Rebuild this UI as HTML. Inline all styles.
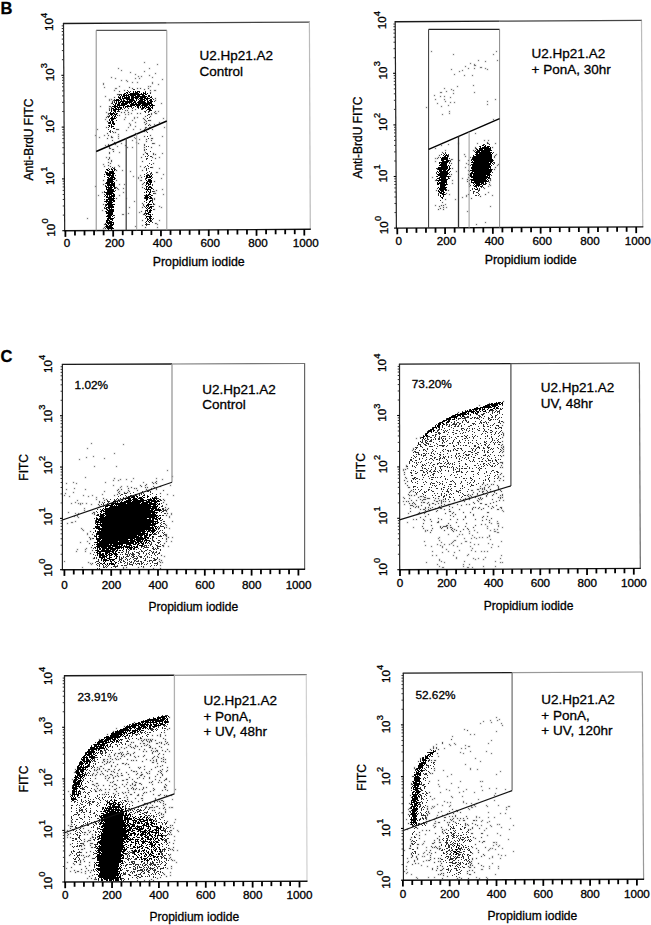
<!DOCTYPE html><html><head><meta charset="utf-8"><style>html,body{margin:0;padding:0;background:#fff;width:651px;height:925px;overflow:hidden}text{stroke:#000;stroke-width:0.3px}</style></head><body><svg width="651" height="925" viewBox="0 0 651 925" style="position:absolute;left:0;top:0" font-family='"Liberation Sans", sans-serif' fill="#000"><rect width="651" height="925" fill="#fff"/><path d="M143.5 62.5h2M156.5 64.5h2M117.5 68.5h2m29 0h2M120.5 70.5h2M143.5 71.5h2M129.5 72.5h2M154.5 73.5h2M134.5 74.5h2M148.5 75.5h2M137.5 76.5h2m1 0h2M110.5 77.5h2m39 0h2M114.5 78.5h2m18 0h2m2 0h2M161.5 79.5h2M120.5 80.5h2m3 0h2M126.5 81.5h2M131.5 82.5h2m3 0h2m13 0h2M102.5 83.5h2m47 0h2M102.5 84.5h2m53 0h2M118.5 86.5h2m27 0h2m0 0h2M103.5 87.5h2m23 0h2M114.5 88.5h3m14 0h2m3 0h2m1 0h2m6 0h2M143.5 89.5h2M113.5 90.5h2m8 0h2m24 0h2m2 0h3M118.5 91.5h2M149.5 92.5h2M116.5 94.5h3M104.5 96.5h2M113.5 97.5h2M154.5 98.5h2M108.5 99.5h2m0 0h2M108.5 100.5h2m2 0h2m40 0h2M111.5 101.5h2M110.5 103.5h2m48 0h2M99.5 106.5h2m7 0h3M108.5 108.5h2M108.5 109.5h2m24 0h2M124.5 110.5h2m0 0h2m3 0h2M154.5 111.5h2m1 0h2M105.5 112.5h2m13 0h2m1 0h2m2 0h2m24 0h2M107.5 113.5h2m21 0h2m4 0h2m1 0h2m9 0h2m2 0h3M107.5 114.5h2m15 0h2m1 0h2m21 0h2M118.5 115.5h2M106.5 116.5h2m36 0h2m3 0h2M105.5 117.5h2m17 0h2m7 0h2m1 0h2M133.5 118.5h2m7 0h2m18 0h2M104.5 119.5h2m17 0h2m18 0h2M131.5 120.5h2m11 0h2m2 0h3M106.5 121.5h2m37 0h2M134.5 122.5h2m7 0h2m13 0h2M128.5 123.5h2m15 0h2M129.5 124.5h2m13 0h2m2 0h2m3 0h2M129.5 125.5h2m18 0h2M134.5 126.5h2M105.5 127.5h2m20 0h2m15 0h3m1 0h2m13 0h2M144.5 128.5h2M96.5 129.5h2m17 0h4m13 0h2m5 0h2m2 0h2m6 0h2M125.5 130.5h2M141.5 131.5h2m0 0h2m0 0h2M112.5 132.5h2m0 0h2M106.5 133.5h2m26 0h2M117.5 134.5h2M94.5 135.5h2m7 0h2m2 0h2m40 0h2M110.5 136.5h2m5 0h2m10 0h3m11 0h2m16 0h2M98.5 137.5h2m10 0h3m20 0h2M106.5 138.5h2m9 0h2m15 0h2m14 0h3M138.5 139.5h2m5 0h2M111.5 140.5h2m18 0h2m17 0h2M118.5 141.5h2m25 0h2M113.5 142.5h2m20 0h2M120.5 143.5h2m15 0h2m12 0h4M107.5 144.5h2m5 0h2m27 0h2M104.5 145.5h2m1 0h2m15 0h2m17 0h2m13 0h2M107.5 146.5h3m6 0h2M108.5 147.5h2m16 0h2m3 0h2m10 0h2m5 0h2M108.5 148.5h3M111.5 149.5h3m29 0h2M143.5 150.5h2M112.5 151.5h2M108.5 152.5h2m8 0h2m24 0h2M108.5 153.5h2m42 0h2m7 0h2M142.5 154.5h2m8 0h2m0 0h2M105.5 157.5h2m1 0h2m30 0h2m9 0h2m5 0h2M108.5 158.5h2m44 0h2M107.5 159.5h2M110.5 160.5h2M110.5 161.5h2m29 0h2M107.5 162.5h2M109.5 163.5h2m41 0h2M102.5 164.5h2M107.5 165.5h2m8 0h2M103.5 166.5h2m4 0h2m7 0h2m19 0h2M113.5 167.5h2m28 0h2m6 0h2M158.5 168.5h2M115.5 170.5h2m4 0h2m18 0h2M129.5 171.5h2M155.5 172.5h3M162.5 174.5h2M139.5 175.5h2M132.5 176.5h2M137.5 177.5h2m1 0h2M137.5 178.5h2m21 0h2M102.5 180.5h2m11 0h2m22 0h3M153.5 181.5h2M142.5 183.5h2M102.5 184.5h2m14 0h2m3 0h2m16 0h2M94.5 186.5h2M115.5 187.5h2m24 0h2M116.5 188.5h2m4 0h2M117.5 189.5h2m42 0h2M155.5 190.5h2M153.5 191.5h2M101.5 192.5h2m19 0h2M153.5 193.5h3M162.5 194.5h2M97.5 195.5h2m19 0h2M115.5 198.5h2m8 0h2m26 0h2M153.5 199.5h2M133.5 201.5h2M141.5 203.5h2M102.5 204.5h2m38 0h2m9 0h2M142.5 205.5h2M158.5 206.5h2M128.5 207.5h2m11 0h2m17 0h2M153.5 209.5h2M101.5 210.5h2M140.5 211.5h2M138.5 212.5h2M127.5 213.5h2M121.5 214.5h3m18 0h2M86.5 218.5h2M141.5 220.5h2m15 0h2M154.5 223.5h3M103.5 224.5h2m51 0h2M141.5 225.5h2M134.5 226.5h2M103.5 227.5h2m39 0h2m10 0h2M102.5 228.5h2M430.5 51.5h2m63 0h2M452.5 54.5h2m38 0h2M477.5 60.5h2m17 0h2M484.5 61.5h2M469.5 63.5h2M473.5 64.5h2M473.5 65.5h3M464.5 66.5h2M479.5 67.5h3M467.5 68.5h2m4 0h2m9 0h2M450.5 69.5h2m34 0h2M461.5 70.5h2M458.5 71.5h2M453.5 74.5h2M463.5 75.5h2m6 0h2M472.5 85.5h2M456.5 86.5h2M443.5 88.5h2M450.5 89.5h2M452.5 90.5h2M445.5 91.5h2M439.5 92.5h3m31 0h2M452.5 93.5h2M433.5 95.5h2M439.5 96.5h2m2 0h2M449.5 97.5h2M434.5 99.5h2m7 0h2m49 0h2M444.5 101.5h2m40 0h2M449.5 102.5h2m2 0h2M436.5 103.5h2M486.5 104.5h2M447.5 105.5h2M440.5 106.5h2M425.5 107.5h2M448.5 111.5h2M448.5 113.5h2M441.5 114.5h2M492.5 119.5h2M474.5 133.5h2M483.5 140.5h2m2 0h2M486.5 142.5h2M457.5 143.5h2m17 0h2m9 0h2m5 0h2M447.5 144.5h2M440.5 145.5h2M474.5 147.5h2m15 0h2M434.5 148.5h2m38 0h2M444.5 150.5h2m26 0h2M441.5 152.5h2M463.5 154.5h2m30 0h2M438.5 155.5h2m54 0h2M464.5 156.5h2m27 0h2M437.5 157.5h2m30 0h2m22 0h2M434.5 158.5h2m0 0h2M450.5 159.5h3M449.5 160.5h2m7 0h2m7 0h2M434.5 161.5h2M450.5 163.5h2m13 0h2M467.5 164.5h2m28 0h2M496.5 165.5h2M464.5 167.5h2m28 0h2M451.5 168.5h2M493.5 169.5h2M467.5 170.5h2M455.5 171.5h2M450.5 174.5h2m15 0h2M449.5 176.5h2M431.5 177.5h2m34 0h2M461.5 178.5h2M466.5 179.5h2m21 0h2M434.5 180.5h2m15 0h2m36 0h2M466.5 181.5h2M488.5 182.5h2M451.5 183.5h2m15 0h2M468.5 184.5h2m18 0h2M489.5 185.5h2M468.5 186.5h2m17 0h2M483.5 188.5h2M435.5 190.5h2m10 0h2M487.5 192.5h2M445.5 193.5h2M448.5 194.5h2m17 0h2m15 0h2M465.5 195.5h2m24 0h2M465.5 196.5h2m12 0h2M461.5 197.5h2M470.5 198.5h2M444.5 199.5h2m8 0h2M441.5 202.5h2M444.5 204.5h2M434.5 205.5h2m4 0h2m0 0h2M438.5 206.5h2m49 0h2M442.5 207.5h2m1 0h2M439.5 208.5h2M437.5 209.5h2m3 0h2M466.5 211.5h2M484.5 222.5h2M475.5 224.5h2M90.5 443.5h2M122.5 444.5h2M86.5 448.5h2M113.5 453.5h2M92.5 456.5h2M85.5 457.5h2M103.5 458.5h2M78.5 459.5h2M93.5 466.5h2m20 0h2M166.5 470.5h2M171.5 476.5h2M84.5 477.5h2M113.5 478.5h2m17 0h2m21 0h2M119.5 479.5h2m4 0h2m34 0h2M112.5 480.5h2m3 0h2M130.5 481.5h2m23 0h2M72.5 482.5h2m30 0h2m36 0h2m7 0h2m1 0h2M65.5 483.5h2m8 0h2m75 0h2m1 0h2M145.5 484.5h2M112.5 485.5h2m25 0h2m3 0h2m23 0h2M120.5 486.5h2m4 0h2m12 0h2m10 0h2m5 0h2M119.5 487.5h2m9 0h2m12 0h2m0 0h2m5 0h2M73.5 488.5h2m52 0h2m4 0h2m0 0h2m13 0h2m3 0h2M65.5 489.5h2m17 0h2m31 0h2m1 0h2m23 0h2m3 0h2m3 0h2M116.5 490.5h2m9 0h2m7 0h2m10 0h2m12 0h2M103.5 491.5h2m13 0h2m8 0h2M72.5 492.5h2m43 0h2m4 0h2m1 0h2M64.5 493.5h2m52 0h2m39 0h2M101.5 494.5h2m13 0h2m48 0h2M63.5 495.5h2m17 0h2m7 0h2m20 0h2m57 0h2M68.5 496.5h2m17 0h2M95.5 497.5h2M102.5 498.5h2M95.5 499.5h2m8 0h2m55 0h2M76.5 500.5h2m25 0h2m58 0h2M98.5 501.5h2M74.5 502.5h2m22 0h2m1 0h2m59 0h2M70.5 503.5h2m5 0h2m0 0h2m0 0h2m2 0h2M79.5 504.5h2m9 0h2m5 0h2m66 0h2M98.5 505.5h2M97.5 507.5h2m65 0h2M83.5 508.5h2m82 0h2M164.5 509.5h2m0 0h2M83.5 510.5h2m80 0h2M165.5 511.5h2M67.5 512.5h2m23 0h3M74.5 513.5h2m1 0h2m12 0h2m0 0h2m71 0h2m2 0h2M93.5 514.5h2m75 0h2M76.5 515.5h2m87 0h2M73.5 516.5h2m1 0h2m90 0h2M77.5 517.5h2m89 0h2M74.5 521.5h2m95 0h2M70.5 522.5h3M66.5 523.5h2M164.5 524.5h2M165.5 525.5h2M165.5 527.5h2M80.5 528.5h2m86 0h2M81.5 529.5h2M82.5 530.5h2M89.5 531.5h2M86.5 533.5h2M86.5 534.5h2m3 0h2m71 0h3M164.5 535.5h3M165.5 536.5h2M88.5 537.5h2m77 0h2m2 0h2M89.5 538.5h2m0 0h2m72 0h2M89.5 539.5h2m74 0h2M86.5 541.5h2m77 0h2m3 0h2M79.5 542.5h2M88.5 543.5h2m73 0h2M162.5 545.5h2M162.5 546.5h2m3 0h2M90.5 547.5h2M85.5 548.5h2M76.5 549.5h2m6 0h2M91.5 550.5h2M75.5 551.5h2m7 0h2M89.5 553.5h2M160.5 555.5h2M163.5 556.5h2M92.5 558.5h2M158.5 559.5h2M160.5 560.5h2M63.5 561.5h2m93 0h2M87.5 562.5h2m70 0h2m0 0h2M89.5 563.5h2m0 0h2M90.5 564.5h2M159.5 565.5h2M81.5 567.5h2m39 0h2m1 0h2m10 0h2m3 0h2M122.5 568.5h2m28 0h2m5 0h2M502.5 401.5h2M488.5 403.5h2M478.5 405.5h2M457.5 412.5h2M502.5 422.5h2M501.5 425.5h2M501.5 432.5h2M502.5 433.5h2M502.5 434.5h2M502.5 435.5h2M419.5 437.5h2m80 0h2M415.5 438.5h2M501.5 441.5h2M501.5 444.5h2M500.5 445.5h2M502.5 446.5h2M500.5 447.5h2m0 0h2M412.5 448.5h2m87 0h2M412.5 449.5h2m88 0h2M411.5 450.5h2m87 0h2M502.5 451.5h2M501.5 452.5h2M502.5 455.5h2M500.5 456.5h2M499.5 462.5h4M501.5 463.5h2M405.5 465.5h2m93 0h2M405.5 466.5h2M499.5 467.5h2m0 0h2M406.5 468.5h2M402.5 469.5h2m0 0h2M402.5 470.5h2M403.5 472.5h2M500.5 473.5h2M403.5 474.5h2m94 0h2M497.5 476.5h2m3 0h2M404.5 477.5h2m91 0h2M405.5 478.5h2m92 0h2M403.5 480.5h2m93 0h2m2 0h2M406.5 481.5h2m85 0h2M404.5 483.5h2m76 0h2M481.5 484.5h2m3 0h2m2 0h2m0 0h2M406.5 485.5h2m76 0h2m10 0h2M479.5 486.5h2m7 0h2m7 0h2M407.5 487.5h3m73 0h2m2 0h2m8 0h2M479.5 488.5h2m0 0h2m0 0h2m12 0h2M476.5 489.5h3m2 0h2m0 0h2m4 0h2m6 0h2M410.5 490.5h2m58 0h3m12 0h2m12 0h2M409.5 491.5h2m1 0h2m64 0h2m1 0h3m2 0h2m1 0h2m2 0h2m5 0h2M408.5 492.5h2m62 0h2m7 0h2m10 0h2M476.5 493.5h2m4 0h2m11 0h2M407.5 494.5h2m6 0h2m50 0h2m2 0h2m3 0h2m8 0h2m4 0h2m7 0h2M408.5 495.5h2m0 0h2m1 0h2m51 0h2m1 0h2m14 0h2m4 0h2m6 0h2m0 0h2M419.5 496.5h3m0 0h2m43 0h2m1 0h2m2 0h2m9 0h2M402.5 497.5h2m13 0h2m4 0h3m42 0h2m4 0h2m3 0h2m16 0h2m0 0h2m0 0h2M403.5 498.5h2m3 0h2m16 0h4m4 0h2m1 0h2m25 0h2m11 0h2m0 0h2m0 0h2m16 0h2M419.5 499.5h2m1 0h4m16 0h2m15 0h2m1 0h2m4 0h2m8 0h2m0 0h2m9 0h2M410.5 500.5h2m3 0h2m4 0h2m10 0h2m3 0h2m0 0h2m11 0h2m7 0h2m12 0h2m20 0h2m2 0h2M402.5 501.5h2m1 0h2m0 0h2m26 0h3m2 0h2m0 0h2m0 0h2m2 0h2m13 0h2m12 0h2m16 0h2M412.5 502.5h2m6 0h2m0 0h3m2 0h2m11 0h2m30 0h2m18 0h2M408.5 503.5h2m1 0h2m0 0h2m11 0h2m3 0h3m3 0h2m1 0h2m10 0h2m19 0h2m4 0h3m7 0h2M403.5 504.5h2m9 0h2m12 0h2m4 0h2m7 0h2m2 0h3m6 0h2m7 0h2m1 0h2m14 0h3M409.5 505.5h4m7 0h2m6 0h2m10 0h2m3 0h2m13 0h2m33 0h2M412.5 506.5h2m1 0h2m0 0h2m19 0h2m8 0h2m37 0h2m2 0h2M414.5 507.5h2m1 0h2m5 0h2m1 0h2m2 0h2m4 0h3m11 0h2m19 0h2m0 0h2m2 0h2m12 0h2m5 0h3M409.5 508.5h2m13 0h2m3 0h2m3 0h2m3 0h3m29 0h2m4 0h2m3 0h2m6 0h2m8 0h2M419.5 509.5h2m1 0h3m2 0h2m14 0h2m3 0h2m8 0h2m11 0h2m7 0h2m14 0h3M424.5 510.5h2m2 0h2m6 0h2m63 0h2M409.5 511.5h2m14 0h2m8 0h2m11 0h3m51 0h2M418.5 512.5h2m4 0h2m26 0h2m8 0h2m5 0h2m15 0h3M407.5 513.5h2m8 0h2m0 0h2m2 0h2m19 0h2m5 0h2M416.5 514.5h2m9 0h2m25 0h2m16 0h2M449.5 515.5h2m21 0h2M424.5 516.5h2m26 0h2m10 0h2m16 0h2m2 0h2M419.5 517.5h2m43 0h2m15 0h2M437.5 518.5h2m51 0h2M412.5 519.5h2m1 0h2m5 0h2m5 0h2m9 0h2m7 0h2m5 0h2m4 0h2m10 0h2m9 0h2M423.5 520.5h2m56 0h2m5 0h2M430.5 521.5h2m5 0h2m57 0h2M406.5 522.5h2m28 0h3m16 0h2m31 0h2M422.5 523.5h2m23 0h2m16 0h2m23 0h2m4 0h3M480.5 524.5h2m2 0h2M430.5 525.5h2m13 0h3m1 0h2m23 0h2m21 0h2M421.5 526.5h2m16 0h2m1 0h5m10 0h2m5 0h2m20 0h2m9 0h2M412.5 527.5h2m25 0h2m0 0h2m3 0h2m1 0h3m20 0h2m27 0h2M422.5 528.5h2m7 0h2m7 0h2m4 0h2m3 0h2m13 0h2m18 0h2M450.5 529.5h2m1 0h2m7 0h2m3 0h2m24 0h2m1 0h2M424.5 530.5h2m0 0h2m2 0h2m11 0h2m6 0h2m2 0h2m16 0h2m14 0h2M424.5 531.5h2m26 0h2m5 0h2m7 0h2m23 0h3M429.5 532.5h2m45 0h2m18 0h3M468.5 533.5h2M447.5 534.5h2m9 0h2m1 0h2M471.5 535.5h2m15 0h2M456.5 536.5h2m30 0h2M438.5 537.5h2m33 0h2m3 0h2m1 0h2m3 0h2M437.5 538.5h2m24 0h2m5 0h2m3 0h2M489.5 539.5h2M438.5 540.5h2m13 0h3M423.5 541.5h2m27 0h2m10 0h3m33 0h2M440.5 542.5h2m9 0h2m16 0h2M450.5 543.5h2m8 0h2m25 0h2M436.5 544.5h2m5 0h2m3 0h2m23 0h2m2 0h2m12 0h2M424.5 545.5h2m13 0h2m11 0h2M430.5 546.5h2m9 0h2m13 0h2m11 0h2m26 0h2M441.5 547.5h2m47 0h2M471.5 548.5h2M445.5 549.5h2M458.5 550.5h2m10 0h2M431.5 551.5h2m14 0h2m25 0h2m4 0h2m1 0h2m1 0h2M441.5 552.5h2m10 0h2M467.5 554.5h2M431.5 555.5h2m2 0h2m15 0h2m12 0h2m32 0h2M455.5 557.5h2m27 0h2M455.5 558.5h2m15 0h2m3 0h2m20 0h2M438.5 559.5h2m34 0h2m6 0h2M438.5 560.5h2M440.5 561.5h2m21 0h2m29 0h2M425.5 562.5h2m16 0h2m54 0h2m0 0h2M436.5 564.5h2m24 0h2m4 0h2M438.5 566.5h2m22 0h2m18 0h2m10 0h2M441.5 567.5h3m22 0h3m2 0h2M168.5 717.5h2M133.5 722.5h2M123.5 726.5h2M115.5 728.5h2m51 0h2M166.5 729.5h2M112.5 731.5h2M163.5 732.5h2M106.5 734.5h2m51 0h2M151.5 735.5h2m3 0h2m1 0h2m3 0h2M159.5 736.5h2M140.5 738.5h2m20 0h2M98.5 739.5h2m37 0h2m4 0h2m0 0h2m0 0h2m0 0h2m0 0h2m11 0h2M140.5 740.5h2m0 0h2m1 0h2m2 0h3m2 0h2M141.5 741.5h2m3 0h2m0 0h2m0 0h2m12 0h2M130.5 742.5h2m0 0h2m14 0h2m8 0h2m0 0h2m4 0h2M139.5 743.5h2m1 0h3m10 0h3m2 0h2m3 0h2M129.5 744.5h2m15 0h2m15 0h2m2 0h2M127.5 745.5h2m5 0h2m7 0h2m0 0h2m1 0h2M129.5 746.5h2m3 0h2m0 0h2m2 0h2m7 0h2m7 0h2M120.5 747.5h2m3 0h2m3 0h2m0 0h2m14 0h3m9 0h2M123.5 748.5h2m8 0h2m16 0h2m1 0h2M118.5 749.5h2m18 0h2m3 0h2m21 0h2M150.5 750.5h2m3 0h3m3 0h2M126.5 751.5h2m14 0h2m1 0h2m5 0h2m0 0h2m0 0h2m6 0h2m2 0h2M119.5 752.5h2m0 0h2m10 0h2m16 0h2M114.5 753.5h2m1 0h3m0 0h2m4 0h3m3 0h2m17 0h2m5 0h2M108.5 754.5h2m3 0h2m5 0h2m0 0h2m1 0h2m2 0h2m26 0h2m3 0h2M113.5 755.5h2m6 0h2m6 0h2m12 0h2M107.5 756.5h2m0 0h2m5 0h2m2 0h2m1 0h2m8 0h2m2 0h2m3 0h2m9 0h2m1 0h2M134.5 757.5h2m16 0h2m3 0h2m3 0h2M109.5 758.5h2m3 0h2m3 0h2m30 0h2m7 0h2M102.5 759.5h3m1 0h2m3 0h2m2 0h2m0 0h2m7 0h2m17 0h2m8 0h2m5 0h2m0 0h2M102.5 760.5h2m26 0h2m0 0h2m1 0h2m12 0h2m1 0h2m1 0h2M103.5 761.5h2m1 0h2m1 0h2m30 0h2m12 0h2m3 0h2m0 0h2M101.5 762.5h2m3 0h2m0 0h2m2 0h2m37 0h3m10 0h2M105.5 763.5h2m14 0h3m1 0h2m29 0h2M103.5 764.5h2m11 0h2m6 0h2m1 0h2M110.5 765.5h2m49 0h2M99.5 766.5h3m8 0h2m2 0h2m27 0h2m11 0h2m1 0h2M96.5 767.5h2m30 0h2m7 0h2m0 0h2m13 0h2m10 0h2M98.5 768.5h2m2 0h2m34 0h2M74.5 769.5h2m17 0h2m1 0h2m0 0h2m7 0h3m3 0h2m3 0h2m23 0h2m5 0h2m9 0h2M93.5 770.5h2m0 0h2m7 0h2m11 0h2m11 0h2m27 0h2m5 0h2M100.5 771.5h2m4 0h2m2 0h2m0 0h2m18 0h3m0 0h2m11 0h2m7 0h2m1 0h2m3 0h2M73.5 772.5h2m21 0h2m15 0h2m10 0h2m13 0h2m3 0h2m12 0h2M92.5 773.5h2m7 0h2m13 0h2m2 0h2m14 0h2m8 0h2m0 0h2m10 0h2M91.5 774.5h2m2 0h2m2 0h2m1 0h2m5 0h3m15 0h2m6 0h2m3 0h3m13 0h2m3 0h2M91.5 775.5h2m1 0h2m10 0h2m3 0h2m3 0h2m2 0h3m16 0h3m19 0h2M104.5 776.5h2m8 0h2m1 0h2m24 0h2m9 0h2M108.5 777.5h2m2 0h2m14 0h2m8 0h2m8 0h2m9 0h2M94.5 778.5h2m8 0h2m1 0h2m3 0h2m22 0h2m4 0h2m4 0h2m15 0h2M71.5 779.5h2m52 0h3m3 0h2m21 0h2m8 0h3M106.5 780.5h2m8 0h2m3 0h3m34 0h2m3 0h2M91.5 781.5h2m19 0h2m19 0h2m16 0h2m15 0h2M109.5 782.5h2m0 0h2m13 0h2m6 0h3m11 0h2m0 0h2m5 0h2m1 0h2M95.5 783.5h3m33 0h2m5 0h3M91.5 784.5h3m19 0h3m5 0h2m2 0h2m4 0h2m1 0h2m4 0h2m9 0h2m11 0h2M93.5 785.5h2m2 0h2m3 0h2m4 0h2m5 0h2m12 0h2m2 0h3m29 0h2M95.5 786.5h2m14 0h2m10 0h2m38 0h2M118.5 787.5h2m11 0h2m9 0h2m1 0h2m16 0h3M96.5 788.5h2m17 0h2m9 0h2m2 0h2m0 0h2m1 0h2m5 0h2m8 0h2M93.5 789.5h2m4 0h2m3 0h2m2 0h2m3 0h3m16 0h2m0 0h2m2 0h2m1 0h2m10 0h2m9 0h2m8 0h2M94.5 790.5h2m2 0h2m0 0h2m25 0h2m23 0h2m7 0h2m3 0h2M67.5 791.5h2m26 0h2m18 0h2m32 0h2M104.5 792.5h2m1 0h2m12 0h2m1 0h2m1 0h2m4 0h2m8 0h2m0 0h2M112.5 793.5h2m3 0h2m3 0h2m18 0h2M69.5 794.5h2m30 0h2m0 0h2m9 0h2m13 0h3m5 0h2m13 0h2m5 0h2M125.5 795.5h2m9 0h3m2 0h2m14 0h3m3 0h2m0 0h2m3 0h2M166.5 796.5h2M123.5 797.5h2m1 0h2M134.5 798.5h2m4 0h3m11 0h2M126.5 799.5h2m26 0h2m2 0h2m11 0h2M141.5 800.5h2m17 0h3M127.5 801.5h2m1 0h2m5 0h2m14 0h2m1 0h2m0 0h2m2 0h2M131.5 802.5h2m20 0h2m4 0h2M143.5 803.5h5m1 0h2m11 0h2M146.5 804.5h2m16 0h2M142.5 805.5h2m7 0h2m9 0h2M145.5 806.5h2m8 0h3M144.5 807.5h3m1 0h5m0 0h2m8 0h2m3 0h2m0 0h3M148.5 808.5h2m8 0h2m2 0h2M164.5 809.5h2M151.5 810.5h2m0 0h2M164.5 811.5h2M158.5 812.5h2m4 0h2M157.5 813.5h2m1 0h2M160.5 814.5h2m0 0h2M162.5 816.5h2M161.5 817.5h2M174.5 819.5h2M70.5 820.5h2M70.5 821.5h2m94 0h2M70.5 822.5h2m101 0h2M70.5 824.5h2M67.5 825.5h2m100 0h2m0 0h2M69.5 826.5h3M169.5 827.5h2M69.5 828.5h2m11 0h2m88 0h2M66.5 830.5h2m19 0h2m80 0h3m4 0h2M89.5 831.5h2m86 0h2M83.5 832.5h3m2 0h2m79 0h2M66.5 833.5h2m1 0h2M67.5 834.5h2m14 0h2m1 0h2m3 0h2m75 0h2m0 0h2M66.5 835.5h2M91.5 836.5h2m80 0h2M66.5 837.5h2m1 0h2m20 0h2M89.5 838.5h2M83.5 839.5h2M87.5 840.5h4m82 0h2M83.5 841.5h2m1 0h2M168.5 842.5h2M81.5 843.5h3m5 0h4m79 0h2M69.5 844.5h2m11 0h2M80.5 845.5h2m1 0h2m4 0h2M80.5 846.5h2M90.5 847.5h3m79 0h2M83.5 848.5h2m83 0h2M80.5 849.5h3m86 0h2m0 0h2M172.5 850.5h2m2 0h2M89.5 851.5h2M80.5 852.5h2m3 0h2M69.5 854.5h2m98 0h2M68.5 855.5h2m10 0h2m0 0h2m4 0h2m78 0h2M85.5 856.5h2m0 0h2M83.5 857.5h2m84 0h2M91.5 858.5h2m75 0h2M82.5 859.5h2m86 0h2M79.5 860.5h2m90 0h2m0 0h2M79.5 861.5h2m2 0h2M66.5 862.5h2m11 0h2m7 0h2m85 0h2M72.5 863.5h2M73.5 864.5h2m3 0h3M88.5 865.5h2M84.5 866.5h2m84 0h2M70.5 867.5h2M65.5 868.5h2m18 0h2m79 0h2m2 0h2M80.5 869.5h2M73.5 870.5h2m12 0h2m1 0h2M69.5 871.5h2m5 0h3m5 0h2M74.5 872.5h2m4 0h2m7 0h2m78 0h2M84.5 873.5h2m76 0h2M163.5 874.5h2M91.5 875.5h2m76 0h2M88.5 876.5h2m75 0h2M159.5 877.5h2M86.5 878.5h2m2 0h2m2 0h2m60 0h2M93.5 879.5h3m54 0h2M136.5 880.5h2m5 0h2m3 0h2m2 0h2M495.5 717.5h2M498.5 719.5h2M489.5 720.5h2m5 0h2M482.5 721.5h2M490.5 722.5h2M479.5 723.5h2m19 0h2M501.5 725.5h2M463.5 729.5h2M466.5 730.5h2M495.5 731.5h2M469.5 734.5h2m2 0h2M451.5 736.5h2M450.5 739.5h2M490.5 740.5h2M441.5 742.5h2M441.5 743.5h2m10 0h2m32 0h2M435.5 744.5h2m11 0h2m4 0h2M449.5 745.5h2m13 0h2M432.5 746.5h2m33 0h3M432.5 747.5h2m1 0h2M432.5 748.5h2m1 0h2m6 0h2m15 0h2m2 0h2M429.5 749.5h2m6 0h2M469.5 751.5h2m14 0h2M459.5 752.5h2M436.5 753.5h2m24 0h2m26 0h2M437.5 756.5h2M419.5 758.5h2m53 0h2M430.5 760.5h2m1 0h3M417.5 761.5h2m60 0h2M464.5 764.5h2M413.5 767.5h2M413.5 768.5h2m18 0h2m34 0h2M469.5 769.5h2m5 0h2M433.5 770.5h2m7 0h2M499.5 771.5h2M429.5 773.5h2m0 0h2M450.5 774.5h2m43 0h2M411.5 776.5h2m33 0h2M437.5 780.5h2M428.5 781.5h2m29 0h2m18 0h2m0 0h2M410.5 783.5h2m38 0h2M410.5 784.5h2m25 0h2M438.5 786.5h2m40 0h2M457.5 787.5h2M488.5 788.5h2m5 0h2M445.5 789.5h2m18 0h2m37 0h2M448.5 790.5h2m31 0h2M462.5 791.5h2M428.5 792.5h2m9 0h2m17 0h2m13 0h2M494.5 793.5h2M409.5 795.5h2m82 0h2M429.5 796.5h2m19 0h2m9 0h2M451.5 797.5h2M433.5 798.5h2M431.5 799.5h2m44 0h2M493.5 800.5h2M443.5 801.5h2m17 0h2M446.5 802.5h2m1 0h2m11 0h2M408.5 803.5h2m55 0h2m3 0h2m3 0h2M436.5 804.5h2M441.5 805.5h2m6 0h2m22 0h2m10 0h2m10 0h2M426.5 806.5h2m3 0h2m0 0h2m13 0h2m20 0h2m2 0h2m10 0h2m19 0h3M432.5 807.5h2m36 0h3m32 0h2M408.5 808.5h2m16 0h2m2 0h2m35 0h2M407.5 809.5h2m17 0h2m23 0h2m15 0h2m35 0h2M455.5 810.5h2M408.5 811.5h2m17 0h2m11 0h2m6 0h2m6 0h2M427.5 812.5h2m8 0h2m20 0h2m26 0h2M428.5 813.5h2m16 0h2m4 0h2m45 0h2m3 0h2M407.5 814.5h2m17 0h2m17 0h2M426.5 815.5h2m8 0h2m3 0h2m11 0h2M448.5 816.5h2m1 0h2m1 0h2m9 0h2m8 0h2M425.5 817.5h2m8 0h2m6 0h3m29 0h2m1 0h2m7 0h2m4 0h2M425.5 818.5h2m25 0h2m2 0h2m1 0h2m1 0h2m2 0h2m41 0h2M405.5 819.5h2m18 0h2m6 0h2m14 0h2m0 0h2M428.5 820.5h2m13 0h2m5 0h2m6 0h2m2 0h3m7 0h3m0 0h2m4 0h2M425.5 821.5h2m7 0h2m16 0h2m26 0h2m6 0h2M437.5 822.5h3m6 0h2m0 0h2m4 0h2m30 0h2M407.5 823.5h2m16 0h2m6 0h3m28 0h2m5 0h2M447.5 824.5h2m15 0h2m0 0h2m6 0h2m20 0h2m0 0h2M432.5 825.5h2m13 0h2m15 0h2m1 0h2m7 0h2m2 0h2m7 0h2m21 0h2M434.5 826.5h2m54 0h2M433.5 827.5h2m5 0h2m29 0h2m27 0h2M416.5 828.5h2m53 0h2m5 0h2m5 0h2M406.5 829.5h2m33 0h2m2 0h2m20 0h2m0 0h2m37 0h2M421.5 830.5h2m2 0h2m1 0h2m13 0h2m38 0h2M441.5 831.5h2M418.5 832.5h2m21 0h2M434.5 833.5h2m6 0h2m26 0h3m7 0h3m13 0h2M415.5 834.5h2m7 0h2M418.5 835.5h2m66 0h2m11 0h2M438.5 836.5h2M410.5 837.5h2m60 0h2m6 0h2M418.5 838.5h2m16 0h2m36 0h2M409.5 839.5h2m27 0h2m67 0h2M433.5 840.5h2m3 0h2M410.5 841.5h2m11 0h2m53 0h2m2 0h3M433.5 842.5h2m3 0h3m40 0h2m9 0h3m0 0h2M410.5 843.5h2m10 0h2m7 0h3M416.5 844.5h3m2 0h2m51 0h2m19 0h2M409.5 845.5h2m81 0h2m4 0h2M409.5 846.5h2m19 0h2m2 0h2m2 0h2m57 0h2M416.5 847.5h2m7 0h2m4 0h2m0 0h2m0 0h2m34 0h2m11 0h2M408.5 848.5h3m5 0h2m18 0h2m0 0h3m34 0h2m12 0h2m0 0h2m8 0h2M438.5 849.5h2m48 0h2m4 0h2M403.5 850.5h2m20 0h2m2 0h2m46 0h2m8 0h2M512.5 851.5h2M423.5 852.5h2m3 0h2m4 0h2m41 0h2M410.5 853.5h2m10 0h2m6 0h2m39 0h2M410.5 854.5h2m5 0h2m7 0h2m54 0h2m13 0h2M429.5 855.5h2m52 0h2m15 0h2m2 0h2M411.5 856.5h2m2 0h2m4 0h2m0 0h2m55 0h2m9 0h2M410.5 857.5h2m3 0h2m12 0h2m60 0h2M406.5 858.5h2m8 0h2m15 0h2m2 0h2m0 0h2m30 0h2m2 0h2m11 0h2m9 0h2M416.5 859.5h2m11 0h2m40 0h2M413.5 860.5h2m10 0h2m0 0h3M407.5 861.5h2m4 0h2m7 0h2m13 0h2m0 0h2m29 0h2M406.5 862.5h2m25 0h2m33 0h3M414.5 863.5h2m1 0h2m21 0h2m28 0h2m5 0h2m12 0h2M411.5 864.5h2m56 0h2M420.5 865.5h2m17 0h2m28 0h2m0 0h2m7 0h2M405.5 866.5h2m19 0h2m8 0h2m3 0h2m24 0h2m13 0h2m4 0h2m7 0h2M468.5 867.5h3m2 0h2M431.5 868.5h2m3 0h2m4 0h2m44 0h2m7 0h2M405.5 869.5h2m24 0h2m8 0h2m37 0h3M435.5 870.5h2m2 0h3m26 0h2m1 0h2M403.5 871.5h2m61 0h2M406.5 872.5h2m65 0h2M405.5 873.5h2m33 0h2m0 0h2m22 0h2M410.5 874.5h2m25 0h2m0 0h2m27 0h3m23 0h2M442.5 875.5h2M446.5 876.5h2M415.5 877.5h2m10 0h2m4 0h2m23 0h2m15 0h2m8 0h2M416.5 878.5h2m23 0h2m13 0h2m2 0h2m5 0h2m9 0h2m6 0h2" stroke="#dedede" stroke-width="2" fill="none"/><path d="M144 62.5h1M157 64.5h1M118 68.5h1m30 0h1M121 70.5h1M144 71.5h1M130 72.5h1M155 73.5h1M135 74.5h1M149 75.5h1M138 76.5h1m2 0h1M111 77.5h1m40 0h1M115 78.5h1m19 0h1m3 0h1M162 79.5h1M121 80.5h1m4 0h1M127 81.5h1M132 82.5h1m4 0h1m14 0h1M103 83.5h1m48 0h1M103 84.5h1m54 0h1M119 86.5h1m28 0h1m1 0h1M104 87.5h1M115 88.5h2M114 90.5h1m39 0h2M105 96.5h1M109 99.5h1m1 0h1M109 100.5h1M161 103.5h1M100 106.5h1M158 111.5h1M106 112.5h1M131 113.5h1m24 0h1M125 114.5h1m2 0h1M125 117.5h1m8 0h1m2 0h1M134 118.5h1m28 0h1M105 119.5h1m18 0h1M132 120.5h1M135 122.5h1m23 0h1M129 123.5h1M130 124.5h1m23 0h1M130 125.5h1M135 126.5h1M128 127.5h1m35 0h1M97 129.5h1m35 0h1m6 0h1M126 130.5h1M135 133.5h1M118 134.5h1M95 135.5h1m8 0h1M118 136.5h1m11 0h2m30 0h1M99 137.5h1m34 0h1M118 138.5h1m16 0h1M139 139.5h1M132 140.5h1M119 141.5h1M136 142.5h1M121 143.5h1m16 0h1m15 0h1M115 144.5h1M105 145.5h1m19 0h1m33 0h1M117 146.5h1M127 147.5h1m4 0h1M119 152.5h1M162 153.5h1M106 157.5h1m52 0h1M103 164.5h1M118 165.5h1M104 166.5h1m14 0h1m20 0h1M159 168.5h1M122 170.5h1M130 171.5h1M157 172.5h1M163 174.5h1M140 175.5h1M133 176.5h1M138 177.5h1M138 178.5h1m22 0h1M140 180.5h1M119 184.5h1m4 0h1M95 186.5h1M123 188.5h1M118 189.5h1m43 0h1M102 192.5h1m20 0h1M163 194.5h1M98 195.5h1m20 0h1M126 198.5h1M134 201.5h1M159 206.5h1M129 207.5h1m31 0h1M102 210.5h1M139 212.5h1M128 213.5h1M122 214.5h2M87 218.5h1M159 220.5h1M156 223.5h1M157 224.5h1M142 225.5h1M135 226.5h1M157 227.5h1M103 228.5h1M431 51.5h1m64 0h1M453 54.5h1m39 0h1M478 60.5h1m18 0h1M485 61.5h1M470 63.5h1M474 64.5h1M474 65.5h2M465 66.5h1M480 67.5h2M468 68.5h1m5 0h1m10 0h1M451 69.5h1m35 0h1M462 70.5h1M459 71.5h1M454 74.5h1M464 75.5h1m7 0h1M473 85.5h1M457 86.5h1M444 88.5h1M451 89.5h1M453 90.5h1M446 91.5h1M440 92.5h2m32 0h1M453 93.5h1M434 95.5h1M440 96.5h1m3 0h1M450 97.5h1M435 99.5h1m8 0h1m50 0h1M445 101.5h1m41 0h1M450 102.5h1m3 0h1M437 103.5h1M487 104.5h1M448 105.5h1M441 106.5h1M426 107.5h1M449 111.5h1M449 113.5h1M442 114.5h1M493 119.5h1M475 133.5h1M484 140.5h1m3 0h1M458 143.5h1m18 0h1m17 0h1M448 144.5h1M441 145.5h1M435 148.5h1M445 150.5h1M464 154.5h1m31 0h1M465 156.5h1M435 158.5h1M452 159.5h1M459 160.5h1M435 161.5h1M466 163.5h1M498 164.5h1M497 165.5h1M465 167.5h1M456 171.5h1M432 177.5h1M462 178.5h1M452 180.5h1M452 183.5h1M490 185.5h1M488 186.5h1M488 192.5h1M449 194.5h1M466 195.5h1m25 0h1M466 196.5h1M462 197.5h1M455 199.5h1M445 204.5h1M435 205.5h1M490 206.5h1M446 207.5h1M467 211.5h1M485 222.5h1M476 224.5h1M91 443.5h1M123 444.5h1M87 448.5h1M114 453.5h1M93 456.5h1M86 457.5h1M104 458.5h1M79 459.5h1M94 466.5h1m21 0h1M167 470.5h1M172 476.5h1M85 477.5h1M114 478.5h1m18 0h1m22 0h1M120 479.5h1m5 0h1m35 0h1M113 480.5h1m4 0h1M131 481.5h1M73 482.5h1m31 0h1m37 0h1M66 483.5h1m9 0h1M113 485.5h1m56 0h1M121 486.5h1m5 0h1M120 487.5h1M74 488.5h1M66 489.5h1m18 0h1M104 491.5h1M73 492.5h1M65 493.5h1M102 494.5h1m64 0h1M64 495.5h1m18 0h1m8 0h1m80 0h1M69 496.5h1m18 0h1M96 497.5h1M96 499.5h1M77 500.5h1M75 502.5h1M71 503.5h1m6 0h1m1 0h1m1 0h1m3 0h1M80 504.5h1m10 0h1M84 508.5h1M84 510.5h1M68 512.5h1M75 513.5h1m2 0h1m92 0h1M171 514.5h1M77 515.5h1M74 516.5h1m2 0h1m91 0h1M78 517.5h1m90 0h1M75 521.5h1m96 0h1M71 522.5h2M67 523.5h1M81 528.5h1m87 0h1M82 529.5h1M83 530.5h1M87 533.5h1M87 534.5h1M172 537.5h1M87 541.5h1m83 0h1M80 542.5h1M168 546.5h1M86 548.5h1M77 549.5h1m7 0h1M76 551.5h1m8 0h1M164 556.5h1M64 561.5h1M88 562.5h1m73 0h1M90 563.5h1M91 564.5h1M82 567.5h1M479 405.5h1M416 438.5h1M413 448.5h1M412 450.5h1M406 465.5h1M403 469.5h1M403 470.5h1M403 497.5h1M503 500.5h1M403 501.5h1M404 504.5h1M502 510.5h1M503 511.5h1M408 513.5h1M413 519.5h1M497 521.5h1M407 522.5h1M491 523.5h1m5 0h2M485 524.5h1M498 525.5h1M487 526.5h1m10 0h1M413 527.5h1m88 0h1M487 528.5h1M494 529.5h1m2 0h1M425 530.5h1m48 0h1m15 0h1M425 531.5h1m43 0h1m24 0h2M477 532.5h1m19 0h2M469 533.5h1M448 534.5h1m10 0h1m2 0h1M472 535.5h1m16 0h1M457 536.5h1m31 0h1M439 537.5h1m34 0h1m4 0h1m2 0h1m4 0h1M438 538.5h1m25 0h1m6 0h1m4 0h1M490 539.5h1M439 540.5h1m14 0h2M424 541.5h1m28 0h1m11 0h2m34 0h1M441 542.5h1m10 0h1m17 0h1M451 543.5h1m9 0h1m26 0h1M437 544.5h1m6 0h1m4 0h1m24 0h1m3 0h1m13 0h1M425 545.5h1m14 0h1m12 0h1M431 546.5h1m10 0h1m14 0h1m12 0h1m27 0h1M442 547.5h1m48 0h1M472 548.5h1M446 549.5h1M459 550.5h1m11 0h1M432 551.5h1m15 0h1m26 0h1m5 0h1m2 0h1m2 0h1M442 552.5h1m11 0h1M468 554.5h1M432 555.5h1m3 0h1m16 0h1m13 0h1m33 0h1M456 557.5h1m28 0h1M456 558.5h1m16 0h1m4 0h1m21 0h1M439 559.5h1m35 0h1m7 0h1M439 560.5h1M441 561.5h1m22 0h1m30 0h1M426 562.5h1m17 0h1m55 0h1m1 0h1M437 564.5h1m25 0h1m5 0h1M439 566.5h1m23 0h1m19 0h1m11 0h1M442 567.5h2m23 0h2m3 0h1M116 728.5h1M169 751.5h1M74 772.5h1M72 779.5h1M169 781.5h1M175 789.5h1M68 791.5h1M171 795.5h1M172 799.5h1M169 807.5h1m1 0h2M175 819.5h1M174 822.5h1M68 825.5h1M173 828.5h1M67 830.5h1m109 0h1M178 831.5h1M67 833.5h1M67 835.5h1M174 836.5h1M67 837.5h1M174 840.5h1M177 850.5h1M174 860.5h1M67 862.5h1m108 0h1M66 868.5h1m104 0h1M70 871.5h1M81 872.5h1m88 0h1M85 873.5h1M170 875.5h1M87 878.5h1M496 717.5h1M499 719.5h1M490 720.5h1m6 0h1M483 721.5h1M491 722.5h1M480 723.5h1m20 0h1M502 725.5h1M464 729.5h1M496 731.5h1M470 734.5h1m3 0h1M452 736.5h1M491 740.5h1M454 743.5h1m33 0h1M436 744.5h1m12 0h1m5 0h1M450 745.5h1m14 0h1M433 746.5h1m34 0h2M444 748.5h1m16 0h1m3 0h1M470 751.5h1m15 0h1M460 752.5h1M463 753.5h1m27 0h1M438 756.5h1M475 758.5h1M480 761.5h1M465 764.5h1M414 767.5h1M470 768.5h1M470 769.5h1m6 0h1M443 770.5h1M500 771.5h1M451 774.5h1m44 0h1M447 776.5h1M438 780.5h1M460 781.5h1m19 0h1m1 0h1M451 783.5h1M438 784.5h1M439 786.5h1m41 0h1M458 787.5h1M489 788.5h1m6 0h1M446 789.5h1m19 0h1m38 0h1M449 790.5h1m32 0h1M463 791.5h1M440 792.5h1m18 0h1m14 0h1M495 793.5h1M494 795.5h1M451 796.5h1m10 0h1M452 797.5h1M434 798.5h1M432 799.5h1m45 0h1M494 800.5h1M444 801.5h1m18 0h1M447 802.5h1m2 0h1m12 0h1M466 803.5h1m4 0h1m4 0h1M437 804.5h1M442 805.5h1m7 0h1m23 0h1m11 0h1m11 0h1M432 806.5h1m1 0h1m14 0h1m21 0h1m3 0h1m11 0h1m20 0h2M433 807.5h1m37 0h2m33 0h1M431 808.5h1m36 0h1M408 809.5h1m60 0h1m36 0h1M441 811.5h1M438 812.5h1m49 0h1M500 813.5h1m4 0h1M437 815.5h1M476 816.5h1M436 817.5h1m39 0h1m2 0h1m8 0h1m5 0h1M510 818.5h1M406 819.5h1m27 0h1M482 820.5h1M435 821.5h1m45 0h1m7 0h1M487 822.5h1M434 823.5h2M497 824.5h1m1 0h1M433 825.5h1m47 0h1m8 0h1m22 0h1M491 826.5h1M501 827.5h1M486 828.5h1M407 829.5h1m101 0h1M422 830.5h1m61 0h1M497 833.5h1M425 834.5h1M487 835.5h1m12 0h1M508 839.5h1M424 841.5h1M493 842.5h2m1 0h1M423 843.5h1M422 844.5h1m73 0h1M493 845.5h1m5 0h1M498 846.5h1M426 847.5h1M490 848.5h1m1 0h1m9 0h1M489 849.5h1m5 0h1M404 850.5h1m21 0h1m61 0h1M513 851.5h1M424 852.5h1M423 853.5h1M427 854.5h1m70 0h1M501 855.5h1m3 0h1M422 856.5h1m1 0h1m67 0h1M492 857.5h1M407 858.5h1m81 0h1m10 0h1M426 860.5h1m1 0h1M408 861.5h1m14 0h1M407 862.5h1M418 863.5h1m73 0h1M421 865.5h1M406 866.5h1m20 0h1m55 0h1m5 0h1m8 0h1M489 868.5h1m8 0h1M406 869.5h1m74 0h2M404 871.5h1M407 872.5h1M406 873.5h1M411 874.5h1m83 0h1M416 877.5h1m11 0h1m5 0h1m41 0h1m9 0h1M417 878.5h1m61 0h1m7 0h1" stroke="#7a7a7a" stroke-width="1" fill="none"/><path d="M129 87.5h1M132 88.5h1m4 0h1m2 0h1m7 0h1M144 89.5h1M124 90.5h1m25 0h1M119 91.5h1M150 92.5h1M117 94.5h2M114 97.5h1M155 98.5h1M113 100.5h1m41 0h1M112 101.5h1M111 103.5h1M109 106.5h2M109 108.5h1M109 109.5h1m25 0h1M125 110.5h1m1 0h1m4 0h1M155 111.5h1M121 112.5h1m2 0h1m3 0h1m25 0h1M108 113.5h1m28 0h1m2 0h1m10 0h1m3 0h1M108 114.5h1m42 0h1M119 115.5h1M107 116.5h1m37 0h1m4 0h1M106 117.5h1M143 118.5h1M144 119.5h1M145 120.5h1m3 0h2M107 121.5h1m38 0h1M144 122.5h1M146 123.5h1M145 124.5h1m3 0h1M150 125.5h1M106 127.5h1m38 0h2m2 0h1M145 128.5h1M116 129.5h3m25 0h1m7 0h1M142 131.5h1m1 0h1m1 0h1M113 132.5h1m1 0h1M107 133.5h1M108 135.5h1m41 0h1M111 136.5h1m32 0h1M111 137.5h2M107 138.5h1m43 0h2M146 139.5h1M112 140.5h1m38 0h1M146 141.5h1M114 142.5h1M152 143.5h2M108 144.5h1m35 0h1M108 145.5h1m35 0h1M108 146.5h2M109 147.5h1m34 0h1m6 0h1M109 148.5h2M112 149.5h2m30 0h1M144 150.5h1M113 151.5h1M109 152.5h1m35 0h1M109 153.5h1m43 0h1M143 154.5h1m9 0h1m1 0h1M109 157.5h1m31 0h1m10 0h1M109 158.5h1m45 0h1M108 159.5h1M111 160.5h1M111 161.5h1m30 0h1M108 162.5h1M110 163.5h1m42 0h1M108 165.5h1M110 166.5h1M114 167.5h1m29 0h1m7 0h1M116 170.5h1m25 0h1M156 172.5h1M141 177.5h1M103 180.5h1m12 0h1m24 0h1M154 181.5h1M143 183.5h1M103 184.5h1m38 0h1M116 187.5h1m25 0h1M117 188.5h1M156 190.5h1M154 191.5h1M154 193.5h2M116 198.5h1m37 0h1M154 199.5h1M142 203.5h1M103 204.5h1m39 0h1m10 0h1M143 205.5h1M142 207.5h1M154 209.5h1M141 211.5h1M143 214.5h1M142 220.5h1M155 223.5h1M104 224.5h1M104 227.5h1m40 0h1M487 142.5h1M488 143.5h1M475 147.5h1m16 0h1M475 148.5h1M473 150.5h1M442 152.5h1M439 155.5h1m55 0h1M494 156.5h1M438 157.5h1m31 0h1m23 0h1M437 158.5h1M451 159.5h1M450 160.5h1m17 0h1M451 163.5h1M468 164.5h1M495 167.5h1M452 168.5h1M494 169.5h1M468 170.5h1M451 174.5h1m16 0h1M450 176.5h1M468 177.5h1M467 179.5h1m22 0h1M435 180.5h1m54 0h1M467 181.5h1M489 182.5h1M469 183.5h1M469 184.5h1m19 0h1M469 186.5h1M484 188.5h1M436 190.5h1m11 0h1M446 193.5h1M468 194.5h1m16 0h1M480 196.5h1M471 198.5h1M445 199.5h1M442 202.5h1M441 205.5h1m1 0h1M439 206.5h1M443 207.5h1M440 208.5h1M438 209.5h1m4 0h1M156 481.5h1M152 482.5h1m2 0h1M153 483.5h1m2 0h1M146 484.5h1M140 485.5h1m4 0h1M141 486.5h1m11 0h1m6 0h1M131 487.5h1m13 0h1m1 0h1m6 0h1M128 488.5h1m5 0h1m1 0h1m14 0h1m4 0h1M118 489.5h1m2 0h1m24 0h1m4 0h1m4 0h1M117 490.5h1m10 0h1m8 0h1m11 0h1m13 0h1M119 491.5h1m9 0h1M118 492.5h1m5 0h1m2 0h1M119 493.5h1m40 0h1M117 494.5h1M114 495.5h1M103 498.5h1M106 499.5h1m56 0h1M104 500.5h1m59 0h1M99 501.5h1M99 502.5h1m2 0h1m60 0h1M98 504.5h1m67 0h1M99 505.5h1M98 507.5h1m66 0h1M168 508.5h1M165 509.5h1m1 0h1M166 510.5h1M166 511.5h1M93 512.5h2M92 513.5h1m1 0h1m72 0h1M94 514.5h1M166 515.5h1M165 524.5h1M166 525.5h1M166 527.5h1M90 531.5h1M92 534.5h1m72 0h2M165 535.5h2M166 536.5h1M89 537.5h1m78 0h1M90 538.5h1m1 0h1m73 0h1M90 539.5h1m75 0h1M166 541.5h1M89 543.5h1m74 0h1M163 545.5h1M163 546.5h1M91 547.5h1M92 550.5h1M90 553.5h1M161 555.5h1M93 558.5h1M159 559.5h1M161 560.5h1M159 561.5h1M160 562.5h1M92 563.5h1M160 565.5h1M123 567.5h1m2 0h1m11 0h1m4 0h1M123 568.5h1m29 0h1m6 0h1M503 401.5h1M489 403.5h1M458 412.5h1M503 422.5h1M502 425.5h1M502 432.5h1M503 433.5h1M503 434.5h1M503 435.5h1M420 437.5h1m81 0h1M502 441.5h1M502 444.5h1M501 445.5h1M503 446.5h1M501 447.5h1m1 0h1M502 448.5h1M413 449.5h1m89 0h1M501 450.5h1M503 451.5h1M502 452.5h1M503 455.5h1M501 456.5h1M500 462.5h3M502 463.5h1M501 465.5h1M406 466.5h1M500 467.5h1m1 0h1M407 468.5h1M405 469.5h1M404 472.5h1M501 473.5h1M404 474.5h1m95 0h1M498 476.5h1m4 0h1M405 477.5h1m92 0h1M406 478.5h1m93 0h1M404 480.5h1m94 0h1m3 0h1M407 481.5h1m86 0h1M405 483.5h1m77 0h1M482 484.5h1m4 0h1m3 0h1m1 0h1M407 485.5h1m77 0h1m11 0h1M480 486.5h1m8 0h1m8 0h1M408 487.5h2m74 0h1m3 0h1m9 0h1M480 488.5h1m1 0h1m1 0h1m13 0h1M477 489.5h2m3 0h1m1 0h1m5 0h1m7 0h1M411 490.5h1m59 0h2m13 0h1m13 0h1M410 491.5h1m2 0h1m65 0h1m2 0h2m3 0h1m2 0h1m3 0h1m6 0h1M409 492.5h1m63 0h1m8 0h1m11 0h1M477 493.5h1m5 0h1m12 0h1M408 494.5h1m7 0h1m51 0h1m3 0h1m4 0h1m9 0h1m5 0h1m8 0h1M409 495.5h1m1 0h1m2 0h1m52 0h1m2 0h1m15 0h1m5 0h1m7 0h1m1 0h1M420 496.5h2m1 0h1m44 0h1m2 0h1m3 0h1m10 0h1M418 497.5h1m5 0h2m43 0h1m5 0h1m4 0h1m17 0h1m1 0h1m1 0h1M404 498.5h1m4 0h1m17 0h3m5 0h1m2 0h1m26 0h1m12 0h1m1 0h1m1 0h1m17 0h1M420 499.5h1m2 0h3m17 0h1m16 0h1m2 0h1m5 0h1m9 0h1m1 0h1m10 0h1M411 500.5h1m4 0h1m5 0h1m11 0h1m4 0h1m1 0h1m12 0h1m8 0h1m13 0h1m21 0h1M406 501.5h1m1 0h1m27 0h2m3 0h1m1 0h1m1 0h1m3 0h1m14 0h1m13 0h1m17 0h1M413 502.5h1m7 0h1m1 0h2m3 0h1m12 0h1m31 0h1m19 0h1M409 503.5h1m2 0h1m1 0h1m12 0h1m4 0h2m4 0h1m2 0h1m11 0h1m20 0h1m5 0h2m8 0h1M415 504.5h1m13 0h1m5 0h1m8 0h1m3 0h2m7 0h1m8 0h1m2 0h1m15 0h2M410 505.5h3m8 0h1m7 0h1m11 0h1m4 0h1m14 0h1m34 0h1M413 506.5h1m2 0h1m1 0h1m20 0h1m9 0h1m38 0h1m3 0h1M415 507.5h1m2 0h1m6 0h1m2 0h1m3 0h1m5 0h2m12 0h1m20 0h1m1 0h1m3 0h1m13 0h1m6 0h2M410 508.5h1m14 0h1m4 0h1m4 0h1m4 0h2m30 0h1m5 0h1m4 0h1m7 0h1m9 0h1M420 509.5h1m2 0h2m3 0h1m15 0h1m4 0h1m9 0h1m12 0h1m8 0h1m15 0h2M425 510.5h1m3 0h1m7 0h1M410 511.5h1m15 0h1m9 0h1m12 0h2M419 512.5h1m5 0h1m27 0h1m9 0h1m6 0h1m16 0h2M418 513.5h1m1 0h1m3 0h1m20 0h1m6 0h1M417 514.5h1m10 0h1m26 0h1m17 0h1M450 515.5h1m22 0h1M425 516.5h1m27 0h1m11 0h1m17 0h1m3 0h1M420 517.5h1m44 0h1m16 0h1M438 518.5h1m52 0h1M416 519.5h1m6 0h1m6 0h1m10 0h1m8 0h1m6 0h1m5 0h1m11 0h1m10 0h1M424 520.5h1m57 0h1m6 0h1M431 521.5h1m6 0h1M437 522.5h2m17 0h1m32 0h1M423 523.5h1m24 0h1m17 0h1M481 524.5h1M431 525.5h1m14 0h2m2 0h1m24 0h1M422 526.5h1m17 0h1m2 0h4m11 0h1m6 0h1M440 527.5h1m1 0h1m4 0h1m2 0h2m21 0h1M423 528.5h1m8 0h1m8 0h1m5 0h1m4 0h1m14 0h1M451 529.5h1m2 0h1m8 0h1m4 0h1M427 530.5h1m3 0h1m12 0h1m7 0h1m3 0h1M453 531.5h1m6 0h1M430 532.5h1M169 717.5h1M134 722.5h1M124 726.5h1M169 728.5h1M167 729.5h1M113 731.5h1M164 732.5h1M107 734.5h1m52 0h1M152 735.5h1m4 0h1m2 0h1m4 0h1M160 736.5h1M141 738.5h1m21 0h1M99 739.5h1m38 0h1m5 0h1m1 0h1m1 0h1m1 0h1m1 0h1m12 0h1M141 740.5h1m1 0h1m2 0h1m3 0h2m3 0h1M142 741.5h1m4 0h1m1 0h1m1 0h1m13 0h1M131 742.5h1m1 0h1m15 0h1m9 0h1m1 0h1m5 0h1M140 743.5h1m2 0h2m11 0h2m3 0h1m4 0h1M130 744.5h1m16 0h1m16 0h1m3 0h1M128 745.5h1m6 0h1m8 0h1m1 0h1m2 0h1M130 746.5h1m4 0h1m1 0h1m3 0h1m8 0h1m8 0h1M121 747.5h1m4 0h1m4 0h1m1 0h1m15 0h2m10 0h1M124 748.5h1m9 0h1m17 0h1m2 0h1M119 749.5h1m19 0h1m4 0h1m22 0h1M151 750.5h1m4 0h2m4 0h1M127 751.5h1m15 0h1m2 0h1m6 0h1m1 0h1m1 0h1m7 0h1M120 752.5h1m1 0h1m11 0h1m17 0h1M115 753.5h1m2 0h2m1 0h1m5 0h2m4 0h1m18 0h1m6 0h1M109 754.5h1m4 0h1m6 0h1m1 0h1m2 0h1m3 0h1m27 0h1m4 0h1M114 755.5h1m7 0h1m7 0h1m13 0h1M108 756.5h1m1 0h1m6 0h1m3 0h1m2 0h1m9 0h1m3 0h1m4 0h1m10 0h1m2 0h1M135 757.5h1m17 0h1m4 0h1m4 0h1M110 758.5h1m4 0h1m4 0h1m31 0h1m8 0h1M103 759.5h2m2 0h1m4 0h1m3 0h1m1 0h1m8 0h1m18 0h1m9 0h1m6 0h1m1 0h1M103 760.5h1m27 0h1m1 0h1m2 0h1m13 0h1m2 0h1m2 0h1M104 761.5h1m2 0h1m2 0h1m31 0h1m13 0h1m4 0h1m1 0h1M102 762.5h1m4 0h1m1 0h1m3 0h1m38 0h2m11 0h1M106 763.5h1m15 0h2m2 0h1m30 0h1M104 764.5h1m12 0h1m7 0h1m2 0h1M111 765.5h1m50 0h1M100 766.5h2m9 0h1m3 0h1m28 0h1m12 0h1m2 0h1M97 767.5h1m31 0h1m8 0h1m1 0h1m14 0h1m11 0h1M99 768.5h1m3 0h1m35 0h1M75 769.5h1m18 0h1m2 0h1m1 0h1m8 0h2m4 0h1m4 0h1m24 0h1m6 0h1m10 0h1M94 770.5h1m1 0h1m8 0h1m12 0h1m12 0h1m28 0h1m6 0h1M101 771.5h1m5 0h1m3 0h1m1 0h1m19 0h2m1 0h1m12 0h1m8 0h1m2 0h1m4 0h1M97 772.5h1m16 0h1m11 0h1m14 0h1m4 0h1m13 0h1M93 773.5h1m8 0h1m14 0h1m3 0h1m15 0h1m9 0h1m1 0h1m11 0h1M92 774.5h1m3 0h1m3 0h1m2 0h1m6 0h2m16 0h1m7 0h1m4 0h2m14 0h1m4 0h1M92 775.5h1m2 0h1m11 0h1m4 0h1m4 0h1m3 0h2m17 0h2m20 0h1M105 776.5h1m9 0h1m2 0h1m25 0h1m10 0h1M109 777.5h1m3 0h1m15 0h1m9 0h1m9 0h1m10 0h1M95 778.5h1m9 0h1m2 0h1m4 0h1m23 0h1m5 0h1m5 0h1m16 0h1M126 779.5h2m4 0h1m22 0h1m9 0h2M107 780.5h1m9 0h1m4 0h2m35 0h1m4 0h1M92 781.5h1m20 0h1m20 0h1m17 0h1M110 782.5h1m1 0h1m14 0h1m7 0h2m12 0h1m1 0h1m6 0h1m2 0h1M96 783.5h2m34 0h1m6 0h2M92 784.5h2m20 0h2m6 0h1m3 0h1m5 0h1m2 0h1m5 0h1m10 0h1m12 0h1M94 785.5h1m3 0h1m4 0h1m5 0h1m6 0h1m13 0h1m3 0h2m30 0h1M96 786.5h1m15 0h1m11 0h1m39 0h1M119 787.5h1m12 0h1m10 0h1m2 0h1m17 0h2M97 788.5h1m18 0h1m10 0h1m3 0h1m1 0h1m2 0h1m6 0h1m9 0h1M94 789.5h1m5 0h1m4 0h1m3 0h1m4 0h2m17 0h1m1 0h1m3 0h1m2 0h1m11 0h1m10 0h1M95 790.5h1m3 0h1m1 0h1m26 0h1m24 0h1m8 0h1m4 0h1M96 791.5h1m19 0h1m33 0h1M105 792.5h1m2 0h1m13 0h1m2 0h1m2 0h1m5 0h1m9 0h1m1 0h1M113 793.5h1m4 0h1m4 0h1m19 0h1M70 794.5h1m31 0h1m1 0h1m10 0h1m14 0h2m6 0h1m14 0h1m6 0h1M126 795.5h1m10 0h2m3 0h1m15 0h2m4 0h1m1 0h1M167 796.5h1M124 797.5h1m2 0h1M135 798.5h1m5 0h2m12 0h1M127 799.5h1m27 0h1m3 0h1M142 800.5h1m18 0h2M128 801.5h1m2 0h1m6 0h1m15 0h1m2 0h1m1 0h1m3 0h1M132 802.5h1m21 0h1m5 0h1M144 803.5h4m2 0h1m12 0h1M147 804.5h1m17 0h1M143 805.5h1m8 0h1m10 0h1M146 806.5h1m9 0h2M145 807.5h2m2 0h4m1 0h1m9 0h1M149 808.5h1m9 0h1m3 0h1M165 809.5h1M152 810.5h1m1 0h1M165 811.5h1M159 812.5h1m5 0h1M158 813.5h1m2 0h1M161 814.5h1m1 0h1M163 816.5h1M162 817.5h1M71 820.5h1M71 821.5h1m95 0h1M71 822.5h1M71 824.5h1M170 825.5h1m1 0h1M70 826.5h2M170 827.5h1M70 828.5h1m12 0h1M88 830.5h1m81 0h2M90 831.5h1M84 832.5h2m3 0h1m80 0h1M70 833.5h1M68 834.5h1m15 0h1m2 0h1m4 0h1m76 0h1m1 0h1M92 836.5h1M70 837.5h1m21 0h1M90 838.5h1M84 839.5h1M88 840.5h3M84 841.5h1m2 0h1M169 842.5h1M82 843.5h2m6 0h3m80 0h1M70 844.5h1m12 0h1M81 845.5h1m2 0h1m5 0h1M81 846.5h1M91 847.5h2m80 0h1M84 848.5h1m84 0h1M81 849.5h2m87 0h1m1 0h1M173 850.5h1M90 851.5h1M81 852.5h1m4 0h1M70 854.5h1m99 0h1M69 855.5h1m11 0h1m1 0h1m5 0h1m79 0h1M86 856.5h1m1 0h1M84 857.5h1m85 0h1M92 858.5h1m76 0h1M83 859.5h1m87 0h1M80 860.5h1m91 0h1M80 861.5h1m3 0h1M80 862.5h1m8 0h1M73 863.5h1M74 864.5h1m4 0h2M89 865.5h1M85 866.5h1m85 0h1M71 867.5h1M86 868.5h1m80 0h1M81 869.5h1M74 870.5h1m13 0h1m2 0h1M77 871.5h2m6 0h1M75 872.5h1m14 0h1M163 873.5h1M164 874.5h1M92 875.5h1M89 876.5h1m76 0h1M160 877.5h1M91 878.5h1m3 0h1m61 0h1M94 879.5h2m55 0h1M137 880.5h1m6 0h1m4 0h1m3 0h1M467 730.5h1M451 739.5h1M442 742.5h1M442 743.5h1M433 747.5h1m2 0h1M433 748.5h1m2 0h1M430 749.5h1m7 0h1M437 753.5h1M420 758.5h1M431 760.5h1m2 0h2M418 761.5h1M414 768.5h1m19 0h1M434 770.5h1M430 773.5h1m1 0h1M412 776.5h1M429 781.5h1M411 783.5h1M411 784.5h1M429 792.5h1M410 795.5h1M430 796.5h1M409 803.5h1M427 806.5h1M409 808.5h1m17 0h1M427 809.5h1m24 0h1M456 810.5h1M409 811.5h1m18 0h1m20 0h1m7 0h1M428 812.5h1m31 0h1M429 813.5h1m17 0h1m5 0h1M408 814.5h1m18 0h1m18 0h1M427 815.5h1m14 0h1m12 0h1M449 816.5h1m2 0h1m2 0h1m10 0h1M426 817.5h1m17 0h2M426 818.5h1m26 0h1m3 0h1m2 0h1m2 0h1m3 0h1M426 819.5h1m23 0h1m1 0h1M429 820.5h1m14 0h1m6 0h1m7 0h1m3 0h2m8 0h2m1 0h1M426 821.5h1m26 0h1M438 822.5h2m7 0h1m1 0h1m5 0h1M408 823.5h1m17 0h1m38 0h1m6 0h1M448 824.5h1m16 0h1m1 0h1m7 0h1M448 825.5h1m16 0h1m2 0h1m8 0h1M435 826.5h1M434 827.5h1m6 0h1m30 0h1M417 828.5h1m54 0h1m6 0h1M442 829.5h1m3 0h1m21 0h1m1 0h1M426 830.5h1m2 0h1m14 0h1M442 831.5h1M419 832.5h1m22 0h1M435 833.5h1m7 0h1m27 0h2m8 0h2M416 834.5h1M419 835.5h1M439 836.5h1M411 837.5h1m61 0h1m7 0h1M419 838.5h1m17 0h1m37 0h1M410 839.5h1m28 0h1M434 840.5h1m4 0h1M411 841.5h1m67 0h1m3 0h2M434 842.5h1m4 0h2m41 0h1M411 843.5h1m20 0h2M417 844.5h2m56 0h1M410 845.5h1M410 846.5h1m20 0h1m3 0h1m3 0h1M417 847.5h1m14 0h1m1 0h1m1 0h1m35 0h1m12 0h1M409 848.5h2m6 0h1m19 0h1m1 0h2m35 0h1M439 849.5h1M430 850.5h1m47 0h1M429 852.5h1m5 0h1m42 0h1M411 853.5h1m19 0h1m40 0h1M411 854.5h1m6 0h1m64 0h1M430 855.5h1m53 0h1M412 856.5h1m3 0h1m64 0h1M411 857.5h1m4 0h1m13 0h1M417 858.5h1m16 0h1m3 0h1m1 0h1m31 0h1m3 0h1M417 859.5h1m12 0h1m41 0h1M414 860.5h1m14 0h1M414 861.5h1m23 0h1m1 0h1m30 0h1M434 862.5h1m34 0h2M415 863.5h1m25 0h1m29 0h1m6 0h1M412 864.5h1m57 0h1M440 865.5h1m29 0h1m1 0h1m8 0h1M437 866.5h1m4 0h1m25 0h1M469 867.5h2m3 0h1M432 868.5h1m4 0h1m5 0h1M432 869.5h1m9 0h1M436 870.5h1m3 0h2m27 0h1m2 0h1M467 871.5h1M474 872.5h1M441 873.5h1m1 0h1m23 0h1M438 874.5h1m1 0h1m28 0h2M443 875.5h1M447 876.5h1M459 877.5h1M442 878.5h1m14 0h1m3 0h1m6 0h1" stroke="#585858" stroke-width="1" fill="none"/><path d="M133 89.5h2M127 90.5h1M128 91.5h1m1 0h1m14 0h1M150 93.5h1M119 94.5h3M119 95.5h1M118 96.5h1m32 0h1M152 98.5h1M114 99.5h1m38 0h1M114 100.5h1M114 101.5h1m39 0h1M112 102.5h1M112 103.5h1M154 105.5h1M111 107.5h1m15 0h1m3 0h1m1 0h1M111 108.5h1m12 0h1m3 0h1m3 0h1m5 0h1m2 0h1M120 109.5h1m1 0h1m18 0h2M109 110.5h1m36 0h1M118 111.5h2m24 0h2m2 0h2M145 112.5h1m2 0h1M109 113.5h1m7 0h1M148 114.5h2M109 115.5h1m7 0h1m29 0h1M108 116.5h2M108 117.5h1m7 0h1m32 0h1M147 118.5h1M116 120.5h1m31 0h1M108 122.5h1M108 123.5h1M108 125.5h1m39 0h1M108 127.5h1M108 129.5h1m39 0h1M110 130.5h1M109 131.5h2m1 0h1M110 132.5h1m36 0h1M147 136.5h1M148 138.5h1M146 146.5h1m1 0h1M146 149.5h1M150 151.5h1M146 153.5h2M147 154.5h1M148 155.5h1M145 156.5h1m1 0h1m2 0h2M146 158.5h2M146 159.5h1M151 160.5h1M149 163.5h1M151 164.5h1M147 165.5h1M145 166.5h1m2 0h1M112 167.5h1m37 0h2M108 168.5h1m2 0h1m1 0h2m31 0h1m1 0h1M115 169.5h1m30 0h1M146 170.5h1M105 171.5h1m43 0h1M105 172.5h1m41 0h1m3 0h1M146 173.5h1m3 0h2M104 174.5h1m39 0h1m2 0h2m1 0h1m1 0h1M115 175.5h1M104 176.5h1m39 0h1M152 177.5h1M115 178.5h1m29 0h1M145 179.5h1M144 182.5h1M105 183.5h1M152 184.5h1M105 185.5h1m39 0h1m6 0h1M105 186.5h1M115 187.5h1M115 188.5h1m28 0h1m7 0h1M145 189.5h1m7 0h1M115 190.5h1M104 191.5h1m47 0h2M104 192.5h1m39 0h1M153 193.5h1M104 194.5h1M144 195.5h2m6 0h1M104 196.5h1M144 197.5h1M144 198.5h1m7 0h1M104 199.5h1m47 0h1M152 200.5h1M104 201.5h1m39 0h1m7 0h1M152 202.5h1M153 203.5h1M105 204.5h1m47 0h1M105 205.5h1M105 206.5h1m38 0h1m7 0h2M104 207.5h1m40 0h1M104 208.5h2M153 209.5h1M145 210.5h1M105 211.5h1m39 0h1M145 212.5h1M144 213.5h2M144 214.5h1m7 0h1M114 215.5h1m30 0h1M114 217.5h1M145 218.5h1m5 0h1m1 0h1M152 219.5h1M151 220.5h1M151 221.5h1M145 222.5h1m6 0h1M105 223.5h1M105 224.5h1m39 0h5M146 225.5h1M105 226.5h1M105 228.5h1M487 143.5h1M483 144.5h2m4 0h1M479 146.5h1M476 148.5h1M476 149.5h1M475 150.5h1M474 151.5h1M445 152.5h1m47 0h1M443 153.5h1m1 0h1M441 154.5h1m6 0h1M448 155.5h1M448 156.5h1M440 157.5h1m31 0h1M449 158.5h1M471 159.5h1M449 160.5h1m43 0h1M450 161.5h1M449 162.5h1m43 0h2M449 163.5h1m44 0h1M493 164.5h1M450 165.5h1m19 0h1M436 168.5h2m12 0h1M437 169.5h1m54 0h1M450 171.5h1m18 0h1m21 0h1M436 172.5h1m12 0h1m42 0h1M436 173.5h1M449 174.5h1M469 175.5h1m21 0h1M436 176.5h1m12 0h1M449 178.5h1m39 0h2M436 179.5h1m33 0h1M436 180.5h1m32 0h1M488 181.5h1M486 183.5h1M447 184.5h1m37 0h1M470 185.5h1M482 186.5h1M481 187.5h1m1 0h1M437 188.5h1m34 0h1m6 0h1M446 189.5h1m25 0h1m6 0h1M446 190.5h1m23 0h1m7 0h2M473 191.5h2m3 0h1M473 192.5h1m2 0h2M438 193.5h1m34 0h1m4 0h1M438 194.5h1m6 0h1m33 0h1M438 195.5h1m36 0h2m1 0h1M440 200.5h1M142 491.5h1m4 0h2m1 0h1M133 492.5h1m8 0h1m7 0h1M124 493.5h3m3 0h1m10 0h1m1 0h1m8 0h1M121 494.5h2m12 0h1m3 0h1m1 0h1m2 0h1m5 0h1m5 0h1M120 495.5h1m4 0h1m4 0h2m3 0h2m10 0h1M118 496.5h1m7 0h1m1 0h2m25 0h2m3 0h1M123 497.5h1m31 0h2M117 498.5h1m2 0h1m36 0h2M110 499.5h1m3 0h1m1 0h1m1 0h1m40 0h2M107 500.5h1m6 0h2m44 0h2M107 501.5h3M104 502.5h1m3 0h1M103 503.5h1m3 0h1m53 0h1M101 504.5h1m1 0h1M104 505.5h1m57 0h1M100 506.5h2m1 0h1m57 0h2M162 508.5h2M97 509.5h1m2 0h1m61 0h2M161 510.5h1m1 0h3M96 511.5h1m65 0h2M97 512.5h1m63 0h1M164 513.5h2M97 514.5h1M96 515.5h1m65 0h2M96 517.5h1M94 518.5h1M162 519.5h1M95 520.5h1m64 0h2M95 521.5h1m67 0h2M95 522.5h1m65 0h1M160 523.5h1m2 0h2M161 524.5h1M160 525.5h1M158 526.5h1m1 0h4M159 527.5h1m4 0h1M93 528.5h2m63 0h2m4 0h1M158 529.5h1M160 530.5h1m1 0h1M157 531.5h1m1 0h1M93 532.5h1m62 0h1m1 0h1m3 0h1m1 0h1M155 533.5h1m2 0h1m4 0h1M154 534.5h3m7 0h1M94 535.5h1m65 0h1m2 0h1M94 536.5h1m58 0h1m4 0h4M152 537.5h2M93 538.5h1m58 0h1m3 0h1m5 0h1M152 539.5h1M152 540.5h2m4 0h2M150 541.5h1m2 0h2m5 0h1M94 542.5h1m56 0h1m5 0h3M147 543.5h1m1 0h1m1 0h1m6 0h1M94 544.5h1m55 0h2m3 0h1m4 0h1M92 545.5h1m51 0h3m1 0h1m1 0h1m5 0h2m4 0h1M142 546.5h3m1 0h1m5 0h1m4 0h4M94 547.5h1m46 0h1m2 0h5m4 0h1m3 0h1M93 548.5h1m1 0h1m42 0h1m4 0h1m8 0h2m1 0h1m1 0h2M133 549.5h2m1 0h1m3 0h1m6 0h1m5 0h2m1 0h1m3 0h1M95 550.5h1m33 0h1m11 0h1m3 0h2m2 0h2m9 0h1M123 551.5h1m2 0h1m1 0h1m5 0h1m4 0h1m1 0h2m1 0h1m6 0h1m1 0h1m2 0h1M94 552.5h1m26 0h2m3 0h1m1 0h1m3 0h1m3 0h3m4 0h1m5 0h1m2 0h2m1 0h2m2 0h1M125 553.5h1m2 0h1m1 0h1m1 0h2m4 0h2m3 0h1m2 0h1m1 0h1m3 0h1m1 0h1m3 0h2M93 554.5h1m26 0h1m1 0h1m2 0h3m1 0h1m1 0h4m4 0h1m6 0h1m2 0h1m4 0h1m2 0h1M95 555.5h1m31 0h1m1 0h1m2 0h2m4 0h1m6 0h1m5 0h1m3 0h1M119 556.5h1m3 0h1m2 0h3m2 0h1m1 0h2m1 0h1m2 0h3m2 0h1m2 0h1M94 557.5h1m1 0h1m22 0h1m1 0h1m1 0h1m1 0h1m6 0h2m3 0h1m2 0h2m5 0h1m1 0h1m1 0h1m5 0h1M94 558.5h1m1 0h1m22 0h1m1 0h2m3 0h1m3 0h1m3 0h4m5 0h1m1 0h1m7 0h2m2 0h1M119 559.5h3m3 0h1m1 0h1m1 0h1m3 0h1m2 0h1m8 0h1m8 0h3M98 560.5h1m20 0h1m1 0h1m1 0h1m3 0h1m6 0h2m2 0h1m5 0h2m3 0h3m1 0h3M96 561.5h3m19 0h1m1 0h1m2 0h2m4 0h1m1 0h1m2 0h1m1 0h3m1 0h2m5 0h1m1 0h1m2 0h1M95 562.5h1m24 0h2m3 0h1m1 0h1m2 0h2m1 0h1m7 0h1m1 0h1m8 0h1m4 0h1M97 563.5h2m19 0h1m5 0h1m2 0h1m1 0h1m3 0h1m1 0h1m1 0h3m1 0h2m4 0h1m2 0h1m3 0h4M96 564.5h1m2 0h1m27 0h1m1 0h4m3 0h1m2 0h1m1 0h1m2 0h1m1 0h1m10 0h1M97 565.5h1m1 0h1m3 0h1m2 0h1m1 0h1m5 0h1m2 0h1m3 0h2m1 0h3m5 0h1m18 0h1m2 0h1m1 0h1M99 566.5h1m3 0h1m1 0h1m1 0h1m5 0h5m23 0h1m1 0h1m6 0h1M103 567.5h2m1 0h1m4 0h1m3 0h1M97 568.5h1m1 0h1M487 404.5h1M502 405.5h1M476 407.5h1M500 408.5h1m1 0h1M469 409.5h1m25 0h1m4 0h2M465 410.5h1m24 0h4m2 0h1m2 0h1M462 411.5h1m26 0h1m2 0h1m2 0h1m1 0h3M486 412.5h1m1 0h1m3 0h1m1 0h1m2 0h1m1 0h1M457 413.5h1m19 0h1m5 0h2m7 0h1m6 0h1M476 414.5h2m3 0h3m6 0h1m6 0h1m4 0h1M452 415.5h1m17 0h1m7 0h2m2 0h1m8 0h1m3 0h2M464 416.5h1m2 0h2m10 0h2m3 0h1m7 0h1m2 0h1M461 417.5h1m2 0h5m3 0h1m1 0h2m1 0h1m1 0h1m1 0h1m6 0h1m2 0h2m2 0h1m3 0h1m1 0h1M446 418.5h1m11 0h3m1 0h4m4 0h2m2 0h1m1 0h3m4 0h1m4 0h2m8 0h1M458 419.5h1m6 0h1m13 0h1m8 0h1m1 0h2m1 0h1m1 0h1m1 0h1M456 420.5h1m6 0h1m1 0h2m14 0h1m7 0h2m8 0h1M454 421.5h1m7 0h1m3 0h1m1 0h1m6 0h1m4 0h1m4 0h1m13 0h1m1 0h2M439 422.5h1m11 0h1m2 0h1m2 0h2m3 0h1m4 0h2m11 0h2m1 0h2m1 0h1m1 0h1m9 0h2M453 423.5h2m1 0h1m2 0h2m11 0h3m4 0h1m1 0h1m4 0h1m7 0h1m5 0h1M436 424.5h1m9 0h2m1 0h1m2 0h5m2 0h1m4 0h1m8 0h1m1 0h1m7 0h1m3 0h1m5 0h1M446 425.5h1m2 0h1m1 0h1m3 0h1m2 0h1m2 0h1m8 0h2m11 0h1m6 0h1m1 0h1m3 0h3M442 426.5h1m5 0h2m4 0h2m1 0h2m2 0h1m6 0h2m8 0h1m4 0h2m2 0h2m9 0h1M432 427.5h1m9 0h1m8 0h1m38 0h1m4 0h1m3 0h3M439 428.5h1m4 0h1m8 0h1m7 0h3m3 0h1m1 0h1m2 0h1m1 0h1m4 0h1m3 0h1m11 0h2m1 0h1m2 0h1M438 429.5h2m1 0h1m7 0h1m11 0h1m2 0h1m1 0h1m5 0h1m4 0h1m6 0h1m3 0h1M428 430.5h1m8 0h2m4 0h1m1 0h1m1 0h1m5 0h1m2 0h2m4 0h1m3 0h1m2 0h1m8 0h2m4 0h1m5 0h2m9 0h1M427 431.5h1m9 0h1m6 0h1m1 0h1m12 0h1m8 0h1m3 0h1m10 0h1m1 0h2m5 0h1m3 0h1m3 0h1M435 432.5h2m1 0h2m3 0h2m3 0h1m3 0h2m9 0h1m1 0h1m8 0h1m12 0h1m2 0h2m3 0h1m3 0h1M425 433.5h1m12 0h3m14 0h2m3 0h1m1 0h1m19 0h1m2 0h1m9 0h1m2 0h1M435 434.5h2m2 0h1m7 0h1m5 0h1m18 0h1m8 0h1m9 0h1m2 0h1m6 0h1M423 435.5h1m8 0h2m1 0h1m28 0h1m2 0h1m7 0h1m11 0h1m11 0h1M427 436.5h3m5 0h1m3 0h1m2 0h4m3 0h1m7 0h2m2 0h2m2 0h2m5 0h1m1 0h1m2 0h1m7 0h1m1 0h1m3 0h1m6 0h1M421 437.5h1m5 0h1m2 0h2m2 0h1m4 0h1m1 0h1m9 0h1m3 0h1m10 0h1m2 0h1m3 0h1m17 0h1M420 438.5h1m4 0h1m1 0h1m7 0h1m2 0h2m1 0h1m1 0h1m1 0h1m3 0h1m6 0h1m7 0h2m1 0h1m5 0h1m6 0h1m4 0h1m3 0h1m2 0h1m3 0h1m3 0h1M422 439.5h1m1 0h1m2 0h2m2 0h1m1 0h1m1 0h1m2 0h2m2 0h1m2 0h1m8 0h1m7 0h1m29 0h1m5 0h1M422 440.5h1m2 0h2m3 0h2m10 0h2m3 0h1m5 0h1m5 0h1m5 0h1m2 0h1m3 0h1m3 0h1m15 0h1m1 0h1m2 0h1M422 441.5h1m2 0h1m1 0h1m1 0h3m7 0h1m3 0h1m2 0h1m6 0h1m5 0h1m24 0h1m1 0h1m4 0h1m6 0h1M418 442.5h1m2 0h2m2 0h2m6 0h1m8 0h1m1 0h1m7 0h1m4 0h2m1 0h1m3 0h1m3 0h1m1 0h1m5 0h1m7 0h2m4 0h1m2 0h1m1 0h1m1 0h1m1 0h2M423 443.5h1m2 0h3m7 0h1m5 0h1m6 0h2m1 0h1m5 0h1m9 0h1m3 0h1m4 0h1m2 0h1m5 0h1m7 0h1M418 444.5h3m3 0h2m2 0h1m1 0h1m6 0h1m20 0h1m19 0h1m5 0h2m3 0h1m4 0h1m3 0h2M417 445.5h1m2 0h1m4 0h2m7 0h1m4 0h6m2 0h1m5 0h1m2 0h1m3 0h1m2 0h1m1 0h2m7 0h2m5 0h1m3 0h1m2 0h1M420 446.5h2m7 0h4m4 0h1m4 0h2m2 0h1m6 0h2m14 0h1m4 0h2m2 0h1m8 0h1M415 447.5h3m4 0h1m54 0h3m3 0h1m3 0h3m7 0h1M416 448.5h1m10 0h1m8 0h1m17 0h1m2 0h2m1 0h2m9 0h1m1 0h1m2 0h1m2 0h1m3 0h2m3 0h1m2 0h1m1 0h1m4 0h1M415 449.5h1m7 0h2m2 0h1m4 0h1m10 0h1m1 0h1m7 0h1m1 0h1m5 0h1m10 0h1m2 0h1m14 0h1m1 0h1m7 0h1M419 450.5h1m3 0h1m1 0h1m7 0h1m8 0h1m4 0h2m1 0h1m2 0h1m2 0h2m4 0h1m9 0h1m2 0h1m6 0h1m1 0h1m3 0h1M414 451.5h2m10 0h1m5 0h1m2 0h1m7 0h1m4 0h1m1 0h1m14 0h1m2 0h3m3 0h1m9 0h1m2 0h1m5 0h1m6 0h1M413 452.5h1m1 0h4m12 0h1m8 0h1m23 0h1m6 0h2m4 0h2m5 0h1m2 0h2m3 0h1m6 0h1M418 453.5h1m4 0h2m1 0h1m1 0h1m2 0h1m1 0h1m3 0h1m9 0h1m8 0h1m1 0h2m3 0h1m11 0h2M416 454.5h1m1 0h2m1 0h1m3 0h1m8 0h1m4 0h2m2 0h1m12 0h1m8 0h2m1 0h2m2 0h1m4 0h1m7 0h1m4 0h1M413 455.5h1m7 0h1m1 0h3m4 0h2m8 0h1m10 0h1m3 0h1m3 0h1m3 0h1m2 0h3m6 0h1m7 0h3m2 0h1m5 0h1m3 0h1m1 0h1M414 456.5h1m1 0h1m6 0h1m8 0h1m6 0h1m3 0h1m1 0h1m2 0h1m6 0h1m2 0h1m1 0h1m10 0h1m15 0h1m1 0h1M411 457.5h1m3 0h1m10 0h1m7 0h2m4 0h1m2 0h2m3 0h1m2 0h1m4 0h1m5 0h1m2 0h1m2 0h1m4 0h2m6 0h1m13 0h1M413 458.5h1m5 0h1m2 0h1m7 0h2m2 0h1m4 0h2m1 0h1m1 0h1m11 0h1m2 0h1m4 0h1m3 0h1m9 0h2m3 0h1m3 0h1m3 0h1M410 459.5h2m7 0h1m6 0h1m2 0h1m2 0h1m3 0h2m1 0h1m6 0h1m12 0h1m6 0h1m6 0h1m8 0h1m5 0h1m6 0h1m2 0h1m1 0h1M410 460.5h2m3 0h2m8 0h1m7 0h1m5 0h1m7 0h1m13 0h1m7 0h1m3 0h1m11 0h1m2 0h3m1 0h1m2 0h2M409 461.5h1m2 0h1m8 0h1m21 0h1m3 0h1m10 0h2m10 0h1m1 0h1m1 0h1m4 0h1m1 0h2m3 0h1m5 0h1m3 0h1M409 462.5h1m4 0h1m1 0h1m1 0h1m1 0h1m7 0h1m2 0h1m7 0h1m5 0h1m2 0h1m5 0h1m35 0h1m6 0h1M409 463.5h1m6 0h1m9 0h1m3 0h1m6 0h2m1 0h2m2 0h1m2 0h2m1 0h1m1 0h1m6 0h1m5 0h1m11 0h1m5 0h2m3 0h1m4 0h2m3 0h1M417 464.5h1m4 0h1m1 0h1m8 0h2m2 0h1m8 0h1m2 0h1m2 0h1m1 0h1m10 0h2m13 0h1m2 0h1m2 0h1m2 0h1m7 0h1M412 465.5h1m3 0h1m5 0h2m1 0h1m3 0h1m2 0h1m10 0h1m15 0h1m14 0h2m2 0h1m5 0h1m2 0h1m2 0h1m1 0h1m2 0h1M407 466.5h1m4 0h1m1 0h1m6 0h1m11 0h1m5 0h4m1 0h2m1 0h1m4 0h1m6 0h1m2 0h1m4 0h1m13 0h1m1 0h1m7 0h2m1 0h1M415 467.5h1m6 0h1m8 0h1m3 0h1m4 0h1m6 0h1m1 0h1m1 0h1m1 0h1m2 0h1m12 0h1m6 0h1m2 0h1M422 468.5h1m1 0h2m2 0h1m6 0h1m4 0h1m12 0h1m3 0h1m1 0h1m1 0h2m1 0h3m2 0h1m2 0h1m5 0h1m1 0h2m3 0h1M426 469.5h1m4 0h1m3 0h1m5 0h1m11 0h1m1 0h1m3 0h1m19 0h1M411 470.5h1m1 0h1m6 0h3m4 0h1m2 0h1m3 0h1m4 0h1m1 0h1m3 0h1m2 0h1m4 0h1m5 0h1m19 0h1m12 0h2M415 471.5h1m7 0h1m2 0h1m2 0h2m2 0h3m1 0h1m2 0h1m7 0h1m7 0h4m1 0h1m5 0h1m3 0h3m12 0h1m4 0h1m4 0h2M410 472.5h2m5 0h1m5 0h2m2 0h1m3 0h1m6 0h1m14 0h1m2 0h1m4 0h2m3 0h1m11 0h1m7 0h1m7 0h1m2 0h2M411 473.5h1m3 0h2m10 0h1m5 0h2m6 0h1m35 0h1m6 0h1m5 0h1M422 474.5h1m2 0h1m6 0h2m17 0h1m5 0h1m7 0h1m7 0h1m4 0h1m18 0h1M411 475.5h2m9 0h1m1 0h1m5 0h1m2 0h1m16 0h1m3 0h1m32 0h1m1 0h1m5 0h1M428 476.5h1m12 0h1m2 0h1m16 0h1m11 0h1m11 0h1m8 0h1M414 477.5h2m7 0h1m7 0h3m1 0h1m1 0h1m2 0h1m14 0h2m2 0h1m10 0h1m18 0h1M412 478.5h3m1 0h2m11 0h1m15 0h1m17 0h2m1 0h1m3 0h2m7 0h1m8 0h1m5 0h1m2 0h1M413 479.5h1m1 0h1m3 0h1m2 0h1m8 0h2m12 0h1m1 0h1m24 0h1m12 0h1m2 0h1M411 480.5h1m40 0h1m12 0h1m5 0h1m2 0h1m8 0h1m1 0h1m3 0h1M411 481.5h1m5 0h1m7 0h1m10 0h1m5 0h1m7 0h2m1 0h1m7 0h1m12 0h1m14 0h1M412 482.5h1m2 0h1m7 0h1m2 0h1m4 0h1m5 0h1m1 0h1m6 0h1m7 0h1m6 0h1m5 0h1m2 0h1m2 0h1m9 0h1M417 483.5h1m12 0h1m1 0h3m5 0h1m1 0h1m12 0h1m4 0h1m8 0h1m8 0h1M424 484.5h1m5 0h1m8 0h1m2 0h1m6 0h3m3 0h1m11 0h1m3 0h1m4 0h1M432 485.5h1m1 0h1m1 0h1m7 0h1m17 0h1m8 0h3M413 486.5h3m5 0h2m12 0h1m12 0h1m1 0h1m3 0h2m6 0h1m7 0h1M413 487.5h1m3 0h1m11 0h1m1 0h1m11 0h2m19 0h1M436 488.5h2m3 0h1m6 0h1m2 0h1m8 0h1m1 0h1M413 489.5h1m1 0h1m2 0h1m2 0h1m6 0h2m11 0h1m1 0h1m3 0h1m2 0h1m17 0h1M420 490.5h1m7 0h1m2 0h1m15 0h1m3 0h1m4 0h1m2 0h2M419 491.5h1m4 0h1m1 0h1m5 0h2m8 0h1m3 0h3m7 0h3m8 0h1M415 492.5h1m1 0h1m6 0h2m22 0h1m9 0h1m1 0h1M416 493.5h1m5 0h1m11 0h1m2 0h1m3 0h1m2 0h1m5 0h1m2 0h1m8 0h1M423 494.5h1m17 0h1m4 0h1m2 0h1m1 0h1m11 0h1M425 495.5h1m6 0h1m2 0h1m5 0h1m2 0h1m1 0h1m12 0h1m4 0h2M438 496.5h2m3 0h2m4 0h1m12 0h1M433 497.5h1m9 0h1m5 0h2m2 0h1m7 0h1M445 498.5h1M445 499.5h1m2 0h1m5 0h1M162 715.5h1m2 0h3M158 716.5h1M153 717.5h1M149 718.5h1M147 719.5h1M143 720.5h1M168 721.5h1M168 722.5h1M132 723.5h2M129 724.5h2m36 0h1M127 725.5h1m35 0h3M158 726.5h1m5 0h1m1 0h1M154 727.5h1m3 0h1m3 0h1M151 728.5h2m3 0h1m5 0h1m1 0h2M148 729.5h1m1 0h4m1 0h1m1 0h1M151 730.5h2m3 0h1m7 0h1M145 731.5h1m7 0h1M112 732.5h1m27 0h3m1 0h1m2 0h1m1 0h2m10 0h1M138 733.5h1m2 0h1m3 0h1M132 734.5h1m2 0h3m1 0h1m7 0h2M132 735.5h1m3 0h1m9 0h1M129 736.5h1m1 0h1m10 0h1m4 0h1M125 737.5h1m2 0h1m11 0h1M125 738.5h2m1 0h1m3 0h1m3 0h1m3 0h1M121 739.5h2m6 0h1M121 740.5h1m5 0h1M118 741.5h1m7 0h3M95 742.5h1m20 0h1m1 0h1m1 0h2M121 743.5h1m3 0h1M93 744.5h1m21 0h2m2 0h1m2 0h1m2 0h1M91 745.5h1m18 0h1m6 0h1M109 746.5h2m1 0h1m4 0h1M108 747.5h1m3 0h1M106 748.5h1M104 749.5h1m1 0h2M104 750.5h2m2 0h1m1 0h1m1 0h1M101 751.5h2m2 0h1M85 752.5h1m14 0h1m1 0h1m2 0h2m4 0h1M100 753.5h3m2 0h1M101 754.5h1M102 755.5h1m2 0h1M95 757.5h3m2 0h1M81 758.5h1m12 0h1M94 759.5h1m2 0h1M93 760.5h2M92 761.5h1m1 0h2M79 762.5h1m18 0h1M93 763.5h1m1 0h1M95 764.5h1M89 765.5h1m3 0h1M89 766.5h1m1 0h1m1 0h1M92 767.5h1m1 0h1M91 768.5h1M87 769.5h1M86 770.5h1m2 0h1M75 771.5h1m14 0h1M75 772.5h1m12 0h1M85 773.5h1m1 0h1m1 0h1M85 774.5h2M86 775.5h1m1 0h1m1 0h1M84 776.5h1M85 778.5h1m4 0h1M83 779.5h1M73 780.5h1m9 0h1m6 0h1M87 781.5h1M88 782.5h1M85 783.5h1M72 785.5h1m9 0h1M72 786.5h1m12 0h2M82 787.5h1m1 0h1m2 0h1M81 788.5h3m7 0h1M82 789.5h3M90 790.5h1M80 791.5h1m3 0h1m6 0h1m3 0h1M80 792.5h1m2 0h1m1 0h1m2 0h2M80 793.5h1m6 0h1M80 794.5h1m7 0h1m10 0h1m6 0h1m1 0h1M85 795.5h1m11 0h1m16 0h1m3 0h1M70 796.5h1m10 0h1m3 0h1m3 0h1m7 0h1m7 0h1m3 0h1m1 0h1m2 0h1M78 797.5h2m4 0h2m9 0h1m3 0h1m2 0h1m1 0h1m3 0h1m2 0h1m1 0h1m1 0h1M88 798.5h1m7 0h1m1 0h1m3 0h1m16 0h2M81 799.5h1m8 0h1m2 0h1m5 0h1m3 0h1m7 0h1m2 0h1M77 800.5h1m3 0h1m3 0h1m2 0h1m11 0h1m4 0h1m1 0h1m14 0h1m1 0h2M71 801.5h1m2 0h2m5 0h1m1 0h1m2 0h1m2 0h2m1 0h3m11 0h2m12 0h1m4 0h2M74 802.5h1m2 0h1m4 0h1m2 0h1m2 0h2m2 0h2m3 0h1m2 0h1m20 0h1m1 0h1M80 803.5h1m6 0h1m1 0h2m7 0h1m23 0h1m4 0h1M77 804.5h1m3 0h2m6 0h1m1 0h1m5 0h1m6 0h1m21 0h1m2 0h1M71 805.5h2m3 0h1m2 0h1m5 0h1m3 0h1m6 0h1m2 0h1m25 0h1m6 0h1M83 806.5h2m12 0h1m27 0h1m3 0h1M71 807.5h1m7 0h1m1 0h1m1 0h1m18 0h1m22 0h1m12 0h1m2 0h1M71 808.5h1m4 0h1m3 0h1m5 0h1m3 0h1m11 0h1m23 0h1m1 0h2m1 0h1m13 0h1M79 809.5h1m1 0h2m2 0h1m48 0h1m2 0h2m1 0h1m3 0h1m3 0h1M76 810.5h1m2 0h4m3 0h1m3 0h1m5 0h1m30 0h1m2 0h1m1 0h1m3 0h1m2 0h3m1 0h1M71 811.5h1m7 0h1m2 0h1m3 0h1m3 0h1m6 0h1m2 0h1m27 0h1m4 0h1m3 0h3m7 0h1M76 812.5h2m3 0h1m1 0h2m4 0h2m3 0h1m35 0h2m3 0h1m1 0h1m2 0h1m3 0h4m7 0h1M77 813.5h1m15 0h2m39 0h1m7 0h2m2 0h1m3 0h1M74 814.5h3m1 0h2m4 0h1m5 0h1m5 0h1m35 0h1m11 0h1m11 0h1M73 815.5h1m4 0h1m16 0h1m1 0h1m1 0h1m45 0h2m1 0h2m1 0h1m1 0h1m5 0h1M71 816.5h1m12 0h1m3 0h1m6 0h1m3 0h1m47 0h1m2 0h1m2 0h2m1 0h1M71 817.5h1m7 0h1m4 0h1m4 0h1m1 0h1m57 0h1m3 0h1m7 0h1M71 818.5h1m8 0h2m15 0h2m51 0h1m4 0h1m3 0h1M72 819.5h1m3 0h2m4 0h1m6 0h1m9 0h1m55 0h1m4 0h1M98 820.5h2m54 0h1m1 0h1m7 0h1M75 821.5h1m8 0h1m4 0h1m4 0h1m1 0h1m2 0h1m55 0h2M72 822.5h1m6 0h1m3 0h1m3 0h1m3 0h1m3 0h1m2 0h1m59 0h2m1 0h1m2 0h1m1 0h1M85 823.5h1m1 0h1m7 0h2m2 0h1m62 0h1m2 0h2M74 824.5h1m8 0h1m9 0h1m2 0h1m2 0h1m62 0h1m2 0h1M76 825.5h1m4 0h2m4 0h2m5 0h1m65 0h1M72 826.5h1m2 0h1m4 0h1m12 0h1m67 0h1m4 0h1M75 827.5h2m2 0h1m11 0h1m1 0h1m3 0h1m65 0h1m3 0h2M80 828.5h1m16 0h2m64 0h2m1 0h1M72 829.5h1m1 0h1m4 0h1m17 0h1m65 0h1m1 0h1M73 830.5h1m2 0h1m3 0h1m12 0h1m69 0h3M75 831.5h1m5 0h1m13 0h1m68 0h2m1 0h1m1 0h1M77 832.5h1m1 0h1m2 0h1m12 0h2m68 0h1M75 833.5h1m4 0h1m87 0h1M73 834.5h1m2 0h2m17 0h1m71 0h1M77 835.5h1m1 0h2m14 0h1m67 0h4M79 836.5h1m17 0h1m67 0h1M78 837.5h2m13 0h1m1 0h1m1 0h1M72 838.5h2m1 0h2m2 0h1m15 0h1m68 0h1m2 0h2M75 839.5h2m3 0h1m12 0h2m68 0h1m1 0h2M72 840.5h2m7 0h1m12 0h1m67 0h1m1 0h3M77 841.5h1m1 0h1m85 0h2M164 842.5h1m1 0h1M72 843.5h1m4 0h1m2 0h2m85 0h1M94 844.5h3m65 0h1m3 0h1M77 845.5h1m1 0h2m14 0h1m72 0h1M72 846.5h1m1 0h1m1 0h2m1 0h1m15 0h1m34 0h1m31 0h1M73 847.5h1m20 0h2m32 0h1m37 0h1M130 848.5h2m32 0h1m3 0h1M78 849.5h1m83 0h4M73 850.5h1m21 0h1m35 0h1m30 0h1m1 0h1m3 0h1M71 851.5h1m1 0h2m4 0h1m47 0h1m1 0h1m2 0h1m28 0h2m1 0h1M71 852.5h1m5 0h4m12 0h1m34 0h1m1 0h3m27 0h2M72 853.5h1m3 0h1m17 0h2m30 0h2m1 0h1m2 0h2m27 0h2m3 0h1M76 854.5h1m2 0h1m13 0h1m31 0h2m1 0h1m32 0h2m5 0h1M74 855.5h1m2 0h3m47 0h1m1 0h1m32 0h1m1 0h2M77 856.5h1m49 0h1m1 0h1m2 0h2m26 0h2m1 0h1M76 857.5h1m1 0h1m16 0h1m31 0h1m5 0h1m27 0h2m1 0h1M73 858.5h1m1 0h1m3 0h1m13 0h2m30 0h2m1 0h2m1 0h1m3 0h1m22 0h1m2 0h1m2 0h3M74 859.5h2m3 0h1m47 0h2m1 0h1m3 0h3m21 0h1m7 0h1M78 860.5h1m49 0h1m28 0h1m1 0h1m6 0h1m1 0h1M74 861.5h3m47 0h1m6 0h4m24 0h1m1 0h1m2 0h1M76 862.5h1m17 0h1m30 0h1m3 0h1m1 0h2m1 0h1m6 0h1m2 0h1m2 0h1m2 0h1m1 0h2m2 0h2m1 0h1m2 0h1m2 0h1M123 863.5h1m8 0h3m8 0h2m2 0h1m2 0h4m7 0h1m4 0h1M94 864.5h1m31 0h2m1 0h3m1 0h1m1 0h4m1 0h1m1 0h1m2 0h2m2 0h3m1 0h3m1 0h2m1 0h1m4 0h1M94 865.5h1m28 0h1m1 0h2m8 0h1m2 0h1m3 0h1m1 0h2m1 0h1m2 0h1m1 0h1m1 0h2m8 0h2M94 866.5h1m30 0h1m7 0h2m2 0h1m1 0h1m3 0h1m4 0h1m7 0h1m1 0h2M94 867.5h1m34 0h2m4 0h1m1 0h1m1 0h3m2 0h1m1 0h1m1 0h1m1 0h1m3 0h1m2 0h1m5 0h1m1 0h1M124 868.5h1m1 0h1m6 0h1m1 0h1m1 0h1m5 0h1m3 0h1m1 0h5m3 0h1m2 0h4M93 869.5h1m1 0h1m26 0h1m10 0h3m4 0h3m1 0h1m1 0h2m2 0h1m1 0h1m1 0h2m4 0h1M93 870.5h1m32 0h3m8 0h6m1 0h1m1 0h1m1 0h2m3 0h3M94 871.5h1m32 0h1m3 0h1m1 0h2m2 0h1m4 0h2m3 0h2m5 0h1m2 0h2m1 0h1M123 872.5h1m1 0h1m4 0h1m1 0h1m1 0h1m6 0h1m2 0h1m3 0h2m4 0h1m1 0h1m3 0h1m1 0h1M123 873.5h3m6 0h1m7 0h1m2 0h2m7 0h1m2 0h1m2 0h1M94 874.5h1m1 0h1m26 0h3m2 0h2m6 0h1m1 0h3m7 0h1m2 0h1m1 0h1m1 0h1m3 0h1M122 875.5h1m6 0h2m3 0h3m4 0h1m7 0h1m11 0h1M137 876.5h2m2 0h2m2 0h1m1 0h1m1 0h1m3 0h1M95 877.5h1m36 0h1m3 0h1m2 0h2m12 0h1m1 0h1M121 878.5h3m4 0h1m8 0h1M96 879.5h1m24 0h1m2 0h1m3 0h1M98 880.5h1m22 0h1m1 0h1M431 750.5h1m3 0h1M435 751.5h1M427 752.5h2M425 755.5h1M431 756.5h2M422 757.5h1M420 759.5h1m8 0h1M420 760.5h1m7 0h2M428 761.5h1M431 762.5h1m1 0h2M433 763.5h1M426 764.5h1m7 0h1M426 765.5h3m1 0h1M428 766.5h1m4 0h1M426 767.5h1m1 0h1M416 768.5h1m7 0h1m6 0h1M415 769.5h1m9 0h1M415 770.5h1m7 0h2m1 0h1M422 771.5h1m5 0h1M414 772.5h1m14 0h1M423 773.5h1m1 0h2M424 774.5h3M427 775.5h1M413 776.5h1M424 777.5h1m2 0h1M423 778.5h1m1 0h1M423 779.5h1M425 780.5h1M412 781.5h1M421 782.5h1M421 783.5h1m6 0h1M412 784.5h1m7 0h2m1 0h2M422 785.5h2M424 786.5h2M411 787.5h1m8 0h1m3 0h1M411 788.5h1m8 0h1m3 0h1M420 789.5h2M411 790.5h1m9 0h2M420 791.5h1m4 0h1M426 792.5h1M422 793.5h2m2 0h2M420 794.5h1m4 0h1M420 795.5h2m4 0h1M421 796.5h1m2 0h1M411 797.5h1m7 0h1m1 0h1M421 798.5h2m3 0h1M421 799.5h1m1 0h1M427 800.5h1M421 801.5h1M419 802.5h2m1 0h1m3 0h1M419 803.5h1m2 0h1M410 804.5h1m8 0h2M420 805.5h1m4 0h1M419 806.5h2m2 0h1M410 807.5h1m8 0h1m2 0h1m1 0h1M410 808.5h1m10 0h1M421 809.5h1m1 0h1M421 810.5h1M410 811.5h1m15 0h1M410 812.5h1m9 0h1m4 0h1M418 813.5h1m2 0h1m4 0h1M410 814.5h1m10 0h1m1 0h1M409 815.5h1m11 0h5M409 816.5h1m15 0h1M422 817.5h1m2 0h1M420 818.5h1m1 0h2m1 0h1M419 819.5h2m2 0h1M419 820.5h1M423 822.5h1M418 823.5h2m3 0h2m31 0h1m1 0h1M410 824.5h1m7 0h1m2 0h1m2 0h1m27 0h1m7 0h1M412 825.5h2m1 0h2m1 0h1m3 0h1m2 0h1m30 0h1M412 826.5h2m36 0h1m2 0h1m8 0h1M415 827.5h2m34 0h1m1 0h1m10 0h2M414 828.5h1m35 0h1m1 0h3m5 0h1m3 0h1M450 829.5h1m9 0h2M448 830.5h1m4 0h1m1 0h1m12 0h1M414 831.5h1m39 0h1m12 0h1M413 832.5h1m31 0h1m4 0h2m3 0h1m6 0h1m3 0h1m1 0h1M412 833.5h1m33 0h2m3 0h1m1 0h2m3 0h1M412 834.5h1m39 0h2m9 0h1m2 0h1M447 835.5h2m2 0h1m1 0h2m1 0h1m1 0h1m1 0h2M414 836.5h1m31 0h1m1 0h1m3 0h2m3 0h1m9 0h1m2 0h1M414 837.5h2m32 0h1m4 0h2m1 0h1m3 0h1m1 0h2m1 0h1m1 0h2M443 838.5h1m2 0h2m4 0h1m5 0h1m1 0h1m3 0h1M442 839.5h1m4 0h1m11 0h1m1 0h3m4 0h1m1 0h1M412 840.5h1m3 0h1m26 0h1m2 0h2m1 0h1m4 0h1m2 0h1m1 0h1m2 0h1m2 0h1m1 0h1m1 0h1m1 0h1M413 841.5h2m31 0h1m4 0h1m3 0h1m2 0h1m5 0h1m4 0h2M415 842.5h1m29 0h3m2 0h1m2 0h1m9 0h1M412 843.5h1m1 0h1m31 0h2m4 0h1m1 0h2m1 0h1m1 0h1M412 844.5h2m27 0h1m4 0h1m1 0h1m1 0h2m1 0h1m7 0h1M441 845.5h1m3 0h1m2 0h2m2 0h1m5 0h2m2 0h1m2 0h1M445 846.5h1m2 0h2m3 0h1m5 0h1m3 0h1m4 0h1m2 0h1M448 847.5h2m1 0h1m9 0h1m1 0h1m1 0h2M446 848.5h2m3 0h1m7 0h3m6 0h1M412 849.5h2m28 0h1m1 0h1m4 0h1m2 0h1m6 0h2m1 0h1m1 0h1m2 0h1m1 0h1M441 850.5h2m5 0h2m1 0h2m7 0h1m7 0h2M414 851.5h2m30 0h2m2 0h1m8 0h1m3 0h2m5 0h1M412 852.5h1m2 0h1m27 0h1m2 0h1m4 0h1m7 0h3m8 0h2M413 853.5h1m1 0h1m27 0h2m2 0h1m2 0h1m7 0h1m4 0h1M446 854.5h1m2 0h2m2 0h1m4 0h3m1 0h1m1 0h1m2 0h2M412 855.5h1m28 0h1m9 0h1m6 0h2m2 0h1m4 0h1m1 0h2M446 856.5h3m1 0h1m2 0h1m1 0h1m1 0h1m4 0h2m4 0h1M445 857.5h1m2 0h1m1 0h1m3 0h1m1 0h4m1 0h1m1 0h1m4 0h1M447 858.5h1m2 0h4m1 0h2m6 0h1m4 0h1M441 859.5h2m6 0h4m2 0h1m5 0h1m3 0h2m2 0h1M445 860.5h1m3 0h1m3 0h2m3 0h1m5 0h1m1 0h1m1 0h1M443 861.5h1m8 0h1m14 0h1m1 0h1M446 862.5h1m2 0h4m2 0h2m1 0h1m1 0h1m1 0h1M452 863.5h4m3 0h2m2 0h1m2 0h1m1 0h1M457 864.5h2m1 0h1m4 0h2M449 865.5h2m1 0h1m3 0h1m2 0h1M447 866.5h1m2 0h1m4 0h1m1 0h1m4 0h1M458 867.5h1m1 0h1m2 0h2M448 868.5h1m5 0h3M446 869.5h3m2 0h1m4 0h1m2 0h1M448 870.5h1m1 0h1m5 0h2m3 0h1M450 871.5h1m9 0h1M447 872.5h1m1 0h1m8 0h2M456 873.5h1m3 0h1M454 874.5h1m3 0h1M452 875.5h1M456 876.5h1" stroke="#333" stroke-width="1" fill="none"/><path d="M133 91.5h1m1 0h1m1 0h3M126 92.5h2m1 0h1m3 0h1m1 0h3m1 0h1m3 0h1m1 0h1M124 93.5h2m1 0h1m2 0h9m2 0h1m1 0h3m1 0h1M123 94.5h2m1 0h1m1 0h16m1 0h2M121 95.5h1m1 0h6m1 0h6m1 0h3m2 0h3m3 0h2M120 96.5h1m1 0h3m1 0h1m1 0h2m1 0h3m1 0h12m1 0h2M118 97.5h3m1 0h1m1 0h6m1 0h8m1 0h6m1 0h1m2 0h2M119 98.5h2m1 0h8m1 0h3m1 0h3m1 0h4m1 0h6M116 99.5h3m1 0h2m1 0h1m2 0h8m2 0h1m1 0h1m1 0h5m1 0h2m2 0h2M115 100.5h5m1 0h1m1 0h2m2 0h1m1 0h6m1 0h1m2 0h4m1 0h2m1 0h1m1 0h3M116 101.5h1m1 0h1m1 0h13m1 0h2m2 0h7m2 0h2m1 0h3M114 102.5h1m1 0h1m1 0h3m1 0h2m1 0h7m1 0h3m1 0h9m1 0h5M115 103.5h2m1 0h2m1 0h7m1 0h1m1 0h3m1 0h2m1 0h14M113 104.5h1m1 0h1m1 0h3m1 0h6m3 0h11m1 0h8m1 0h2M114 105.5h2m1 0h8m2 0h2m1 0h5m1 0h4m1 0h7m1 0h5M112 106.5h6m1 0h1m3 0h1m1 0h7m3 0h1m1 0h2m1 0h1m1 0h1m1 0h3m1 0h1m1 0h1m1 0h1M114 107.5h2m1 0h5m1 0h1m1 0h1m11 0h2m1 0h1m1 0h3m1 0h4m1 0h2M112 108.5h2m1 0h2m1 0h1m1 0h2m20 0h2m1 0h1m2 0h3m1 0h1M111 109.5h1m1 0h7m27 0h4M111 110.5h1m1 0h3m2 0h1m30 0h3M111 111.5h1m2 0h2m1 0h1M110 112.5h1m2 0h1m1 0h1M110 113.5h5m1 0h1M110 114.5h3m1 0h3M111 115.5h1m1 0h1m1 0h1M112 116.5h1m1 0h2M111 117.5h2m1 0h1M110 118.5h6M109 119.5h1m1 0h3M109 120.5h1m1 0h2M110 121.5h1m1 0h2M109 122.5h2m1 0h2M109 123.5h2m1 0h3M111 124.5h1m1 0h2M109 125.5h1m1 0h1M109 126.5h1m1 0h3M111 127.5h1M113 128.5h2M106 169.5h2m1 0h1m1 0h2m1 0h1M107 170.5h2m3 0h1m1 0h1M109 171.5h5M106 172.5h2m1 0h5M106 173.5h9M106 174.5h5m1 0h2M107 175.5h7m32 0h4m1 0h1M109 176.5h1m1 0h3m32 0h2m1 0h3M107 177.5h2m1 0h5m31 0h5M108 178.5h5m1 0h1m31 0h1m4 0h1M107 179.5h8m33 0h3M107 180.5h6m33 0h1m1 0h4M107 181.5h7m33 0h5M106 182.5h7m1 0h1m31 0h2m1 0h3M106 183.5h4m1 0h4m31 0h3m1 0h1M107 184.5h8m31 0h1m1 0h3M107 185.5h8m33 0h1M106 186.5h1m1 0h1m1 0h2m1 0h2m31 0h2m1 0h2M106 187.5h7m1 0h1m31 0h1m1 0h4M106 188.5h1m1 0h4m2 0h1m31 0h1m1 0h1m2 0h1M106 189.5h8m32 0h5M107 190.5h7m33 0h1m2 0h1M107 191.5h8m31 0h1m1 0h1m1 0h1M105 192.5h8m33 0h1m2 0h2M106 193.5h8m35 0h1M106 194.5h6m1 0h2m31 0h1m1 0h3M105 195.5h1m1 0h1m1 0h1m1 0h4m31 0h3m2 0h1M106 196.5h2m1 0h6m30 0h3m1 0h2M106 197.5h6m1 0h1m31 0h4m1 0h2M108 198.5h7m30 0h3m1 0h3M106 199.5h8m32 0h2M106 200.5h2m1 0h6m31 0h1m3 0h2M105 201.5h7m1 0h2m34 0h2M106 202.5h1m1 0h5m33 0h1m2 0h1M107 203.5h5m36 0h1M106 204.5h9m32 0h5M106 205.5h1m1 0h5m33 0h3M108 206.5h6m32 0h1m1 0h1m1 0h2M106 207.5h8m33 0h1m1 0h3M106 208.5h1m1 0h2m1 0h1m34 0h1m1 0h2m1 0h1M106 209.5h2m1 0h5m33 0h1m2 0h1M107 210.5h7m32 0h2m1 0h3M106 211.5h1m1 0h6m33 0h1m1 0h2M106 212.5h7m35 0h3M106 213.5h7m33 0h3M108 214.5h5m33 0h1m1 0h3M107 215.5h5m1 0h1m36 0h1M106 216.5h5m1 0h1m33 0h6M108 217.5h3m35 0h1m2 0h2M107 218.5h7m33 0h1m1 0h2M107 219.5h2m1 0h3m34 0h2m1 0h1M106 220.5h4m2 0h1m34 0h1m1 0h2M106 221.5h2m1 0h3m34 0h1m1 0h1m1 0h1M106 222.5h8m35 0h1M107 223.5h5m1 0h1m32 0h1M106 224.5h1m1 0h1m1 0h4M106 225.5h2m1 0h4M106 226.5h6M106 227.5h7M107 228.5h7M108 229.5h1m2 0h1M482 145.5h2m1 0h1M480 146.5h1m3 0h2m1 0h3M480 147.5h1m1 0h7m1 0h1M479 148.5h12M477 149.5h1m1 0h4m1 0h7M477 150.5h15M476 151.5h4m1 0h9M475 152.5h17M476 153.5h2m1 0h12m1 0h1M444 154.5h1m1 0h1m28 0h17M443 155.5h1m1 0h3m25 0h1m2 0h16M444 156.5h2m1 0h1m25 0h19M442 157.5h6m25 0h19M441 158.5h7m24 0h20M441 159.5h7m24 0h21M441 160.5h3m2 0h3m22 0h1m1 0h20M442 161.5h7m23 0h1m1 0h19M439 162.5h9m23 0h18m1 0h2M439 163.5h1m1 0h6m26 0h18m1 0h1M440 164.5h7m24 0h20M439 165.5h8m1 0h1m23 0h18m1 0h1M441 166.5h7m1 0h1m22 0h19M438 167.5h10m1 0h1m21 0h20M438 168.5h10m1 0h1m21 0h18m1 0h1M438 169.5h9m1 0h2m22 0h20M439 170.5h3m1 0h3m1 0h2m21 0h22M437 171.5h1m1 0h9m24 0h19M438 172.5h1m1 0h8m23 0h2m1 0h17M439 173.5h10m21 0h20M437 174.5h11m22 0h2m1 0h18M438 175.5h9m23 0h2m1 0h13m1 0h3M437 176.5h1m2 0h9m21 0h18m1 0h1M439 177.5h7m2 0h1m22 0h19M437 178.5h3m1 0h5m2 0h1m24 0h14m1 0h1M439 179.5h9m23 0h15m1 0h1M437 180.5h10m24 0h16m1 0h1M438 181.5h1m2 0h6m24 0h1m2 0h14M437 182.5h1m1 0h8m24 0h13m1 0h1M437 183.5h8m1 0h1m26 0h1m1 0h5m1 0h3m1 0h1M437 184.5h2m1 0h7m27 0h1m1 0h6m1 0h2M440 185.5h6m27 0h1m1 0h5m2 0h1M440 186.5h5m29 0h3m1 0h1m1 0h2M438 187.5h1m1 0h7m29 0h1M439 188.5h7m28 0h1m2 0h1M439 189.5h7m29 0h3M438 190.5h1m1 0h4m1 0h1M438 191.5h2m1 0h3M439 192.5h3m1 0h2M440 193.5h4M442 194.5h3M440 195.5h1m2 0h1M440 196.5h1m2 0h1M441 197.5h2M442 198.5h1M139 495.5h1m3 0h2M130 496.5h1m1 0h3m1 0h2m4 0h1m4 0h2M127 497.5h3m1 0h4m2 0h1m1 0h3m1 0h2m2 0h1m4 0h1m1 0h1M123 498.5h1m1 0h6m2 0h4m1 0h5m7 0h1m1 0h5M122 499.5h1m2 0h1m2 0h3m1 0h6m2 0h4m3 0h5m1 0h2m1 0h1M118 500.5h1m3 0h1m3 0h6m1 0h14m1 0h8m1 0h2M113 501.5h3m1 0h1m1 0h1m1 0h1m2 0h7m1 0h12m2 0h4m1 0h9M112 502.5h1m2 0h1m1 0h1m2 0h21m1 0h10m2 0h3M109 503.5h17m1 0h13m1 0h7m1 0h7m1 0h1m1 0h1M108 504.5h1m2 0h3m1 0h42m1 0h2M106 505.5h7m1 0h1m1 0h1m1 0h33m2 0h3m1 0h1M105 506.5h3m2 0h48M105 507.5h1m3 0h42m1 0h5m2 0h1M103 508.5h1m1 0h52m1 0h1M102 509.5h1m1 0h46m1 0h3m1 0h6M101 510.5h3m1 0h48m1 0h7M100 511.5h2m1 0h52m4 0h1M101 512.5h1m3 0h53M100 513.5h1m2 0h48m1 0h3m1 0h1M98 514.5h1m1 0h4m1 0h51M97 515.5h2m1 0h5m1 0h52m1 0h2M99 516.5h5m1 0h52m1 0h1M100 517.5h55m1 0h2m2 0h1M96 518.5h2m1 0h48m2 0h2m1 0h5m1 0h3M96 519.5h55m1 0h2m1 0h3m1 0h1M96 520.5h1m1 0h56m3 0h1M96 521.5h3m1 0h58M96 522.5h58m1 0h1m1 0h2M95 523.5h1m1 0h1m2 0h1m1 0h49m1 0h6M96 524.5h60M97 525.5h1m2 0h55M95 526.5h5m1 0h49m2 0h1m1 0h3M95 527.5h5m2 0h52m1 0h1m1 0h1M96 528.5h58m1 0h2M98 529.5h53m1 0h3m1 0h1M95 530.5h1m3 0h1m1 0h44m1 0h1m1 0h8M95 531.5h1m1 0h49m1 0h3m1 0h4M97 532.5h44m1 0h3m2 0h1m2 0h1m1 0h2M96 533.5h52m4 0h1m1 0h1M96 534.5h49m1 0h2m1 0h3m1 0h1M96 535.5h1m2 0h38m1 0h5m1 0h4m1 0h2M95 536.5h2m1 0h41m1 0h2m2 0h3m2 0h1m2 0h1M96 537.5h1m2 0h44m1 0h5M96 538.5h39m1 0h10m1 0h2m1 0h1M96 539.5h5m1 0h26m2 0h3m1 0h10m1 0h2M97 540.5h3m1 0h34m1 0h5m1 0h1m1 0h6M97 541.5h21m1 0h10m1 0h6m1 0h6m1 0h1m1 0h1m2 0h1M95 542.5h3m1 0h35m1 0h4m1 0h2m1 0h1m1 0h2m1 0h1M97 543.5h37m1 0h2m1 0h2m1 0h3m1 0h1M96 544.5h13m1 0h2m1 0h10m3 0h5m2 0h3m1 0h2m3 0h2M97 545.5h21m1 0h1m1 0h2m1 0h1m1 0h1m2 0h3m5 0h1m1 0h4M96 546.5h15m1 0h10m1 0h7m1 0h1m1 0h2m1 0h2m3 0h1M95 547.5h1m1 0h3m1 0h6m1 0h5m2 0h9m1 0h8m1 0h4M97 548.5h1m1 0h2m1 0h18m1 0h1m1 0h1m3 0h1m1 0h3m1 0h2M97 549.5h1m1 0h2m1 0h3m1 0h3m1 0h6m1 0h1m5 0h1m2 0h1m1 0h1m1 0h2M96 550.5h3m2 0h10m1 0h3m1 0h2m1 0h2m1 0h1m3 0h1M97 551.5h17m1 0h2M96 552.5h2m1 0h2m4 0h5m2 0h2m1 0h1m2 0h2M97 553.5h4m1 0h2m1 0h3m1 0h3m1 0h4M97 554.5h1m1 0h5m1 0h2m1 0h2m1 0h2m1 0h4M97 555.5h1m1 0h6m1 0h2m1 0h3m3 0h2M99 556.5h2m1 0h5m2 0h1m4 0h1m1 0h2M99 557.5h6m1 0h1m2 0h3m4 0h1M101 558.5h2m1 0h1m2 0h3m5 0h2M98 559.5h1m2 0h1m1 0h4m2 0h6M101 560.5h1m1 0h6m1 0h1m1 0h2M103 561.5h1m1 0h1m4 0h2m2 0h1M99 562.5h1m4 0h1m6 0h1m3 0h2M100 563.5h2m1 0h2m2 0h1m1 0h5m1 0h1M102 564.5h1m2 0h1m1 0h1m1 0h1m1 0h4M496 402.5h1m1 0h3m1 0h1M491 403.5h2m1 0h6m1 0h2M488 404.5h10m1 0h2m1 0h1M485 405.5h5m1 0h7M483 406.5h8m1 0h4m2 0h1M477 407.5h1m2 0h12m2 0h1m1 0h2M474 408.5h7m1 0h1m1 0h1m3 0h1m4 0h2m1 0h3M470 409.5h1m1 0h6m1 0h2m1 0h3m2 0h1m2 0h3M467 410.5h1m1 0h3m1 0h1m1 0h2m2 0h1m2 0h1m2 0h1m3 0h1M465 411.5h10m1 0h3m1 0h1m2 0h3M462 412.5h5m1 0h1m2 0h3m1 0h1m1 0h2M460 413.5h6m1 0h2m4 0h1m1 0h2M455 414.5h12m1 0h1m1 0h1M453 415.5h3m1 0h4m1 0h2M451 416.5h7m2 0h1m1 0h2M449 417.5h8M447 418.5h4m3 0h1m1 0h1M446 419.5h5m1 0h3M443 420.5h4m1 0h2M442 421.5h3m2 0h3M440 422.5h3m3 0h3M438 423.5h3m1 0h2m2 0h1M438 424.5h3m2 0h2M435 425.5h1m1 0h3m2 0h1M435 426.5h1m1 0h3M433 427.5h4m1 0h2M432 428.5h2m2 0h1M430 429.5h4M429 430.5h3m1 0h2M428 431.5h4m1 0h1M427 432.5h2m2 0h1M426 433.5h2M425 434.5h2M425 435.5h3M423 436.5h2m1 0h1M422 437.5h2M423 438.5h1M420 441.5h1M418 443.5h1M161 716.5h6m1 0h1M157 717.5h8m1 0h1M153 718.5h3m1 0h4m1 0h4m1 0h1M148 719.5h11m1 0h5m1 0h2M145 720.5h19m1 0h1m1 0h1M141 721.5h8m1 0h1m1 0h2m1 0h8m1 0h4M138 722.5h2m1 0h3m1 0h12m2 0h1m2 0h1m1 0h4M135 723.5h6m1 0h1m1 0h2m1 0h1m2 0h1m2 0h1m2 0h2m1 0h4m2 0h1M132 724.5h5m1 0h11m1 0h2m1 0h4m1 0h1m1 0h5M129 725.5h1m1 0h8m1 0h5m1 0h2m1 0h3m2 0h7M126 726.5h10m2 0h2m1 0h5m1 0h1m1 0h2m1 0h5M125 727.5h6m1 0h4m2 0h4m1 0h4m2 0h2m2 0h1M123 728.5h5m1 0h3m2 0h1m1 0h5m1 0h2m1 0h1m1 0h1m1 0h2M120 729.5h9m1 0h1m4 0h1m1 0h4M117 730.5h1m1 0h12m1 0h6m1 0h1m1 0h3M115 731.5h9m1 0h1m1 0h1m1 0h1m2 0h4m1 0h2m1 0h1M113 732.5h1m1 0h12m3 0h3m1 0h2m1 0h1M111 733.5h11m1 0h2m1 0h1m1 0h3m1 0h3M111 734.5h12m1 0h1m2 0h1M110 735.5h9m1 0h2m1 0h1m2 0h2m1 0h1M106 736.5h3m1 0h11m1 0h1m1 0h2M104 737.5h16M104 738.5h1m1 0h7m1 0h2m1 0h1M101 739.5h3m1 0h6m1 0h4m2 0h1m1 0h1M99 740.5h4m1 0h5m1 0h1m2 0h2m1 0h2m1 0h1M98 741.5h9m1 0h1m1 0h3m1 0h1m1 0h2M97 742.5h7m1 0h5m2 0h2M97 743.5h3m2 0h5m4 0h1M94 744.5h11m2 0h1m2 0h1M94 745.5h3m1 0h1m1 0h5m1 0h2M91 746.5h1m2 0h8m1 0h1m1 0h1m1 0h1M90 747.5h5m1 0h2m1 0h5m1 0h1M90 748.5h15M88 749.5h9m1 0h2M88 750.5h2m1 0h3m2 0h1m1 0h1m1 0h2M87 751.5h8m5 0h1M86 752.5h9m1 0h1m1 0h1M85 753.5h2m1 0h4m1 0h1m1 0h1m1 0h1M85 754.5h7m1 0h2M84 755.5h2m1 0h3m1 0h2m2 0h2M83 756.5h2m1 0h1m2 0h6M82 757.5h6m1 0h6M83 758.5h2m1 0h2m3 0h3M81 759.5h4m1 0h3m1 0h1m1 0h1M82 760.5h3m1 0h4m1 0h1M80 761.5h2m1 0h8M80 762.5h3m1 0h1m1 0h2m1 0h2M79 763.5h5m1 0h3m1 0h1M79 764.5h4m2 0h1m2 0h2M78 765.5h2m1 0h1m1 0h1m3 0h2M77 766.5h2m1 0h2m1 0h1m1 0h4M77 767.5h11M77 768.5h4m1 0h2m1 0h1M77 769.5h9M76 770.5h3m1 0h4M76 771.5h3m1 0h4M76 772.5h4m1 0h2m2 0h1M76 773.5h4m2 0h2M77 774.5h6m1 0h1M75 775.5h1m1 0h4m1 0h3M75 776.5h3m1 0h4M74 777.5h5m1 0h2m1 0h1M75 778.5h2m1 0h3m1 0h1M74 779.5h4m2 0h1M74 780.5h3m1 0h4M73 781.5h3m1 0h4m1 0h1M73 782.5h7m1 0h1M74 783.5h6m1 0h1M73 784.5h7m1 0h1M73 785.5h4m1 0h1m1 0h1M73 786.5h1m1 0h6M72 787.5h5m2 0h1M72 788.5h6m2 0h1M73 789.5h4M72 790.5h3m1 0h1m2 0h1M72 791.5h5m1 0h2M72 792.5h3m1 0h1m1 0h1M72 793.5h3m1 0h1m1 0h2M72 794.5h7M71 795.5h2m1 0h1m2 0h2M72 796.5h1m1 0h1m2 0h1M71 797.5h1m1 0h1m1 0h1M71 798.5h5M71 799.5h6M72 800.5h2m36 0h2m2 0h3M109 801.5h1m2 0h1m1 0h1M107 802.5h3m3 0h3m2 0h2M107 803.5h1m1 0h5m1 0h2m1 0h1M106 804.5h1m2 0h3m1 0h3m1 0h4m1 0h1M106 805.5h1m3 0h1m1 0h3m3 0h2M108 806.5h3m1 0h8m2 0h2M103 807.5h1m1 0h1m1 0h1m1 0h12m1 0h1M103 808.5h1m1 0h7m1 0h1m1 0h2m1 0h1m1 0h2m3 0h1M102 809.5h1m1 0h1m1 0h1m1 0h12m1 0h3m1 0h1M104 810.5h6m1 0h3m1 0h8m2 0h1M101 811.5h1m1 0h3m1 0h9m1 0h2m1 0h7M105 812.5h3m1 0h15m2 0h1M101 813.5h3m2 0h18m1 0h2m2 0h1M103 814.5h21m1 0h2m1 0h3m8 0h2M101 815.5h28m1 0h1M100 816.5h2m1 0h20m1 0h2m1 0h1m2 0h1m1 0h1m2 0h1m4 0h2m2 0h1M100 817.5h23m1 0h4m1 0h1m3 0h2m3 0h1m1 0h1m2 0h2m1 0h2M101 818.5h2m1 0h19m1 0h8m1 0h1m1 0h2m2 0h1m2 0h1m3 0h1m1 0h1M101 819.5h22m1 0h8m2 0h1m2 0h7m2 0h2m1 0h4M101 820.5h25m1 0h2m3 0h5m2 0h2m2 0h5m1 0h3m1 0h1M101 821.5h2m1 0h20m1 0h1m1 0h2m4 0h1m1 0h2m1 0h1m1 0h5m2 0h1m3 0h1m1 0h1M100 822.5h2m1 0h1m1 0h21m1 0h2m4 0h3m1 0h3m1 0h1m3 0h3m2 0h3M100 823.5h25m1 0h2m1 0h2m2 0h1m1 0h1m1 0h3m1 0h2m1 0h1m1 0h3m2 0h4m1 0h1M100 824.5h1m2 0h23m1 0h2m1 0h5m8 0h2m1 0h3m1 0h2m2 0h1m1 0h1M102 825.5h28m2 0h3m2 0h1m4 0h5m1 0h1m2 0h2M99 826.5h1m1 0h26m1 0h2m1 0h4m1 0h6m1 0h1m2 0h4m2 0h6m2 0h1M101 827.5h2m1 0h19m1 0h2m1 0h1m1 0h3m3 0h1m1 0h3m1 0h1m1 0h1m4 0h1m1 0h1m5 0h3m1 0h2M99 828.5h1m3 0h24m2 0h3m1 0h5m1 0h5m3 0h2m1 0h1m5 0h5M100 829.5h26m1 0h4m1 0h1m3 0h7m2 0h1m3 0h2m3 0h3m1 0h1m1 0h1M102 830.5h29m1 0h3m3 0h3m3 0h3m1 0h2m2 0h2m1 0h4m2 0h2M98 831.5h1m1 0h1m1 0h27m2 0h2m4 0h2m1 0h6m1 0h1m1 0h4m3 0h1m1 0h1M99 832.5h1m1 0h1m1 0h24m1 0h2m3 0h2m5 0h1m1 0h5m1 0h2m1 0h8M101 833.5h25m2 0h1m1 0h6m2 0h1m2 0h3m1 0h1m1 0h3m5 0h2m1 0h1m1 0h1m1 0h1M98 834.5h1m2 0h28m1 0h2m2 0h2m1 0h2m1 0h6m1 0h1m1 0h2m1 0h1m2 0h1m2 0h1m2 0h1M99 835.5h29m1 0h3m2 0h1m2 0h1m2 0h3m2 0h2m2 0h3m2 0h2m1 0h6M98 836.5h2m1 0h28m7 0h1m4 0h1m2 0h2m1 0h2m2 0h2m2 0h1m1 0h1m3 0h2M99 837.5h1m1 0h22m1 0h4m1 0h1m3 0h2m2 0h3m2 0h1m2 0h4m3 0h1m1 0h1m2 0h1m4 0h1M98 838.5h31m1 0h1m1 0h1m8 0h3m3 0h2m1 0h2m1 0h1m1 0h3m2 0h2M97 839.5h2m2 0h25m1 0h7m1 0h4m2 0h2m2 0h1m1 0h5m1 0h1m1 0h1m2 0h1m2 0h2M100 840.5h24m2 0h1m2 0h2m4 0h1m1 0h1m2 0h1m2 0h1m1 0h1m4 0h1m3 0h1m3 0h2M98 841.5h27m1 0h3m2 0h1m3 0h4m2 0h7m1 0h1m1 0h1m1 0h1m1 0h3M97 842.5h26m1 0h2m1 0h1m3 0h3m1 0h1m2 0h1m3 0h3m3 0h4m1 0h2m1 0h3M97 843.5h1m1 0h25m11 0h2m1 0h1m3 0h2m1 0h1m4 0h3m2 0h1m5 0h1M97 844.5h1m2 0h23m2 0h2m3 0h2m3 0h1m3 0h1m1 0h1m5 0h1m1 0h4m1 0h2m2 0h2M99 845.5h1m1 0h24m3 0h1m1 0h1m4 0h1m5 0h2m3 0h1m4 0h4m4 0h1M96 846.5h1m1 0h26m2 0h1m6 0h2m2 0h1m1 0h3m1 0h1m5 0h1m1 0h2m1 0h1m2 0h1M97 847.5h1m1 0h26m2 0h1m5 0h3m1 0h3m2 0h1m2 0h3m3 0h1m1 0h1m1 0h1m2 0h2M96 848.5h27m1 0h1m1 0h1m5 0h1m4 0h1m3 0h2m4 0h2m5 0h1m1 0h1m2 0h1M98 849.5h29m8 0h1m3 0h1m4 0h1m4 0h1m1 0h1m1 0h1m1 0h2m2 0h2M97 850.5h25m1 0h3m6 0h1m1 0h3m1 0h2m2 0h3m1 0h1m4 0h1m2 0h2m4 0h1M96 851.5h1m1 0h2m1 0h24m8 0h4m1 0h2m1 0h1m1 0h1m2 0h1m1 0h1m2 0h2m2 0h1m1 0h1m1 0h2M97 852.5h4m1 0h19m1 0h2m9 0h2m2 0h2m5 0h1m2 0h2m2 0h2M96 853.5h1m2 0h22m2 0h3m8 0h1m5 0h2m1 0h1m1 0h1m2 0h1m1 0h1m1 0h2m4 0h2M97 854.5h3m1 0h22m11 0h2m2 0h1m2 0h1m3 0h2m2 0h3m4 0h1m1 0h2M97 855.5h27m12 0h1m2 0h1m4 0h1m1 0h1m2 0h1m1 0h3M96 856.5h26m1 0h1m13 0h1m3 0h1m2 0h2m2 0h1m1 0h1m2 0h3m1 0h2M97 857.5h24m1 0h2m13 0h2m1 0h2m5 0h1m5 0h2m1 0h2M97 858.5h27m12 0h1m4 0h1m1 0h4m2 0h3M97 859.5h24m18 0h1m1 0h2m1 0h2m1 0h1m1 0h1m1 0h1m2 0h1m1 0h1M97 860.5h26m21 0h1m1 0h3m5 0h1M99 861.5h24m18 0h2m4 0h1m4 0h1M96 862.5h25m1 0h1M95 863.5h1m3 0h20m2 0h2M96 864.5h1m1 0h21m1 0h1M96 865.5h23m2 0h1M98 866.5h21m1 0h1M100 867.5h18m1 0h1m1 0h1M96 868.5h25M97 869.5h22m1 0h1M96 870.5h1m1 0h20m2 0h2M97 871.5h1m2 0h20M98 872.5h1m1 0h18m1 0h1M99 873.5h21m1 0h1M97 874.5h1m1 0h20m1 0h1M98 875.5h21m1 0h1M98 876.5h18m1 0h1m1 0h2M99 877.5h22M98 878.5h1m2 0h1m1 0h16m1 0h1M98 879.5h1m2 0h2m1 0h4m1 0h5m1 0h4m1 0h1M101 880.5h2m3 0h2m1 0h3m1 0h1m1 0h4M433 750.5h1M433 751.5h2M429 752.5h5M430 753.5h3M428 754.5h3m1 0h1M427 755.5h2m1 0h1M425 756.5h3m1 0h1M423 757.5h1m1 0h3M422 758.5h2m1 0h4M422 759.5h4M422 760.5h5M420 761.5h1m2 0h1m1 0h1M421 762.5h5M419 763.5h7M419 764.5h4m1 0h1M418 765.5h6M418 766.5h5M418 767.5h5M417 768.5h4m1 0h1M416 769.5h2m1 0h1m1 0h1M417 770.5h2m1 0h3M416 771.5h1m1 0h2m1 0h1M416 772.5h3m1 0h1M416 773.5h5M414 774.5h7M414 775.5h2m1 0h1m1 0h2M415 776.5h4M414 777.5h6M414 778.5h7M414 779.5h6M414 780.5h6M413 781.5h1m1 0h6M413 782.5h4m2 0h1M413 783.5h7M414 784.5h6M413 785.5h6M412 786.5h1m1 0h2m1 0h2M413 787.5h5M413 788.5h1m1 0h5M413 789.5h5M415 790.5h4M413 791.5h2m1 0h4M412 792.5h2m1 0h5M412 793.5h1m2 0h1m1 0h2M412 794.5h6m1 0h1M413 795.5h4m1 0h1M412 796.5h5m1 0h2M412 797.5h1m1 0h4M412 798.5h6M412 799.5h6M411 800.5h5m1 0h2M411 801.5h1m1 0h4M411 802.5h4m1 0h3M411 803.5h1m2 0h4M411 804.5h2m1 0h3m1 0h1M412 805.5h1m1 0h4M411 806.5h5m1 0h1M411 807.5h1m1 0h2m1 0h1M411 808.5h1m1 0h5M412 809.5h6M411 810.5h6M412 811.5h4m1 0h1M412 812.5h3m1 0h1M411 813.5h6M411 814.5h5m1 0h1M412 815.5h5M412 816.5h5M411 817.5h1m1 0h3M411 818.5h1m1 0h4M410 819.5h7M411 820.5h5m1 0h1M411 821.5h1m1 0h3M410 822.5h7M411 823.5h1m1 0h1m1 0h2M411 824.5h2m1 0h1m1 0h1M457 844.5h1M454 845.5h1m2 0h1M456 846.5h1M456 847.5h1m1 0h1M458 848.5h1M455 849.5h3M456 850.5h1M453 851.5h3m1 0h2M454 852.5h3M453 853.5h1m2 0h2M455 854.5h2" stroke="#000" stroke-width="1" fill="none"/><line x1="62.9" y1="23.5" x2="166.8" y2="22.91" stroke="#1a1a1a" stroke-width="1.4"/><line x1="166.8" y1="22.91" x2="309.9" y2="22.1" stroke="#444" stroke-width="1.2"/><line x1="309.4" y1="22.1" x2="310.3" y2="229.3" stroke="#bbb" stroke-width="1.2"/><line x1="63.5" y1="23.5" x2="64.7" y2="230.7" stroke="#222" stroke-width="1.2"/><line x1="64.1" y1="230.7" x2="310.8" y2="229.3" stroke="#111" stroke-width="1.4"/><line x1="65.4" y1="230.7" x2="65.4" y2="236.9" stroke="#000" stroke-width="1.8"/><line x1="74.96" y1="230.64" x2="74.96" y2="235.44" stroke="#000" stroke-width="1.8"/><line x1="84.51" y1="230.59" x2="84.51" y2="235.39" stroke="#000" stroke-width="1.8"/><line x1="94.07" y1="230.53" x2="94.07" y2="235.33" stroke="#000" stroke-width="1.8"/><line x1="103.62" y1="230.48" x2="103.62" y2="235.28" stroke="#000" stroke-width="1.8"/><line x1="113.18" y1="230.42" x2="113.18" y2="236.62" stroke="#000" stroke-width="1.8"/><line x1="122.74" y1="230.37" x2="122.74" y2="235.17" stroke="#000" stroke-width="1.8"/><line x1="132.29" y1="230.31" x2="132.29" y2="235.11" stroke="#000" stroke-width="1.8"/><line x1="141.85" y1="230.26" x2="141.85" y2="235.06" stroke="#000" stroke-width="1.8"/><line x1="151.4" y1="230.21" x2="151.4" y2="235.01" stroke="#000" stroke-width="1.8"/><line x1="160.96" y1="230.15" x2="160.96" y2="236.35" stroke="#000" stroke-width="1.8"/><line x1="170.52" y1="230.1" x2="170.52" y2="234.9" stroke="#000" stroke-width="1.8"/><line x1="180.07" y1="230.04" x2="180.07" y2="234.84" stroke="#000" stroke-width="1.8"/><line x1="189.63" y1="229.99" x2="189.63" y2="234.79" stroke="#000" stroke-width="1.8"/><line x1="199.18" y1="229.93" x2="199.18" y2="234.73" stroke="#000" stroke-width="1.8"/><line x1="208.74" y1="229.88" x2="208.74" y2="236.08" stroke="#000" stroke-width="1.8"/><line x1="218.3" y1="229.82" x2="218.3" y2="234.62" stroke="#000" stroke-width="1.8"/><line x1="227.85" y1="229.77" x2="227.85" y2="234.57" stroke="#000" stroke-width="1.8"/><line x1="237.41" y1="229.72" x2="237.41" y2="234.52" stroke="#000" stroke-width="1.8"/><line x1="246.96" y1="229.66" x2="246.96" y2="234.46" stroke="#000" stroke-width="1.8"/><line x1="256.52" y1="229.61" x2="256.52" y2="235.81" stroke="#000" stroke-width="1.8"/><line x1="266.08" y1="229.55" x2="266.08" y2="234.35" stroke="#000" stroke-width="1.8"/><line x1="275.63" y1="229.5" x2="275.63" y2="234.3" stroke="#000" stroke-width="1.8"/><line x1="285.19" y1="229.44" x2="285.19" y2="234.24" stroke="#000" stroke-width="1.8"/><line x1="294.74" y1="229.39" x2="294.74" y2="234.19" stroke="#000" stroke-width="1.8"/><line x1="304.3" y1="229.33" x2="304.3" y2="235.53" stroke="#000" stroke-width="1.8"/><line x1="62.3" y1="230.7" x2="64.7" y2="230.7" stroke="#000" stroke-width="1.1"/><line x1="62.81" y1="215.11" x2="64.61" y2="215.11" stroke="#333" stroke-width="1"/><line x1="62.76" y1="205.99" x2="64.56" y2="205.99" stroke="#333" stroke-width="1"/><line x1="62.72" y1="199.51" x2="64.52" y2="199.51" stroke="#333" stroke-width="1"/><line x1="62.69" y1="194.49" x2="64.49" y2="194.49" stroke="#333" stroke-width="1"/><line x1="62.67" y1="190.39" x2="64.47" y2="190.39" stroke="#333" stroke-width="1"/><line x1="62.65" y1="186.92" x2="64.45" y2="186.92" stroke="#333" stroke-width="1"/><line x1="62.63" y1="183.92" x2="64.43" y2="183.92" stroke="#333" stroke-width="1"/><line x1="62.61" y1="181.27" x2="64.41" y2="181.27" stroke="#333" stroke-width="1"/><line x1="62" y1="178.9" x2="64.4" y2="178.9" stroke="#000" stroke-width="1.1"/><line x1="62.51" y1="163.31" x2="64.31" y2="163.31" stroke="#333" stroke-width="1"/><line x1="62.46" y1="154.19" x2="64.26" y2="154.19" stroke="#333" stroke-width="1"/><line x1="62.42" y1="147.71" x2="64.22" y2="147.71" stroke="#333" stroke-width="1"/><line x1="62.39" y1="142.69" x2="64.19" y2="142.69" stroke="#333" stroke-width="1"/><line x1="62.37" y1="138.59" x2="64.17" y2="138.59" stroke="#333" stroke-width="1"/><line x1="62.35" y1="135.12" x2="64.15" y2="135.12" stroke="#333" stroke-width="1"/><line x1="62.33" y1="132.12" x2="64.13" y2="132.12" stroke="#333" stroke-width="1"/><line x1="62.31" y1="129.47" x2="64.11" y2="129.47" stroke="#333" stroke-width="1"/><line x1="61.7" y1="127.1" x2="64.1" y2="127.1" stroke="#000" stroke-width="1.1"/><line x1="62.21" y1="111.51" x2="64.01" y2="111.51" stroke="#333" stroke-width="1"/><line x1="62.16" y1="102.39" x2="63.96" y2="102.39" stroke="#333" stroke-width="1"/><line x1="62.12" y1="95.91" x2="63.92" y2="95.91" stroke="#333" stroke-width="1"/><line x1="62.09" y1="90.89" x2="63.89" y2="90.89" stroke="#333" stroke-width="1"/><line x1="62.07" y1="86.79" x2="63.87" y2="86.79" stroke="#333" stroke-width="1"/><line x1="62.05" y1="83.32" x2="63.85" y2="83.32" stroke="#333" stroke-width="1"/><line x1="62.03" y1="80.32" x2="63.83" y2="80.32" stroke="#333" stroke-width="1"/><line x1="62.01" y1="77.67" x2="63.81" y2="77.67" stroke="#333" stroke-width="1"/><line x1="61.4" y1="75.3" x2="63.8" y2="75.3" stroke="#000" stroke-width="1.1"/><line x1="61.91" y1="59.71" x2="63.71" y2="59.71" stroke="#333" stroke-width="1"/><line x1="61.86" y1="50.59" x2="63.66" y2="50.59" stroke="#333" stroke-width="1"/><line x1="61.82" y1="44.11" x2="63.62" y2="44.11" stroke="#333" stroke-width="1"/><line x1="61.79" y1="39.09" x2="63.59" y2="39.09" stroke="#333" stroke-width="1"/><line x1="61.77" y1="34.99" x2="63.57" y2="34.99" stroke="#333" stroke-width="1"/><line x1="61.75" y1="31.52" x2="63.55" y2="31.52" stroke="#333" stroke-width="1"/><line x1="61.73" y1="28.52" x2="63.53" y2="28.52" stroke="#333" stroke-width="1"/><line x1="61.71" y1="25.87" x2="63.51" y2="25.87" stroke="#333" stroke-width="1"/><text transform="translate(66.9 247) scale(1.1 1)" font-size="10.6" text-anchor="middle">0</text><text transform="translate(114.68 247) scale(1.1 1)" font-size="10.6" text-anchor="middle">200</text><text transform="translate(162.46 247) scale(1.1 1)" font-size="10.6" text-anchor="middle">400</text><text transform="translate(210.24 247) scale(1.1 1)" font-size="10.6" text-anchor="middle">600</text><text transform="translate(258.02 247) scale(1.1 1)" font-size="10.6" text-anchor="middle">800</text><text transform="translate(305.8 247) scale(1.1 1)" font-size="10.6" text-anchor="middle">1000</text><text transform="translate(54.6 230.2) rotate(-90) scale(1.12 1)" font-size="10.4" text-anchor="middle">10</text><text transform="translate(47.7 223.6) rotate(-90)" font-size="9.3">0</text><text transform="translate(54.3 178.4) rotate(-90) scale(1.12 1)" font-size="10.4" text-anchor="middle">10</text><text transform="translate(47.4 171.8) rotate(-90)" font-size="9.3">1</text><text transform="translate(54 126.6) rotate(-90) scale(1.12 1)" font-size="10.4" text-anchor="middle">10</text><text transform="translate(47.1 120) rotate(-90)" font-size="9.3">2</text><text transform="translate(53.7 74.8) rotate(-90) scale(1.12 1)" font-size="10.4" text-anchor="middle">10</text><text transform="translate(46.8 68.2) rotate(-90)" font-size="9.3">3</text><text transform="translate(53.4 24.5) rotate(-90) scale(1.12 1)" font-size="10.4" text-anchor="middle">10</text><text transform="translate(46.5 17.9) rotate(-90)" font-size="9.3">4</text><text transform="translate(32.5 139.5) rotate(-90)" font-size="12" text-anchor="middle">Anti-BrdU FITC</text><text transform="translate(152.7 266) scale(1.03 1)" font-size="12" text-anchor="start">Propidium iodide</text><text x="199.4" y="60.2" font-size="13.5" text-anchor="start">U2.Hp21.A2</text><text x="199.4" y="75.9" font-size="13.5" text-anchor="start">Control</text><line x1="96.2" y1="30.4" x2="166.8" y2="30.4" stroke="#555" stroke-width="1.3"/><line x1="96.2" y1="30.4" x2="96.2" y2="230.52" stroke="#8a8a8a" stroke-width="1"/><line x1="166.8" y1="30.4" x2="166.8" y2="230.12" stroke="#999" stroke-width="1"/><line x1="96.2" y1="151.5" x2="166.8" y2="121" stroke="#000" stroke-width="1.4"/><line x1="126.2" y1="138.54" x2="126.2" y2="230.35" stroke="#444" stroke-width="1.3"/><line x1="136.7" y1="134" x2="136.7" y2="230.29" stroke="#999" stroke-width="1"/><line x1="394.6" y1="21.7" x2="499.6" y2="21.15" stroke="#1a1a1a" stroke-width="1.4"/><line x1="499.6" y1="21.15" x2="642" y2="20.4" stroke="#444" stroke-width="1.2"/><line x1="641.5" y1="20.4" x2="642.8" y2="226.9" stroke="#bbb" stroke-width="1.2"/><line x1="395.2" y1="21.7" x2="396.4" y2="228.1" stroke="#222" stroke-width="1.2"/><line x1="395.8" y1="228.1" x2="643.3" y2="226.9" stroke="#111" stroke-width="1.4"/><line x1="397.3" y1="228.1" x2="397.3" y2="234.3" stroke="#000" stroke-width="1.8"/><line x1="406.86" y1="228.05" x2="406.86" y2="232.85" stroke="#000" stroke-width="1.8"/><line x1="416.41" y1="228" x2="416.41" y2="232.8" stroke="#000" stroke-width="1.8"/><line x1="425.97" y1="227.96" x2="425.97" y2="232.76" stroke="#000" stroke-width="1.8"/><line x1="435.52" y1="227.91" x2="435.52" y2="232.71" stroke="#000" stroke-width="1.8"/><line x1="445.08" y1="227.86" x2="445.08" y2="234.06" stroke="#000" stroke-width="1.8"/><line x1="454.64" y1="227.82" x2="454.64" y2="232.62" stroke="#000" stroke-width="1.8"/><line x1="464.19" y1="227.77" x2="464.19" y2="232.57" stroke="#000" stroke-width="1.8"/><line x1="473.75" y1="227.72" x2="473.75" y2="232.52" stroke="#000" stroke-width="1.8"/><line x1="483.3" y1="227.68" x2="483.3" y2="232.48" stroke="#000" stroke-width="1.8"/><line x1="492.86" y1="227.63" x2="492.86" y2="233.83" stroke="#000" stroke-width="1.8"/><line x1="502.42" y1="227.58" x2="502.42" y2="232.38" stroke="#000" stroke-width="1.8"/><line x1="511.97" y1="227.54" x2="511.97" y2="232.34" stroke="#000" stroke-width="1.8"/><line x1="521.53" y1="227.49" x2="521.53" y2="232.29" stroke="#000" stroke-width="1.8"/><line x1="531.08" y1="227.44" x2="531.08" y2="232.24" stroke="#000" stroke-width="1.8"/><line x1="540.64" y1="227.4" x2="540.64" y2="233.6" stroke="#000" stroke-width="1.8"/><line x1="550.2" y1="227.35" x2="550.2" y2="232.15" stroke="#000" stroke-width="1.8"/><line x1="559.75" y1="227.3" x2="559.75" y2="232.1" stroke="#000" stroke-width="1.8"/><line x1="569.31" y1="227.26" x2="569.31" y2="232.06" stroke="#000" stroke-width="1.8"/><line x1="578.86" y1="227.21" x2="578.86" y2="232.01" stroke="#000" stroke-width="1.8"/><line x1="588.42" y1="227.16" x2="588.42" y2="233.36" stroke="#000" stroke-width="1.8"/><line x1="597.98" y1="227.12" x2="597.98" y2="231.92" stroke="#000" stroke-width="1.8"/><line x1="607.53" y1="227.07" x2="607.53" y2="231.87" stroke="#000" stroke-width="1.8"/><line x1="617.09" y1="227.03" x2="617.09" y2="231.83" stroke="#000" stroke-width="1.8"/><line x1="626.64" y1="226.98" x2="626.64" y2="231.78" stroke="#000" stroke-width="1.8"/><line x1="636.2" y1="226.93" x2="636.2" y2="233.13" stroke="#000" stroke-width="1.8"/><line x1="394" y1="228.1" x2="396.4" y2="228.1" stroke="#000" stroke-width="1.1"/><line x1="394.51" y1="212.57" x2="396.31" y2="212.57" stroke="#333" stroke-width="1"/><line x1="394.46" y1="203.48" x2="396.26" y2="203.48" stroke="#333" stroke-width="1"/><line x1="394.42" y1="197.03" x2="396.22" y2="197.03" stroke="#333" stroke-width="1"/><line x1="394.39" y1="192.03" x2="396.19" y2="192.03" stroke="#333" stroke-width="1"/><line x1="394.37" y1="187.95" x2="396.17" y2="187.95" stroke="#333" stroke-width="1"/><line x1="394.35" y1="184.49" x2="396.15" y2="184.49" stroke="#333" stroke-width="1"/><line x1="394.33" y1="181.5" x2="396.13" y2="181.5" stroke="#333" stroke-width="1"/><line x1="394.31" y1="178.86" x2="396.11" y2="178.86" stroke="#333" stroke-width="1"/><line x1="393.7" y1="176.5" x2="396.1" y2="176.5" stroke="#000" stroke-width="1.1"/><line x1="394.21" y1="160.97" x2="396.01" y2="160.97" stroke="#333" stroke-width="1"/><line x1="394.16" y1="151.88" x2="395.96" y2="151.88" stroke="#333" stroke-width="1"/><line x1="394.12" y1="145.43" x2="395.92" y2="145.43" stroke="#333" stroke-width="1"/><line x1="394.09" y1="140.43" x2="395.89" y2="140.43" stroke="#333" stroke-width="1"/><line x1="394.07" y1="136.35" x2="395.87" y2="136.35" stroke="#333" stroke-width="1"/><line x1="394.05" y1="132.89" x2="395.85" y2="132.89" stroke="#333" stroke-width="1"/><line x1="394.03" y1="129.9" x2="395.83" y2="129.9" stroke="#333" stroke-width="1"/><line x1="394.01" y1="127.26" x2="395.81" y2="127.26" stroke="#333" stroke-width="1"/><line x1="393.4" y1="124.9" x2="395.8" y2="124.9" stroke="#000" stroke-width="1.1"/><line x1="393.91" y1="109.37" x2="395.71" y2="109.37" stroke="#333" stroke-width="1"/><line x1="393.86" y1="100.28" x2="395.66" y2="100.28" stroke="#333" stroke-width="1"/><line x1="393.82" y1="93.83" x2="395.62" y2="93.83" stroke="#333" stroke-width="1"/><line x1="393.79" y1="88.83" x2="395.59" y2="88.83" stroke="#333" stroke-width="1"/><line x1="393.77" y1="84.75" x2="395.57" y2="84.75" stroke="#333" stroke-width="1"/><line x1="393.75" y1="81.29" x2="395.55" y2="81.29" stroke="#333" stroke-width="1"/><line x1="393.73" y1="78.3" x2="395.53" y2="78.3" stroke="#333" stroke-width="1"/><line x1="393.71" y1="75.66" x2="395.51" y2="75.66" stroke="#333" stroke-width="1"/><line x1="393.1" y1="73.3" x2="395.5" y2="73.3" stroke="#000" stroke-width="1.1"/><line x1="393.61" y1="57.77" x2="395.41" y2="57.77" stroke="#333" stroke-width="1"/><line x1="393.56" y1="48.68" x2="395.36" y2="48.68" stroke="#333" stroke-width="1"/><line x1="393.52" y1="42.23" x2="395.32" y2="42.23" stroke="#333" stroke-width="1"/><line x1="393.49" y1="37.23" x2="395.29" y2="37.23" stroke="#333" stroke-width="1"/><line x1="393.47" y1="33.15" x2="395.27" y2="33.15" stroke="#333" stroke-width="1"/><line x1="393.45" y1="29.69" x2="395.25" y2="29.69" stroke="#333" stroke-width="1"/><line x1="393.43" y1="26.7" x2="395.23" y2="26.7" stroke="#333" stroke-width="1"/><line x1="393.41" y1="24.06" x2="395.21" y2="24.06" stroke="#333" stroke-width="1"/><text transform="translate(398.8 244.7) scale(1.1 1)" font-size="10.6" text-anchor="middle">0</text><text transform="translate(446.58 244.7) scale(1.1 1)" font-size="10.6" text-anchor="middle">200</text><text transform="translate(494.36 244.7) scale(1.1 1)" font-size="10.6" text-anchor="middle">400</text><text transform="translate(542.14 244.7) scale(1.1 1)" font-size="10.6" text-anchor="middle">600</text><text transform="translate(589.92 244.7) scale(1.1 1)" font-size="10.6" text-anchor="middle">800</text><text transform="translate(637.7 244.7) scale(1.1 1)" font-size="10.6" text-anchor="middle">1000</text><text transform="translate(387.6 227.7) rotate(-90) scale(1.12 1)" font-size="10.4" text-anchor="middle">10</text><text transform="translate(380.7 221.1) rotate(-90)" font-size="9.3">0</text><text transform="translate(387.3 176.1) rotate(-90) scale(1.12 1)" font-size="10.4" text-anchor="middle">10</text><text transform="translate(380.4 169.5) rotate(-90)" font-size="9.3">1</text><text transform="translate(387 124.5) rotate(-90) scale(1.12 1)" font-size="10.4" text-anchor="middle">10</text><text transform="translate(380.1 117.9) rotate(-90)" font-size="9.3">2</text><text transform="translate(386.7 72.9) rotate(-90) scale(1.12 1)" font-size="10.4" text-anchor="middle">10</text><text transform="translate(379.8 66.3) rotate(-90)" font-size="9.3">3</text><text transform="translate(386.4 22.8) rotate(-90) scale(1.12 1)" font-size="10.4" text-anchor="middle">10</text><text transform="translate(379.5 16.2) rotate(-90)" font-size="9.3">4</text><text transform="translate(361.9 137.6) rotate(-90)" font-size="12" text-anchor="middle">Anti-BrdU FITC</text><text transform="translate(484.7 264) scale(1.03 1)" font-size="12" text-anchor="start">Propidium iodide</text><text x="531.6" y="57.7" font-size="13.5" text-anchor="start">U2.Hp21.A2</text><text x="531.6" y="73.5" font-size="13.5" text-anchor="start">+ PonA, 30hr</text><line x1="428.6" y1="29.4" x2="499.6" y2="29.4" stroke="#222" stroke-width="1.3"/><line x1="428.6" y1="29.4" x2="428.6" y2="227.94" stroke="#333" stroke-width="1"/><line x1="499.6" y1="29.4" x2="499.6" y2="227.6" stroke="#888" stroke-width="1"/><line x1="428.6" y1="149.4" x2="499.6" y2="118.6" stroke="#000" stroke-width="1.4"/><line x1="458.5" y1="136.43" x2="458.5" y2="227.8" stroke="#333" stroke-width="1.3"/><line x1="469.1" y1="131.83" x2="469.1" y2="227.75" stroke="#999" stroke-width="1"/><line x1="61.8" y1="364.4" x2="172" y2="363.99" stroke="#1a1a1a" stroke-width="1.4"/><line x1="172" y1="363.99" x2="305.1" y2="363.5" stroke="#777" stroke-width="1.2"/><line x1="304.6" y1="363.5" x2="304.6" y2="569.3" stroke="#666" stroke-width="1.2"/><line x1="62.4" y1="364.4" x2="62.4" y2="569.7" stroke="#222" stroke-width="1.2"/><line x1="61.8" y1="569.7" x2="305.1" y2="569.3" stroke="#111" stroke-width="1.4"/><line x1="64.4" y1="569.7" x2="64.4" y2="575.9" stroke="#000" stroke-width="1.8"/><line x1="73.76" y1="569.68" x2="73.76" y2="574.48" stroke="#000" stroke-width="1.8"/><line x1="83.12" y1="569.67" x2="83.12" y2="574.47" stroke="#000" stroke-width="1.8"/><line x1="92.48" y1="569.65" x2="92.48" y2="574.45" stroke="#000" stroke-width="1.8"/><line x1="101.84" y1="569.63" x2="101.84" y2="574.43" stroke="#000" stroke-width="1.8"/><line x1="111.2" y1="569.62" x2="111.2" y2="575.82" stroke="#000" stroke-width="1.8"/><line x1="120.56" y1="569.6" x2="120.56" y2="574.4" stroke="#000" stroke-width="1.8"/><line x1="129.92" y1="569.59" x2="129.92" y2="574.39" stroke="#000" stroke-width="1.8"/><line x1="139.28" y1="569.57" x2="139.28" y2="574.37" stroke="#000" stroke-width="1.8"/><line x1="148.64" y1="569.56" x2="148.64" y2="574.36" stroke="#000" stroke-width="1.8"/><line x1="158" y1="569.54" x2="158" y2="575.74" stroke="#000" stroke-width="1.8"/><line x1="167.36" y1="569.53" x2="167.36" y2="574.33" stroke="#000" stroke-width="1.8"/><line x1="176.72" y1="569.51" x2="176.72" y2="574.31" stroke="#000" stroke-width="1.8"/><line x1="186.08" y1="569.5" x2="186.08" y2="574.3" stroke="#000" stroke-width="1.8"/><line x1="195.44" y1="569.48" x2="195.44" y2="574.28" stroke="#000" stroke-width="1.8"/><line x1="204.8" y1="569.46" x2="204.8" y2="575.66" stroke="#000" stroke-width="1.8"/><line x1="214.16" y1="569.45" x2="214.16" y2="574.25" stroke="#000" stroke-width="1.8"/><line x1="223.52" y1="569.43" x2="223.52" y2="574.23" stroke="#000" stroke-width="1.8"/><line x1="232.88" y1="569.42" x2="232.88" y2="574.22" stroke="#000" stroke-width="1.8"/><line x1="242.24" y1="569.4" x2="242.24" y2="574.2" stroke="#000" stroke-width="1.8"/><line x1="251.6" y1="569.39" x2="251.6" y2="575.59" stroke="#000" stroke-width="1.8"/><line x1="260.96" y1="569.37" x2="260.96" y2="574.17" stroke="#000" stroke-width="1.8"/><line x1="270.32" y1="569.36" x2="270.32" y2="574.16" stroke="#000" stroke-width="1.8"/><line x1="279.68" y1="569.34" x2="279.68" y2="574.14" stroke="#000" stroke-width="1.8"/><line x1="289.04" y1="569.33" x2="289.04" y2="574.13" stroke="#000" stroke-width="1.8"/><line x1="298.4" y1="569.31" x2="298.4" y2="575.51" stroke="#000" stroke-width="1.8"/><line x1="60" y1="569.7" x2="62.4" y2="569.7" stroke="#000" stroke-width="1.1"/><line x1="60.6" y1="554.25" x2="62.4" y2="554.25" stroke="#333" stroke-width="1"/><line x1="60.6" y1="545.21" x2="62.4" y2="545.21" stroke="#333" stroke-width="1"/><line x1="60.6" y1="538.8" x2="62.4" y2="538.8" stroke="#333" stroke-width="1"/><line x1="60.6" y1="533.83" x2="62.4" y2="533.83" stroke="#333" stroke-width="1"/><line x1="60.6" y1="529.76" x2="62.4" y2="529.76" stroke="#333" stroke-width="1"/><line x1="60.6" y1="526.33" x2="62.4" y2="526.33" stroke="#333" stroke-width="1"/><line x1="60.6" y1="523.35" x2="62.4" y2="523.35" stroke="#333" stroke-width="1"/><line x1="60.6" y1="520.72" x2="62.4" y2="520.72" stroke="#333" stroke-width="1"/><line x1="60" y1="518.38" x2="62.4" y2="518.38" stroke="#000" stroke-width="1.1"/><line x1="60.6" y1="502.92" x2="62.4" y2="502.92" stroke="#333" stroke-width="1"/><line x1="60.6" y1="493.89" x2="62.4" y2="493.89" stroke="#333" stroke-width="1"/><line x1="60.6" y1="487.47" x2="62.4" y2="487.47" stroke="#333" stroke-width="1"/><line x1="60.6" y1="482.5" x2="62.4" y2="482.5" stroke="#333" stroke-width="1"/><line x1="60.6" y1="478.44" x2="62.4" y2="478.44" stroke="#333" stroke-width="1"/><line x1="60.6" y1="475" x2="62.4" y2="475" stroke="#333" stroke-width="1"/><line x1="60.6" y1="472.02" x2="62.4" y2="472.02" stroke="#333" stroke-width="1"/><line x1="60.6" y1="469.4" x2="62.4" y2="469.4" stroke="#333" stroke-width="1"/><line x1="60" y1="467.05" x2="62.4" y2="467.05" stroke="#000" stroke-width="1.1"/><line x1="60.6" y1="451.6" x2="62.4" y2="451.6" stroke="#333" stroke-width="1"/><line x1="60.6" y1="442.56" x2="62.4" y2="442.56" stroke="#333" stroke-width="1"/><line x1="60.6" y1="436.15" x2="62.4" y2="436.15" stroke="#333" stroke-width="1"/><line x1="60.6" y1="431.18" x2="62.4" y2="431.18" stroke="#333" stroke-width="1"/><line x1="60.6" y1="427.11" x2="62.4" y2="427.11" stroke="#333" stroke-width="1"/><line x1="60.6" y1="423.68" x2="62.4" y2="423.68" stroke="#333" stroke-width="1"/><line x1="60.6" y1="420.7" x2="62.4" y2="420.7" stroke="#333" stroke-width="1"/><line x1="60.6" y1="418.07" x2="62.4" y2="418.07" stroke="#333" stroke-width="1"/><line x1="60" y1="415.73" x2="62.4" y2="415.73" stroke="#000" stroke-width="1.1"/><line x1="60.6" y1="400.27" x2="62.4" y2="400.27" stroke="#333" stroke-width="1"/><line x1="60.6" y1="391.24" x2="62.4" y2="391.24" stroke="#333" stroke-width="1"/><line x1="60.6" y1="384.82" x2="62.4" y2="384.82" stroke="#333" stroke-width="1"/><line x1="60.6" y1="379.85" x2="62.4" y2="379.85" stroke="#333" stroke-width="1"/><line x1="60.6" y1="375.79" x2="62.4" y2="375.79" stroke="#333" stroke-width="1"/><line x1="60.6" y1="372.35" x2="62.4" y2="372.35" stroke="#333" stroke-width="1"/><line x1="60.6" y1="369.37" x2="62.4" y2="369.37" stroke="#333" stroke-width="1"/><line x1="60.6" y1="366.75" x2="62.4" y2="366.75" stroke="#333" stroke-width="1"/><text transform="translate(64.6 588.5) scale(1.1 1)" font-size="10.6" text-anchor="middle">0</text><text transform="translate(111.4 588.5) scale(1.1 1)" font-size="10.6" text-anchor="middle">200</text><text transform="translate(158.2 588.5) scale(1.1 1)" font-size="10.6" text-anchor="middle">400</text><text transform="translate(205 588.5) scale(1.1 1)" font-size="10.6" text-anchor="middle">600</text><text transform="translate(251.8 588.5) scale(1.1 1)" font-size="10.6" text-anchor="middle">800</text><text transform="translate(298.6 588.5) scale(1.1 1)" font-size="10.6" text-anchor="middle">1000</text><text transform="translate(51.6 570.3) rotate(-90) scale(1.12 1)" font-size="10.4" text-anchor="middle">10</text><text transform="translate(44.7 563.7) rotate(-90)" font-size="9.3">0</text><text transform="translate(51.6 518.98) rotate(-90) scale(1.12 1)" font-size="10.4" text-anchor="middle">10</text><text transform="translate(44.7 512.38) rotate(-90)" font-size="9.3">1</text><text transform="translate(51.6 467.65) rotate(-90) scale(1.12 1)" font-size="10.4" text-anchor="middle">10</text><text transform="translate(44.7 461.05) rotate(-90)" font-size="9.3">2</text><text transform="translate(51.6 416.33) rotate(-90) scale(1.12 1)" font-size="10.4" text-anchor="middle">10</text><text transform="translate(44.7 409.73) rotate(-90)" font-size="9.3">3</text><text transform="translate(51.6 366.5) rotate(-90) scale(1.12 1)" font-size="10.4" text-anchor="middle">10</text><text transform="translate(44.7 359.9) rotate(-90)" font-size="9.3">4</text><text transform="translate(27.5 467.3) rotate(-90)" font-size="12" text-anchor="middle">FITC</text><text transform="translate(148.4 610.6) scale(1.005 1)" font-size="12" text-anchor="start">Propidium iodide</text><text x="202.3" y="393.7" font-size="13.5" text-anchor="start">U2.Hp21.A2</text><text x="202.3" y="409.4" font-size="13.5" text-anchor="start">Control</text><text transform="translate(74.6 388.6) scale(1.02 1)" font-size="11.6" text-anchor="start">1.02%</text><line x1="172" y1="363.99" x2="172" y2="482.2" stroke="#999" stroke-width="1.3"/><line x1="62.4" y1="520" x2="172" y2="482.2" stroke="#111" stroke-width="1.2"/><line x1="398.9" y1="364.1" x2="510.9" y2="363.59" stroke="#1a1a1a" stroke-width="1.4"/><line x1="510.9" y1="363.59" x2="639.9" y2="363" stroke="#555" stroke-width="1.2"/><line x1="639.4" y1="363" x2="640.3" y2="568.4" stroke="#666" stroke-width="1.2"/><line x1="399.5" y1="364.1" x2="399.7" y2="569.7" stroke="#222" stroke-width="1.2"/><line x1="399.1" y1="569.7" x2="640.8" y2="568.4" stroke="#111" stroke-width="1.4"/><line x1="400" y1="569.7" x2="400" y2="575.9" stroke="#000" stroke-width="1.8"/><line x1="409.35" y1="569.65" x2="409.35" y2="574.45" stroke="#000" stroke-width="1.8"/><line x1="418.7" y1="569.6" x2="418.7" y2="574.4" stroke="#000" stroke-width="1.8"/><line x1="428.06" y1="569.55" x2="428.06" y2="574.35" stroke="#000" stroke-width="1.8"/><line x1="437.41" y1="569.5" x2="437.41" y2="574.3" stroke="#000" stroke-width="1.8"/><line x1="446.76" y1="569.45" x2="446.76" y2="575.65" stroke="#000" stroke-width="1.8"/><line x1="456.11" y1="569.4" x2="456.11" y2="574.2" stroke="#000" stroke-width="1.8"/><line x1="465.46" y1="569.34" x2="465.46" y2="574.14" stroke="#000" stroke-width="1.8"/><line x1="474.82" y1="569.29" x2="474.82" y2="574.09" stroke="#000" stroke-width="1.8"/><line x1="484.17" y1="569.24" x2="484.17" y2="574.04" stroke="#000" stroke-width="1.8"/><line x1="493.52" y1="569.19" x2="493.52" y2="575.39" stroke="#000" stroke-width="1.8"/><line x1="502.87" y1="569.14" x2="502.87" y2="573.94" stroke="#000" stroke-width="1.8"/><line x1="512.22" y1="569.09" x2="512.22" y2="573.89" stroke="#000" stroke-width="1.8"/><line x1="521.58" y1="569.04" x2="521.58" y2="573.84" stroke="#000" stroke-width="1.8"/><line x1="530.93" y1="568.99" x2="530.93" y2="573.79" stroke="#000" stroke-width="1.8"/><line x1="540.28" y1="568.94" x2="540.28" y2="575.14" stroke="#000" stroke-width="1.8"/><line x1="549.63" y1="568.89" x2="549.63" y2="573.69" stroke="#000" stroke-width="1.8"/><line x1="558.98" y1="568.84" x2="558.98" y2="573.64" stroke="#000" stroke-width="1.8"/><line x1="568.34" y1="568.79" x2="568.34" y2="573.59" stroke="#000" stroke-width="1.8"/><line x1="577.69" y1="568.74" x2="577.69" y2="573.54" stroke="#000" stroke-width="1.8"/><line x1="587.04" y1="568.69" x2="587.04" y2="574.89" stroke="#000" stroke-width="1.8"/><line x1="596.39" y1="568.64" x2="596.39" y2="573.44" stroke="#000" stroke-width="1.8"/><line x1="605.74" y1="568.59" x2="605.74" y2="573.39" stroke="#000" stroke-width="1.8"/><line x1="615.1" y1="568.54" x2="615.1" y2="573.34" stroke="#000" stroke-width="1.8"/><line x1="624.45" y1="568.49" x2="624.45" y2="573.29" stroke="#000" stroke-width="1.8"/><line x1="633.8" y1="568.44" x2="633.8" y2="574.64" stroke="#000" stroke-width="1.8"/><line x1="397.3" y1="569.7" x2="399.7" y2="569.7" stroke="#000" stroke-width="1.1"/><line x1="397.88" y1="554.23" x2="399.68" y2="554.23" stroke="#333" stroke-width="1"/><line x1="397.88" y1="545.18" x2="399.68" y2="545.18" stroke="#333" stroke-width="1"/><line x1="397.87" y1="538.75" x2="399.67" y2="538.75" stroke="#333" stroke-width="1"/><line x1="397.87" y1="533.77" x2="399.67" y2="533.77" stroke="#333" stroke-width="1"/><line x1="397.86" y1="529.7" x2="399.66" y2="529.7" stroke="#333" stroke-width="1"/><line x1="397.86" y1="526.26" x2="399.66" y2="526.26" stroke="#333" stroke-width="1"/><line x1="397.85" y1="523.28" x2="399.65" y2="523.28" stroke="#333" stroke-width="1"/><line x1="397.85" y1="520.65" x2="399.65" y2="520.65" stroke="#333" stroke-width="1"/><line x1="397.25" y1="518.3" x2="399.65" y2="518.3" stroke="#000" stroke-width="1.1"/><line x1="397.83" y1="502.83" x2="399.63" y2="502.83" stroke="#333" stroke-width="1"/><line x1="397.83" y1="493.78" x2="399.63" y2="493.78" stroke="#333" stroke-width="1"/><line x1="397.82" y1="487.35" x2="399.62" y2="487.35" stroke="#333" stroke-width="1"/><line x1="397.82" y1="482.37" x2="399.62" y2="482.37" stroke="#333" stroke-width="1"/><line x1="397.81" y1="478.3" x2="399.61" y2="478.3" stroke="#333" stroke-width="1"/><line x1="397.81" y1="474.86" x2="399.61" y2="474.86" stroke="#333" stroke-width="1"/><line x1="397.8" y1="471.88" x2="399.6" y2="471.88" stroke="#333" stroke-width="1"/><line x1="397.8" y1="469.25" x2="399.6" y2="469.25" stroke="#333" stroke-width="1"/><line x1="397.2" y1="466.9" x2="399.6" y2="466.9" stroke="#000" stroke-width="1.1"/><line x1="397.78" y1="451.43" x2="399.58" y2="451.43" stroke="#333" stroke-width="1"/><line x1="397.78" y1="442.38" x2="399.58" y2="442.38" stroke="#333" stroke-width="1"/><line x1="397.77" y1="435.95" x2="399.57" y2="435.95" stroke="#333" stroke-width="1"/><line x1="397.77" y1="430.97" x2="399.57" y2="430.97" stroke="#333" stroke-width="1"/><line x1="397.76" y1="426.9" x2="399.56" y2="426.9" stroke="#333" stroke-width="1"/><line x1="397.76" y1="423.46" x2="399.56" y2="423.46" stroke="#333" stroke-width="1"/><line x1="397.75" y1="420.48" x2="399.55" y2="420.48" stroke="#333" stroke-width="1"/><line x1="397.75" y1="417.85" x2="399.55" y2="417.85" stroke="#333" stroke-width="1"/><line x1="397.15" y1="415.5" x2="399.55" y2="415.5" stroke="#000" stroke-width="1.1"/><line x1="397.73" y1="400.03" x2="399.53" y2="400.03" stroke="#333" stroke-width="1"/><line x1="397.73" y1="390.98" x2="399.53" y2="390.98" stroke="#333" stroke-width="1"/><line x1="397.72" y1="384.55" x2="399.52" y2="384.55" stroke="#333" stroke-width="1"/><line x1="397.72" y1="379.57" x2="399.52" y2="379.57" stroke="#333" stroke-width="1"/><line x1="397.71" y1="375.5" x2="399.51" y2="375.5" stroke="#333" stroke-width="1"/><line x1="397.71" y1="372.06" x2="399.51" y2="372.06" stroke="#333" stroke-width="1"/><line x1="397.7" y1="369.08" x2="399.5" y2="369.08" stroke="#333" stroke-width="1"/><line x1="397.7" y1="366.45" x2="399.5" y2="366.45" stroke="#333" stroke-width="1"/><text transform="translate(400.1 586.7) scale(1.1 1)" font-size="10.6" text-anchor="middle">0</text><text transform="translate(446.86 586.7) scale(1.1 1)" font-size="10.6" text-anchor="middle">200</text><text transform="translate(493.62 586.7) scale(1.1 1)" font-size="10.6" text-anchor="middle">400</text><text transform="translate(540.38 586.7) scale(1.1 1)" font-size="10.6" text-anchor="middle">600</text><text transform="translate(587.14 586.7) scale(1.1 1)" font-size="10.6" text-anchor="middle">800</text><text transform="translate(633.9 586.7) scale(1.1 1)" font-size="10.6" text-anchor="middle">1000</text><text transform="translate(386.6 569.5) rotate(-90) scale(1.12 1)" font-size="10.4" text-anchor="middle">10</text><text transform="translate(379.7 562.9) rotate(-90)" font-size="9.3">0</text><text transform="translate(386.55 518.1) rotate(-90) scale(1.12 1)" font-size="10.4" text-anchor="middle">10</text><text transform="translate(379.65 511.5) rotate(-90)" font-size="9.3">1</text><text transform="translate(386.5 466.7) rotate(-90) scale(1.12 1)" font-size="10.4" text-anchor="middle">10</text><text transform="translate(379.6 460.1) rotate(-90)" font-size="9.3">2</text><text transform="translate(386.45 415.3) rotate(-90) scale(1.12 1)" font-size="10.4" text-anchor="middle">10</text><text transform="translate(379.55 408.7) rotate(-90)" font-size="9.3">3</text><text transform="translate(386.4 365.4) rotate(-90) scale(1.12 1)" font-size="10.4" text-anchor="middle">10</text><text transform="translate(379.5 358.8) rotate(-90)" font-size="9.3">4</text><text transform="translate(365 466.5) rotate(-90)" font-size="12" text-anchor="middle">FITC</text><text transform="translate(483.7 610) scale(1.005 1)" font-size="12" text-anchor="start">Propidium iodide</text><text x="540.7" y="391.9" font-size="13.5" text-anchor="start">U2.Hp21.A2</text><text x="540.7" y="407.6" font-size="13.5" text-anchor="start">UV, 48hr</text><text transform="translate(411.8 387.7) scale(1.02 1)" font-size="11.6" text-anchor="start">73.20%</text><line x1="510.9" y1="363.59" x2="510.9" y2="485.9" stroke="#555" stroke-width="1.3"/><line x1="399.5" y1="519.9" x2="510.9" y2="485.9" stroke="#111" stroke-width="1.2"/><line x1="63.9" y1="675.7" x2="174.4" y2="675.25" stroke="#1a1a1a" stroke-width="1.4"/><line x1="174.4" y1="675.25" x2="306.8" y2="674.7" stroke="#777" stroke-width="1.2"/><line x1="306.3" y1="674.7" x2="307" y2="881.2" stroke="#d0d0d0" stroke-width="1.2"/><line x1="64.5" y1="675.7" x2="64.7" y2="882" stroke="#222" stroke-width="1.2"/><line x1="64.1" y1="882" x2="307.5" y2="881.2" stroke="#111" stroke-width="1.4"/><line x1="65.2" y1="882" x2="65.2" y2="888.2" stroke="#000" stroke-width="1.8"/><line x1="74.57" y1="881.97" x2="74.57" y2="886.77" stroke="#000" stroke-width="1.8"/><line x1="83.94" y1="881.94" x2="83.94" y2="886.74" stroke="#000" stroke-width="1.8"/><line x1="93.32" y1="881.91" x2="93.32" y2="886.71" stroke="#000" stroke-width="1.8"/><line x1="102.69" y1="881.87" x2="102.69" y2="886.67" stroke="#000" stroke-width="1.8"/><line x1="112.06" y1="881.84" x2="112.06" y2="888.04" stroke="#000" stroke-width="1.8"/><line x1="121.43" y1="881.81" x2="121.43" y2="886.61" stroke="#000" stroke-width="1.8"/><line x1="130.8" y1="881.78" x2="130.8" y2="886.58" stroke="#000" stroke-width="1.8"/><line x1="140.18" y1="881.75" x2="140.18" y2="886.55" stroke="#000" stroke-width="1.8"/><line x1="149.55" y1="881.72" x2="149.55" y2="886.52" stroke="#000" stroke-width="1.8"/><line x1="158.92" y1="881.69" x2="158.92" y2="887.89" stroke="#000" stroke-width="1.8"/><line x1="168.29" y1="881.66" x2="168.29" y2="886.46" stroke="#000" stroke-width="1.8"/><line x1="177.66" y1="881.63" x2="177.66" y2="886.43" stroke="#000" stroke-width="1.8"/><line x1="187.04" y1="881.6" x2="187.04" y2="886.4" stroke="#000" stroke-width="1.8"/><line x1="196.41" y1="881.57" x2="196.41" y2="886.37" stroke="#000" stroke-width="1.8"/><line x1="205.78" y1="881.53" x2="205.78" y2="887.73" stroke="#000" stroke-width="1.8"/><line x1="215.15" y1="881.5" x2="215.15" y2="886.3" stroke="#000" stroke-width="1.8"/><line x1="224.52" y1="881.47" x2="224.52" y2="886.27" stroke="#000" stroke-width="1.8"/><line x1="233.9" y1="881.44" x2="233.9" y2="886.24" stroke="#000" stroke-width="1.8"/><line x1="243.27" y1="881.41" x2="243.27" y2="886.21" stroke="#000" stroke-width="1.8"/><line x1="252.64" y1="881.38" x2="252.64" y2="887.58" stroke="#000" stroke-width="1.8"/><line x1="262.01" y1="881.35" x2="262.01" y2="886.15" stroke="#000" stroke-width="1.8"/><line x1="271.38" y1="881.32" x2="271.38" y2="886.12" stroke="#000" stroke-width="1.8"/><line x1="280.76" y1="881.29" x2="280.76" y2="886.09" stroke="#000" stroke-width="1.8"/><line x1="290.13" y1="881.26" x2="290.13" y2="886.06" stroke="#000" stroke-width="1.8"/><line x1="299.5" y1="881.22" x2="299.5" y2="887.42" stroke="#000" stroke-width="1.8"/><line x1="62.3" y1="882" x2="64.7" y2="882" stroke="#000" stroke-width="1.1"/><line x1="62.88" y1="866.47" x2="64.68" y2="866.47" stroke="#333" stroke-width="1"/><line x1="62.88" y1="857.39" x2="64.68" y2="857.39" stroke="#333" stroke-width="1"/><line x1="62.87" y1="850.95" x2="64.67" y2="850.95" stroke="#333" stroke-width="1"/><line x1="62.87" y1="845.95" x2="64.67" y2="845.95" stroke="#333" stroke-width="1"/><line x1="62.86" y1="841.87" x2="64.66" y2="841.87" stroke="#333" stroke-width="1"/><line x1="62.86" y1="838.41" x2="64.66" y2="838.41" stroke="#333" stroke-width="1"/><line x1="62.85" y1="835.42" x2="64.65" y2="835.42" stroke="#333" stroke-width="1"/><line x1="62.85" y1="832.78" x2="64.65" y2="832.78" stroke="#333" stroke-width="1"/><line x1="62.25" y1="830.42" x2="64.65" y2="830.42" stroke="#000" stroke-width="1.1"/><line x1="62.83" y1="814.9" x2="64.63" y2="814.9" stroke="#333" stroke-width="1"/><line x1="62.83" y1="805.82" x2="64.63" y2="805.82" stroke="#333" stroke-width="1"/><line x1="62.82" y1="799.37" x2="64.62" y2="799.37" stroke="#333" stroke-width="1"/><line x1="62.82" y1="794.38" x2="64.62" y2="794.38" stroke="#333" stroke-width="1"/><line x1="62.81" y1="790.29" x2="64.61" y2="790.29" stroke="#333" stroke-width="1"/><line x1="62.81" y1="786.84" x2="64.61" y2="786.84" stroke="#333" stroke-width="1"/><line x1="62.8" y1="783.85" x2="64.6" y2="783.85" stroke="#333" stroke-width="1"/><line x1="62.8" y1="781.21" x2="64.6" y2="781.21" stroke="#333" stroke-width="1"/><line x1="62.2" y1="778.85" x2="64.6" y2="778.85" stroke="#000" stroke-width="1.1"/><line x1="62.78" y1="763.32" x2="64.58" y2="763.32" stroke="#333" stroke-width="1"/><line x1="62.78" y1="754.24" x2="64.58" y2="754.24" stroke="#333" stroke-width="1"/><line x1="62.77" y1="747.8" x2="64.57" y2="747.8" stroke="#333" stroke-width="1"/><line x1="62.77" y1="742.8" x2="64.57" y2="742.8" stroke="#333" stroke-width="1"/><line x1="62.76" y1="738.72" x2="64.56" y2="738.72" stroke="#333" stroke-width="1"/><line x1="62.76" y1="735.26" x2="64.56" y2="735.26" stroke="#333" stroke-width="1"/><line x1="62.75" y1="732.27" x2="64.55" y2="732.27" stroke="#333" stroke-width="1"/><line x1="62.75" y1="729.63" x2="64.55" y2="729.63" stroke="#333" stroke-width="1"/><line x1="62.15" y1="727.28" x2="64.55" y2="727.28" stroke="#000" stroke-width="1.1"/><line x1="62.73" y1="711.75" x2="64.53" y2="711.75" stroke="#333" stroke-width="1"/><line x1="62.73" y1="702.67" x2="64.53" y2="702.67" stroke="#333" stroke-width="1"/><line x1="62.72" y1="696.22" x2="64.52" y2="696.22" stroke="#333" stroke-width="1"/><line x1="62.72" y1="691.23" x2="64.52" y2="691.23" stroke="#333" stroke-width="1"/><line x1="62.71" y1="687.14" x2="64.51" y2="687.14" stroke="#333" stroke-width="1"/><line x1="62.71" y1="683.69" x2="64.51" y2="683.69" stroke="#333" stroke-width="1"/><line x1="62.7" y1="680.7" x2="64.5" y2="680.7" stroke="#333" stroke-width="1"/><line x1="62.7" y1="678.06" x2="64.5" y2="678.06" stroke="#333" stroke-width="1"/><text transform="translate(65.2 898.6) scale(1.1 1)" font-size="10.6" text-anchor="middle">0</text><text transform="translate(112.06 898.6) scale(1.1 1)" font-size="10.6" text-anchor="middle">200</text><text transform="translate(158.92 898.6) scale(1.1 1)" font-size="10.6" text-anchor="middle">400</text><text transform="translate(205.78 898.6) scale(1.1 1)" font-size="10.6" text-anchor="middle">600</text><text transform="translate(252.64 898.6) scale(1.1 1)" font-size="10.6" text-anchor="middle">800</text><text transform="translate(299.5 898.6) scale(1.1 1)" font-size="10.6" text-anchor="middle">1000</text><text transform="translate(52.3 883.3) rotate(-90) scale(1.12 1)" font-size="10.4" text-anchor="middle">10</text><text transform="translate(45.4 876.7) rotate(-90)" font-size="9.3">0</text><text transform="translate(52.25 831.72) rotate(-90) scale(1.12 1)" font-size="10.4" text-anchor="middle">10</text><text transform="translate(45.35 825.12) rotate(-90)" font-size="9.3">1</text><text transform="translate(52.2 780.15) rotate(-90) scale(1.12 1)" font-size="10.4" text-anchor="middle">10</text><text transform="translate(45.3 773.55) rotate(-90)" font-size="9.3">2</text><text transform="translate(52.15 728.58) rotate(-90) scale(1.12 1)" font-size="10.4" text-anchor="middle">10</text><text transform="translate(45.25 721.98) rotate(-90)" font-size="9.3">3</text><text transform="translate(52.1 678.5) rotate(-90) scale(1.12 1)" font-size="10.4" text-anchor="middle">10</text><text transform="translate(45.2 671.9) rotate(-90)" font-size="9.3">4</text><text transform="translate(27.5 779) rotate(-90)" font-size="12" text-anchor="middle">FITC</text><text transform="translate(149.4 920.9) scale(1.005 1)" font-size="12" text-anchor="start">Propidium iodide</text><text x="203.4" y="704.5" font-size="13.5" text-anchor="start">U2.Hp21.A2</text><text x="203.4" y="721.4" font-size="13.5" text-anchor="start">+ PonA,</text><text x="203.4" y="736.3" font-size="13.5" text-anchor="start">+ UV, 48hr</text><text transform="translate(77.5 700.5) scale(1.02 1)" font-size="11.6" text-anchor="start">23.91%</text><line x1="174.4" y1="675.25" x2="174.4" y2="793.9" stroke="#b0b0b0" stroke-width="1.3"/><line x1="64.6" y1="832.7" x2="174.4" y2="793.9" stroke="#111" stroke-width="1.2"/><line x1="402.7" y1="673.1" x2="512.1" y2="672.6" stroke="#1a1a1a" stroke-width="1.4"/><line x1="512.1" y1="672.6" x2="642.8" y2="672" stroke="#999" stroke-width="1.2"/><line x1="642.3" y1="672" x2="643.6" y2="879.3" stroke="#999" stroke-width="1.2"/><line x1="403.3" y1="673.1" x2="403.4" y2="880.2" stroke="#222" stroke-width="1.2"/><line x1="402.8" y1="880.2" x2="644.1" y2="879.3" stroke="#111" stroke-width="1.4"/><line x1="402.9" y1="880.2" x2="402.9" y2="886.4" stroke="#000" stroke-width="1.8"/><line x1="412.26" y1="880.17" x2="412.26" y2="884.97" stroke="#000" stroke-width="1.8"/><line x1="421.62" y1="880.13" x2="421.62" y2="884.93" stroke="#000" stroke-width="1.8"/><line x1="430.98" y1="880.1" x2="430.98" y2="884.9" stroke="#000" stroke-width="1.8"/><line x1="440.34" y1="880.06" x2="440.34" y2="884.86" stroke="#000" stroke-width="1.8"/><line x1="449.7" y1="880.03" x2="449.7" y2="886.23" stroke="#000" stroke-width="1.8"/><line x1="459.06" y1="879.99" x2="459.06" y2="884.79" stroke="#000" stroke-width="1.8"/><line x1="468.42" y1="879.96" x2="468.42" y2="884.76" stroke="#000" stroke-width="1.8"/><line x1="477.78" y1="879.92" x2="477.78" y2="884.72" stroke="#000" stroke-width="1.8"/><line x1="487.14" y1="879.89" x2="487.14" y2="884.69" stroke="#000" stroke-width="1.8"/><line x1="496.5" y1="879.85" x2="496.5" y2="886.05" stroke="#000" stroke-width="1.8"/><line x1="505.86" y1="879.82" x2="505.86" y2="884.62" stroke="#000" stroke-width="1.8"/><line x1="515.22" y1="879.78" x2="515.22" y2="884.58" stroke="#000" stroke-width="1.8"/><line x1="524.58" y1="879.75" x2="524.58" y2="884.55" stroke="#000" stroke-width="1.8"/><line x1="533.94" y1="879.71" x2="533.94" y2="884.51" stroke="#000" stroke-width="1.8"/><line x1="543.3" y1="879.68" x2="543.3" y2="885.88" stroke="#000" stroke-width="1.8"/><line x1="552.66" y1="879.64" x2="552.66" y2="884.44" stroke="#000" stroke-width="1.8"/><line x1="562.02" y1="879.61" x2="562.02" y2="884.41" stroke="#000" stroke-width="1.8"/><line x1="571.38" y1="879.57" x2="571.38" y2="884.37" stroke="#000" stroke-width="1.8"/><line x1="580.74" y1="879.54" x2="580.74" y2="884.34" stroke="#000" stroke-width="1.8"/><line x1="590.1" y1="879.5" x2="590.1" y2="885.7" stroke="#000" stroke-width="1.8"/><line x1="599.46" y1="879.47" x2="599.46" y2="884.27" stroke="#000" stroke-width="1.8"/><line x1="608.82" y1="879.43" x2="608.82" y2="884.23" stroke="#000" stroke-width="1.8"/><line x1="618.18" y1="879.4" x2="618.18" y2="884.2" stroke="#000" stroke-width="1.8"/><line x1="627.54" y1="879.36" x2="627.54" y2="884.16" stroke="#000" stroke-width="1.8"/><line x1="636.9" y1="879.33" x2="636.9" y2="885.53" stroke="#000" stroke-width="1.8"/><line x1="401" y1="880.2" x2="403.4" y2="880.2" stroke="#000" stroke-width="1.1"/><line x1="401.59" y1="864.61" x2="403.39" y2="864.61" stroke="#333" stroke-width="1"/><line x1="401.59" y1="855.5" x2="403.39" y2="855.5" stroke="#333" stroke-width="1"/><line x1="401.58" y1="849.03" x2="403.38" y2="849.03" stroke="#333" stroke-width="1"/><line x1="401.58" y1="844.01" x2="403.38" y2="844.01" stroke="#333" stroke-width="1"/><line x1="401.58" y1="839.91" x2="403.38" y2="839.91" stroke="#333" stroke-width="1"/><line x1="401.58" y1="836.45" x2="403.38" y2="836.45" stroke="#333" stroke-width="1"/><line x1="401.58" y1="833.44" x2="403.38" y2="833.44" stroke="#333" stroke-width="1"/><line x1="401.58" y1="830.79" x2="403.38" y2="830.79" stroke="#333" stroke-width="1"/><line x1="400.98" y1="828.43" x2="403.38" y2="828.43" stroke="#000" stroke-width="1.1"/><line x1="401.57" y1="812.84" x2="403.37" y2="812.84" stroke="#333" stroke-width="1"/><line x1="401.56" y1="803.72" x2="403.36" y2="803.72" stroke="#333" stroke-width="1"/><line x1="401.56" y1="797.25" x2="403.36" y2="797.25" stroke="#333" stroke-width="1"/><line x1="401.56" y1="792.24" x2="403.36" y2="792.24" stroke="#333" stroke-width="1"/><line x1="401.56" y1="788.14" x2="403.36" y2="788.14" stroke="#333" stroke-width="1"/><line x1="401.55" y1="784.67" x2="403.35" y2="784.67" stroke="#333" stroke-width="1"/><line x1="401.55" y1="781.67" x2="403.35" y2="781.67" stroke="#333" stroke-width="1"/><line x1="401.55" y1="779.02" x2="403.35" y2="779.02" stroke="#333" stroke-width="1"/><line x1="400.95" y1="776.65" x2="403.35" y2="776.65" stroke="#000" stroke-width="1.1"/><line x1="401.54" y1="761.06" x2="403.34" y2="761.06" stroke="#333" stroke-width="1"/><line x1="401.54" y1="751.95" x2="403.34" y2="751.95" stroke="#333" stroke-width="1"/><line x1="401.53" y1="745.48" x2="403.33" y2="745.48" stroke="#333" stroke-width="1"/><line x1="401.53" y1="740.46" x2="403.33" y2="740.46" stroke="#333" stroke-width="1"/><line x1="401.53" y1="736.36" x2="403.33" y2="736.36" stroke="#333" stroke-width="1"/><line x1="401.53" y1="732.9" x2="403.33" y2="732.9" stroke="#333" stroke-width="1"/><line x1="401.53" y1="729.89" x2="403.33" y2="729.89" stroke="#333" stroke-width="1"/><line x1="401.53" y1="727.24" x2="403.33" y2="727.24" stroke="#333" stroke-width="1"/><line x1="400.93" y1="724.88" x2="403.32" y2="724.88" stroke="#000" stroke-width="1.1"/><line x1="401.52" y1="709.29" x2="403.32" y2="709.29" stroke="#333" stroke-width="1"/><line x1="401.51" y1="700.17" x2="403.31" y2="700.17" stroke="#333" stroke-width="1"/><line x1="401.51" y1="693.7" x2="403.31" y2="693.7" stroke="#333" stroke-width="1"/><line x1="401.51" y1="688.69" x2="403.31" y2="688.69" stroke="#333" stroke-width="1"/><line x1="401.51" y1="684.59" x2="403.31" y2="684.59" stroke="#333" stroke-width="1"/><line x1="401.5" y1="681.12" x2="403.3" y2="681.12" stroke="#333" stroke-width="1"/><line x1="401.5" y1="678.12" x2="403.3" y2="678.12" stroke="#333" stroke-width="1"/><line x1="401.5" y1="675.47" x2="403.3" y2="675.47" stroke="#333" stroke-width="1"/><text transform="translate(402.9 897.6) scale(1.1 1)" font-size="10.6" text-anchor="middle">0</text><text transform="translate(449.7 897.6) scale(1.1 1)" font-size="10.6" text-anchor="middle">200</text><text transform="translate(496.5 897.6) scale(1.1 1)" font-size="10.6" text-anchor="middle">400</text><text transform="translate(543.3 897.6) scale(1.1 1)" font-size="10.6" text-anchor="middle">600</text><text transform="translate(590.1 897.6) scale(1.1 1)" font-size="10.6" text-anchor="middle">800</text><text transform="translate(636.9 897.6) scale(1.1 1)" font-size="10.6" text-anchor="middle">1000</text><text transform="translate(390 882.2) rotate(-90) scale(1.12 1)" font-size="10.4" text-anchor="middle">10</text><text transform="translate(383.1 875.6) rotate(-90)" font-size="9.3">0</text><text transform="translate(389.98 830.43) rotate(-90) scale(1.12 1)" font-size="10.4" text-anchor="middle">10</text><text transform="translate(383.08 823.83) rotate(-90)" font-size="9.3">1</text><text transform="translate(389.95 778.65) rotate(-90) scale(1.12 1)" font-size="10.4" text-anchor="middle">10</text><text transform="translate(383.05 772.05) rotate(-90)" font-size="9.3">2</text><text transform="translate(389.93 726.88) rotate(-90) scale(1.12 1)" font-size="10.4" text-anchor="middle">10</text><text transform="translate(383.03 720.27) rotate(-90)" font-size="9.3">3</text><text transform="translate(389.9 676.6) rotate(-90) scale(1.12 1)" font-size="10.4" text-anchor="middle">10</text><text transform="translate(383 670) rotate(-90)" font-size="9.3">4</text><text transform="translate(366 777.3) rotate(-90)" font-size="12" text-anchor="middle">FITC</text><text transform="translate(487.5 920) scale(1.005 1)" font-size="12" text-anchor="start">Propidium iodide</text><text x="541.3" y="703.7" font-size="13.5" text-anchor="start">U2.Hp21.A2</text><text x="541.3" y="719.5" font-size="13.5" text-anchor="start">+ PonA,</text><text x="541.3" y="735" font-size="13.5" text-anchor="start">+ UV, 120hr</text><text transform="translate(415.4 699.4) scale(1.02 1)" font-size="11.6" text-anchor="start">52.62%</text><line x1="512.1" y1="672.6" x2="512.1" y2="790.6" stroke="#777" stroke-width="1.3"/><line x1="403.3" y1="830.5" x2="512.1" y2="790.6" stroke="#111" stroke-width="1.2"/><text x="0.5" y="14" font-size="16.5" font-weight="bold">B</text><text x="0.5" y="362" font-size="16.5" font-weight="bold">C</text></svg></body></html>
